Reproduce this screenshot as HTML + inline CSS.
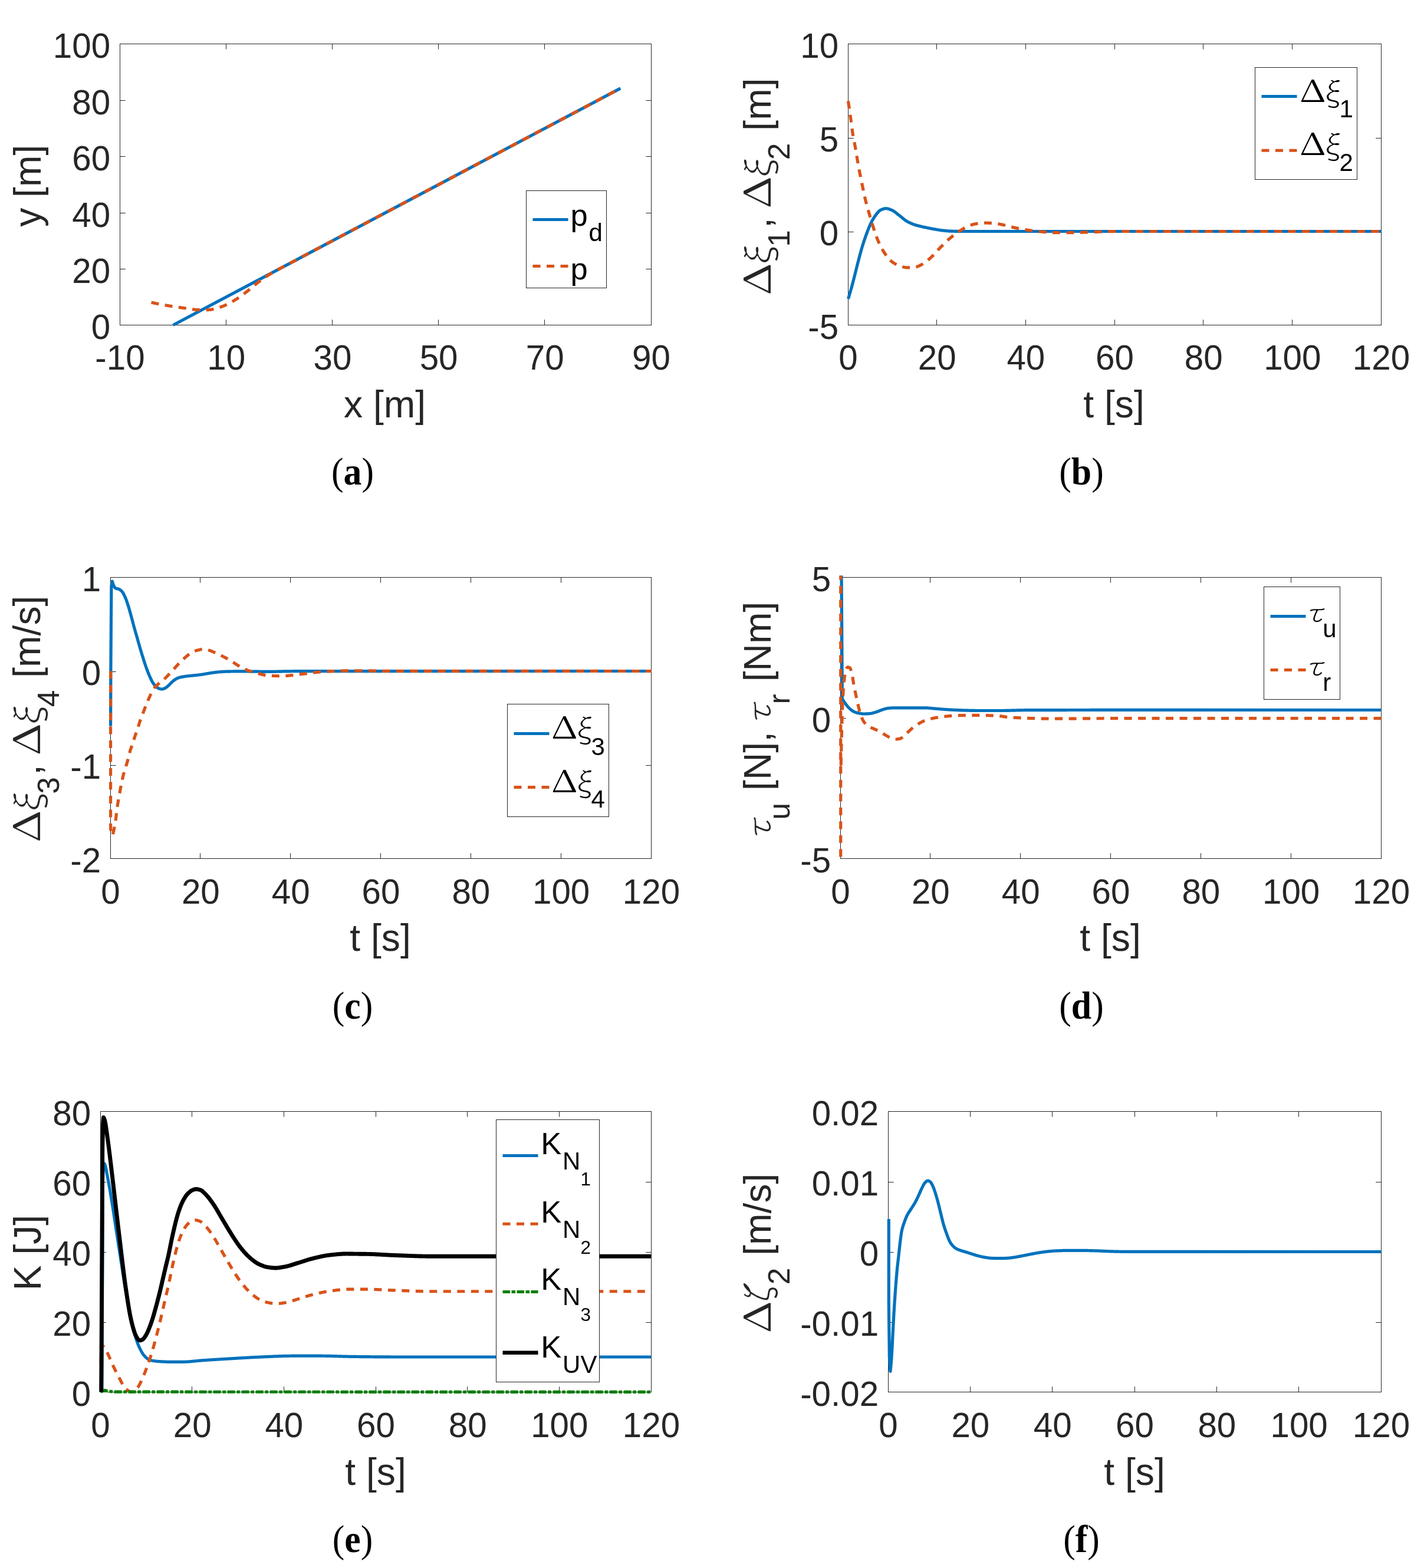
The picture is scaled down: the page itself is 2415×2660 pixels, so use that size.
<!DOCTYPE html>
<html lang="en">
<head>
<meta charset="utf-8">
<title>Figure</title>
<style>html,body{margin:0;padding:0;background:#fff}svg{display:block}text{white-space:pre}</style>
</head>
<body>
<svg xmlns="http://www.w3.org/2000/svg" width="2415" height="2660" viewBox="0 0 2415 2660">
<rect width="2415" height="2660" fill="#fff"/>
<g id="panel-a">
<rect x="203.5" y="74.5" width="901.0" height="477.0" fill="#fff" stroke="#262626" stroke-width="1"/>
<path d="M383.5 551.5v-9.2M383.5 74.5v9.2M563.5 551.5v-9.2M563.5 74.5v9.2M743.5 551.5v-9.2M743.5 74.5v9.2M923.5 551.5v-9.2M923.5 74.5v9.2M203.5 456.5h9.2M1104.5 456.5h-9.2M203.5 361.5h9.2M1104.5 361.5h-9.2M203.5 265.5h9.2M1104.5 265.5h-9.2M203.5 170.5h9.2M1104.5 170.5h-9.2" fill="none" stroke="#262626" stroke-width="1"/>
<clipPath id="c0"><rect x="200.5" y="71.5" width="907.0" height="483.0"/></clipPath>
<g clip-path="url(#c0)">
<path d="M293.6 551.5 L1052.24 149.87" fill="none" stroke="#0072bd" stroke-width="5.2" stroke-linecap="butt" stroke-linejoin="round"/>
<path d="M256.56 513.11 L257.56 513.33 L258.56 513.54 L259.56 513.74 L260.56 513.95 L261.56 514.16 L262.56 514.36 L263.56 514.56 L264.56 514.76 L265.56 514.96 L266.56 515.16 L267.56 515.36 L268.56 515.55 L269.56 515.75 L270.56 515.94 L271.56 516.13 L272.56 516.32 L273.56 516.51 L274.56 516.69 L275.56 516.88 L276.56 517.06 L277.56 517.24 L278.56 517.42 L279.56 517.6 L280.56 517.78 L281.56 517.95 L282.56 518.13 L283.56 518.3 L284.56 518.47 L285.56 518.64 L286.56 518.81 L287.56 518.98 L288.56 519.14 L289.56 519.31 L290.56 519.47 L291.56 519.63 L292.56 519.79 L293.56 519.95 L294.56 520.1 L295.56 520.26 L296.56 520.41 L297.56 520.55 L298.56 520.7 L299.56 520.84 L300.56 520.99 L301.56 521.13 L302.56 521.27 L303.56 521.41 L304.56 521.55 L305.56 521.69 L306.56 521.82 L307.56 521.96 L308.56 522.1 L309.56 522.23 L310.56 522.37 L311.56 522.51 L312.56 522.65 L313.56 522.78 L314.56 522.92 L315.56 523.07 L316.56 523.21 L317.56 523.37 L318.56 523.52 L319.56 523.68 L320.56 523.84 L321.56 524 L322.56 524.16 L323.56 524.32 L324.56 524.47 L325.56 524.62 L326.56 524.76 L327.56 524.89 L328.56 525.02 L329.56 525.13 L330.56 525.23 L331.56 525.32 L332.56 525.4 L333.56 525.46 L334.56 525.52 L335.56 525.58 L336.56 525.64 L337.56 525.7 L338.56 525.75 L339.56 525.79 L340.56 525.83 L341.56 525.86 L342.56 525.89 L343.56 525.9 L344.56 525.9 L345.56 525.89 L346.56 525.88 L347.56 525.85 L348.56 525.82 L349.56 525.78 L350.56 525.73 L351.56 525.68 L352.56 525.62 L353.56 525.56 L354.56 525.49 L355.56 525.42 L356.56 525.34 L357.56 525.21 L358.56 525.06 L359.56 524.87 L360.56 524.66 L361.56 524.43 L362.56 524.18 L363.56 523.92 L364.56 523.66 L365.56 523.39 L366.56 523.12 L367.56 522.86 L368.56 522.59 L369.56 522.31 L370.56 522.01 L371.56 521.71 L372.56 521.39 L373.56 521.06 L374.56 520.71 L375.56 520.36 L376.56 520 L377.56 519.62 L378.56 519.23 L379.56 518.83 L380.56 518.42 L381.56 517.98 L382.56 517.54 L383.56 517.08 L384.56 516.6 L385.56 516.11 L386.56 515.61 L387.56 515.1 L388.56 514.58 L389.56 514.05 L390.56 513.51 L391.56 512.96 L392.56 512.4 L393.56 511.83 L394.56 511.25 L395.56 510.67 L396.56 510.09 L397.56 509.5 L398.56 508.9 L399.56 508.29 L400.56 507.66 L401.56 507.02 L402.56 506.37 L403.56 505.7 L404.56 505.02 L405.56 504.33 L406.56 503.62 L407.56 502.91 L408.56 502.19 L409.56 501.46 L410.56 500.72 L411.56 499.98 L412.56 499.23 L413.56 498.48 L414.56 497.72 L415.56 496.96 L416.56 496.2 L417.56 495.44 L418.56 494.68 L419.56 493.9 L420.56 493.11 L421.56 492.3 L422.56 491.48 L423.56 490.65 L424.56 489.81 L425.56 488.97 L426.56 488.12 L427.56 487.27 L428.56 486.43 L429.56 485.59 L430.56 484.75 L431.56 483.92 L432.56 483.1 L433.56 482.29 L434.56 481.5 L435.56 480.72 L436.56 479.95 L437.56 479.2 L438.56 478.44 L439.56 477.7 L440.56 476.95 L441.56 476.21 L442.56 475.47 L443.56 474.74 L444.56 474.02 L445.56 473.3 L446.56 472.59 L447.56 471.88 L448.56 471.18 L449.56 470.49 L450.56 469.81 L451.56 469.13 L452.56 468.46 L453.56 467.8 L454.56 467.15 L455.56 466.51 L456.56 465.88 L457.56 465.25 L458.56 464.64 L459.56 464.04 L460.56 463.45 L461.56 462.86 L462.56 462.28 L463.56 461.7 L464.56 461.14 L465.56 460.57 L466.56 460.01 L467.56 459.45 L468.56 458.89 L469.56 458.34 L470.56 457.79 L471.56 457.24 L472.56 456.69 L473.56 456.15 L474.56 455.62 L475.56 455.08 L476.56 454.55 L477.56 454.03 L478.56 453.5 L479.56 452.99 L480.56 452.47 L481.56 451.96 L482.56 451.46 L482.81 451.33 L1052.24 149.87" fill="none" stroke="#d95319" stroke-width="5.2" stroke-linecap="butt" stroke-linejoin="round" stroke-dasharray="13 10.5"/>
</g>
<text x="203.5" y="627.1" font-family="'Liberation Sans', 'DejaVu Sans', sans-serif" font-size="58.3" text-anchor="middle" fill="#262626">-10</text>
<text x="383.7" y="627.1" font-family="'Liberation Sans', 'DejaVu Sans', sans-serif" font-size="58.3" text-anchor="middle" fill="#262626">10</text>
<text x="563.9" y="627.1" font-family="'Liberation Sans', 'DejaVu Sans', sans-serif" font-size="58.3" text-anchor="middle" fill="#262626">30</text>
<text x="744.1" y="627.1" font-family="'Liberation Sans', 'DejaVu Sans', sans-serif" font-size="58.3" text-anchor="middle" fill="#262626">50</text>
<text x="924.3" y="627.1" font-family="'Liberation Sans', 'DejaVu Sans', sans-serif" font-size="58.3" text-anchor="middle" fill="#262626">70</text>
<text x="1104.5" y="627.1" font-family="'Liberation Sans', 'DejaVu Sans', sans-serif" font-size="58.3" text-anchor="middle" fill="#262626">90</text>
<text x="187.1" y="575.4" font-family="'Liberation Sans', 'DejaVu Sans', sans-serif" font-size="58.3" text-anchor="end" fill="#262626">0</text>
<text x="187.1" y="480" font-family="'Liberation Sans', 'DejaVu Sans', sans-serif" font-size="58.3" text-anchor="end" fill="#262626">20</text>
<text x="187.1" y="384.6" font-family="'Liberation Sans', 'DejaVu Sans', sans-serif" font-size="58.3" text-anchor="end" fill="#262626">40</text>
<text x="187.1" y="289.2" font-family="'Liberation Sans', 'DejaVu Sans', sans-serif" font-size="58.3" text-anchor="end" fill="#262626">60</text>
<text x="187.1" y="193.8" font-family="'Liberation Sans', 'DejaVu Sans', sans-serif" font-size="58.3" text-anchor="end" fill="#262626">80</text>
<text x="187.1" y="98.4" font-family="'Liberation Sans', 'DejaVu Sans', sans-serif" font-size="58.3" text-anchor="end" fill="#262626">100</text>
<text x="652.5" y="707.5" font-family="'Liberation Sans', 'DejaVu Sans', sans-serif" font-size="64.2" text-anchor="middle" fill="#262626">x [m]</text>
<g transform="translate(69 384.84) rotate(-90)">
<text x="0" y="0" font-family="'Liberation Sans', 'DejaVu Sans', sans-serif" font-size="64.2" fill="#262626">y [m]</text>
</g>
<rect x="892.5" y="323.5" width="136.0" height="165.0" fill="#fff" stroke="#262626" stroke-width="1"/>
<path d="M903.5 372.4H963.5" stroke="#0072bd" stroke-width="5" fill="none"/>
<text x="967.5" y="382.7" font-family="'Liberation Sans', 'DejaVu Sans', sans-serif" font-size="52.5" fill="#000">p</text>
<text x="998.54" y="408.95" font-family="'Liberation Sans', 'DejaVu Sans', sans-serif" font-size="42" fill="#000">d</text>
<path d="M903.5 451.4H963.5" stroke="#d95319" stroke-width="5" stroke-dasharray="13 10.5" fill="none"/>
<text x="967.5" y="473.5" font-family="'Liberation Sans', 'DejaVu Sans', sans-serif" font-size="52.5" fill="#000">p</text>
<text transform="translate(598 822.3) scale(0.935 1)" font-family="'Liberation Serif', 'DejaVu Serif', serif" font-size="66" text-anchor="middle" fill="#000">(<tspan font-weight="bold">a</tspan>)</text>
</g>
<g id="panel-b">
<rect x="1438.5" y="74.5" width="904.0" height="477.0" fill="#fff" stroke="#262626" stroke-width="1"/>
<path d="M1588.5 551.5v-9.2M1588.5 74.5v9.2M1739.5 551.5v-9.2M1739.5 74.5v9.2M1890.5 551.5v-9.2M1890.5 74.5v9.2M2040.5 551.5v-9.2M2040.5 74.5v9.2M2191.5 551.5v-9.2M2191.5 74.5v9.2M1438.5 393.5h9.2M2342.5 393.5h-9.2M1438.5 234.5h9.2M2342.5 234.5h-9.2" fill="none" stroke="#262626" stroke-width="1"/>
<clipPath id="c1"><rect x="1435.5" y="71.5" width="910.0" height="483.0"/></clipPath>
<g clip-path="url(#c1)">
<path d="M1438.5 506.98 L1439.5 503.7 L1440.5 500.36 L1441.5 496.95 L1442.5 493.48 L1443.5 489.95 L1444.5 486.36 L1445.5 482.72 L1446.5 479.01 L1447.5 475.19 L1448.5 471.25 L1449.5 467.22 L1450.5 463.14 L1451.5 459.06 L1452.5 455.01 L1453.5 451.04 L1454.5 447.17 L1455.5 443.32 L1456.5 439.48 L1457.5 435.66 L1458.5 431.89 L1459.5 428.2 L1460.5 424.61 L1461.5 421.15 L1462.5 417.83 L1463.5 414.61 L1464.5 411.47 L1465.5 408.41 L1466.5 405.44 L1467.5 402.54 L1468.5 399.72 L1469.5 396.99 L1470.5 394.33 L1471.5 391.69 L1472.5 389.11 L1473.5 386.58 L1474.5 384.15 L1475.5 381.82 L1476.5 379.62 L1477.5 377.57 L1478.5 375.66 L1479.5 373.82 L1480.5 372.05 L1481.5 370.36 L1482.5 368.76 L1483.5 367.24 L1484.5 365.82 L1485.5 364.49 L1486.5 363.23 L1487.5 361.97 L1488.5 360.74 L1489.5 359.57 L1490.5 358.5 L1491.5 357.57 L1492.5 356.8 L1493.5 356.25 L1494.5 355.8 L1495.5 355.38 L1496.5 354.99 L1497.5 354.64 L1498.5 354.32 L1499.5 354.07 L1500.5 353.87 L1501.5 353.75 L1502.5 353.7 L1503.5 353.75 L1504.5 353.87 L1505.5 354.06 L1506.5 354.31 L1507.5 354.61 L1508.5 354.95 L1509.5 355.31 L1510.5 355.69 L1511.5 356.08 L1512.5 356.47 L1513.5 356.94 L1514.5 357.49 L1515.5 358.1 L1516.5 358.77 L1517.5 359.49 L1518.5 360.25 L1519.5 361.03 L1520.5 361.83 L1521.5 362.63 L1522.5 363.44 L1523.5 364.23 L1524.5 365 L1525.5 365.74 L1526.5 366.51 L1527.5 367.31 L1528.5 368.13 L1529.5 368.96 L1530.5 369.8 L1531.5 370.64 L1532.5 371.46 L1533.5 372.26 L1534.5 373.03 L1535.5 373.76 L1536.5 374.45 L1537.5 375.07 L1538.5 375.64 L1539.5 376.19 L1540.5 376.72 L1541.5 377.23 L1542.5 377.72 L1543.5 378.2 L1544.5 378.66 L1545.5 379.1 L1546.5 379.52 L1547.5 379.93 L1548.5 380.32 L1549.5 380.69 L1550.5 381.04 L1551.5 381.37 L1552.5 381.69 L1553.5 381.99 L1554.5 382.28 L1555.5 382.56 L1556.5 382.83 L1557.5 383.09 L1558.5 383.34 L1559.5 383.58 L1560.5 383.82 L1561.5 384.05 L1562.5 384.28 L1563.5 384.5 L1564.5 384.72 L1565.5 384.95 L1566.5 385.17 L1567.5 385.39 L1568.5 385.61 L1569.5 385.83 L1570.5 386.04 L1571.5 386.26 L1572.5 386.46 L1573.5 386.67 L1574.5 386.87 L1575.5 387.07 L1576.5 387.27 L1577.5 387.46 L1578.5 387.65 L1579.5 387.84 L1580.5 388.02 L1581.5 388.21 L1582.5 388.39 L1583.5 388.57 L1584.5 388.75 L1585.5 388.93 L1586.5 389.11 L1587.5 389.29 L1588.5 389.47 L1589.5 389.64 L1590.5 389.81 L1591.5 389.98 L1592.5 390.14 L1593.5 390.3 L1594.5 390.44 L1595.5 390.58 L1596.5 390.71 L1597.5 390.83 L1598.5 390.94 L1599.5 391.05 L1600.5 391.15 L1601.5 391.26 L1602.5 391.36 L1603.5 391.46 L1604.5 391.56 L1605.5 391.65 L1606.5 391.74 L1607.5 391.82 L1608.5 391.9 L1609.5 391.97 L1610.5 392.03 L1611.5 392.08 L1612.5 392.13 L1613.5 392.17 L1614.5 392.19 L1615.5 392.22 L1616.5 392.25 L1617.5 392.27 L1618.5 392.29 L1619.5 392.32 L1620.5 392.34 L1621.5 392.36 L1622.5 392.38 L1623.5 392.4 L1624.5 392.41 L1625.5 392.43 L1626.5 392.44 L1627.5 392.46 L1628.5 392.47 L1629.5 392.48 L1630.5 392.49 L1631.5 392.49 L1632.5 392.5 L1633.5 392.5 L1634.5 392.5 L1635.5 392.5 L1636.5 392.5 L1637.5 392.5 L1638.5 392.5 L1639.5 392.5 L1640.5 392.5 L1641.5 392.5 L1642.5 392.5 L1643.5 392.5 L1644.5 392.5 L1645.5 392.5 L1646.5 392.5 L1647.5 392.5 L1648.5 392.5 L1649.5 392.5 L1650.5 392.5 L1651.5 392.5 L1652.5 392.5 L1653.5 392.5 L1654.5 392.5 L1655.5 392.5 L1656.5 392.5 L1657.5 392.5 L1658.5 392.5 L1659.5 392.5 L1660.5 392.5 L1661.5 392.5 L1662.5 392.5 L1663.5 392.5 L1664.5 392.5 L1665.5 392.5 L1666.5 392.5 L1667.5 392.5 L1668.5 392.5 L1669.5 392.5 L1670.5 392.5 L1671.5 392.5 L1672.5 392.5 L1673.5 392.5 L1674.5 392.5 L1675.5 392.5 L1676.5 392.5 L1677.5 392.5 L1678.5 392.5 L1679.5 392.5 L1680.5 392.5 L1681.5 392.5 L1682.5 392.5 L1683.5 392.5 L1684.5 392.5 L1685.5 392.5 L1686.5 392.5 L1687.5 392.5 L1688.5 392.5 L1689.5 392.5 L1690.5 392.5 L1691.5 392.5 L1692.5 392.5 L1693.5 392.5 L1694.5 392.5 L1695.5 392.5 L1696.5 392.5 L1697.5 392.5 L1698.5 392.5 L1699.5 392.5 L1700.5 392.5 L1701.5 392.5 L1702.5 392.5 L1703.5 392.5 L1704.5 392.5 L1705.5 392.5 L1706.5 392.5 L1707.5 392.5 L1708.5 392.5 L1709.5 392.5 L1710.5 392.5 L1711.5 392.5 L1712.5 392.5 L1713.5 392.5 L1714.5 392.5 L1715.5 392.5 L1716.5 392.5 L1717.5 392.5 L1718.5 392.5 L1719.5 392.5 L1720.5 392.5 L1721.5 392.5 L1722.5 392.5 L1723.5 392.5 L1724.5 392.5 L1725.5 392.5 L1726.5 392.5 L1727.5 392.5 L1728.5 392.5 L1729.5 392.5 L1730.5 392.5 L1731.5 392.5 L1732.5 392.5 L1733.5 392.5 L1734.5 392.5 L1735.5 392.5 L1736.5 392.5 L1737.5 392.5 L1738.5 392.5 L1739.5 392.5 L1740.5 392.5 L1741.5 392.5 L1742.5 392.5 L1743.5 392.5 L1744.5 392.5 L1745.5 392.5 L1746.5 392.5 L1747.5 392.5 L1748.5 392.5 L1749.5 392.5 L1750.5 392.5 L1751.5 392.5 L1752.5 392.5 L1753.5 392.5 L1754.5 392.5 L1755.5 392.5 L1756.5 392.5 L1757.5 392.5 L1758.5 392.5 L1759.5 392.5 L1760.5 392.5 L1761.5 392.5 L1762.5 392.5 L1763.5 392.5 L1764.5 392.5 L1765.5 392.5 L1766.5 392.5 L1767.5 392.5 L1768.5 392.5 L1769.5 392.5 L1770.5 392.5 L1771.5 392.5 L1772.5 392.5 L1773.5 392.5 L1774.5 392.5 L1775.5 392.5 L1776.5 392.5 L1777.5 392.5 L1778.5 392.5 L1779.5 392.5 L1780.5 392.5 L1781.5 392.5 L1782.5 392.5 L1783.5 392.5 L1784.5 392.5 L1785.5 392.5 L1786.5 392.5 L1787.5 392.5 L1788.5 392.5 L1789.5 392.5 L1790.5 392.5 L1791.5 392.5 L1792.5 392.5 L1793.5 392.5 L1794.5 392.5 L1795.5 392.5 L1796.5 392.5 L1797.5 392.5 L1798.5 392.5 L1799.5 392.5 L1800.5 392.5 L1801.5 392.5 L1802.5 392.5 L1803.5 392.5 L1804.5 392.5 L1805.5 392.5 L1806.5 392.5 L1807.5 392.5 L1808.5 392.5 L1809.5 392.5 L1810.5 392.5 L1811.5 392.5 L1812.5 392.5 L1813.5 392.5 L1814.5 392.5 L1815.5 392.5 L1816.5 392.5 L1817.5 392.5 L1818.5 392.5 L1819.5 392.5 L1820.5 392.5 L1821.5 392.5 L1822.5 392.5 L1823.5 392.5 L1824.5 392.5 L1825.5 392.5 L1826.5 392.5 L1827.5 392.5 L1828.5 392.5 L1829.5 392.5 L1830.5 392.5 L1831.5 392.5 L1832.5 392.5 L1833.5 392.5 L1834.5 392.5 L1835.5 392.5 L1836.5 392.5 L1837.5 392.5 L1838.5 392.5 L1839.5 392.5 L1840.5 392.5 L1841.5 392.5 L1842.5 392.5 L1843.5 392.5 L1844.5 392.5 L1845.5 392.5 L1846.5 392.5 L1847.5 392.5 L1848.5 392.5 L1849.5 392.5 L1850.5 392.5 L1851.5 392.5 L1852.5 392.5 L1853.5 392.5 L1854.5 392.5 L1855.5 392.5 L1856.5 392.5 L1857.5 392.5 L1858.5 392.5 L1859.5 392.5 L1860.5 392.5 L1861.5 392.5 L1862.5 392.5 L1863.5 392.5 L1864.5 392.5 L1865.5 392.5 L1866.5 392.5 L1867.5 392.5 L1868.5 392.5 L1869.5 392.5 L1870.5 392.5 L1871.5 392.5 L1872.5 392.5 L1873.5 392.5 L1874.5 392.5 L1875.5 392.5 L1876.5 392.5 L1877.5 392.5 L1878.5 392.5 L1879.5 392.5 L1880.5 392.5 L1881.5 392.5 L1882.5 392.5 L1883.5 392.5 L1884.5 392.5 L1885.5 392.5 L1886.5 392.5 L1887.5 392.5 L1888.5 392.5 L1889.5 392.5 L1890.5 392.5 L1891.5 392.5 L1892.5 392.5 L1893.5 392.5 L1894.5 392.5 L1895.5 392.5 L1896.5 392.5 L1897.5 392.5 L1898.5 392.5 L1899.5 392.5 L1900.5 392.5 L1901.5 392.5 L1902.5 392.5 L1903.5 392.5 L1904.5 392.5 L1905.5 392.5 L1906.5 392.5 L1907.5 392.5 L1908.5 392.5 L1909.5 392.5 L1910.5 392.5 L1911.5 392.5 L1912.5 392.5 L1913.5 392.5 L1914.5 392.5 L1915.5 392.5 L1916.5 392.5 L1917.5 392.5 L1918.5 392.5 L1919.5 392.5 L1920.5 392.5 L1921.5 392.5 L1922.5 392.5 L1923.5 392.5 L1924.5 392.5 L1925.5 392.5 L1926.5 392.5 L1927.5 392.5 L1928.5 392.5 L1929.5 392.5 L1930.5 392.5 L1931.5 392.5 L1932.5 392.5 L1933.5 392.5 L1934.5 392.5 L1935.5 392.5 L1936.5 392.5 L1937.5 392.5 L1938.5 392.5 L1939.5 392.5 L1940.5 392.5 L1941.5 392.5 L1942.5 392.5 L1943.5 392.5 L1944.5 392.5 L1945.5 392.5 L1946.5 392.5 L1947.5 392.5 L1948.5 392.5 L1949.5 392.5 L1950.5 392.5 L1951.5 392.5 L1952.5 392.5 L1953.5 392.5 L1954.5 392.5 L1955.5 392.5 L1956.5 392.5 L1957.5 392.5 L1958.5 392.5 L1959.5 392.5 L1960.5 392.5 L1961.5 392.5 L1962.5 392.5 L1963.5 392.5 L1964.5 392.5 L1965.5 392.5 L1966.5 392.5 L1967.5 392.5 L1968.5 392.5 L1969.5 392.5 L1970.5 392.5 L1971.5 392.5 L1972.5 392.5 L1973.5 392.5 L1974.5 392.5 L1975.5 392.5 L1976.5 392.5 L1977.5 392.5 L1978.5 392.5 L1979.5 392.5 L1980.5 392.5 L1981.5 392.5 L1982.5 392.5 L1983.5 392.5 L1984.5 392.5 L1985.5 392.5 L1986.5 392.5 L1987.5 392.5 L1988.5 392.5 L1989.5 392.5 L1990.5 392.5 L1991.5 392.5 L1992.5 392.5 L1993.5 392.5 L1994.5 392.5 L1995.5 392.5 L1996.5 392.5 L1997.5 392.5 L1998.5 392.5 L1999.5 392.5 L2000.5 392.5 L2001.5 392.5 L2002.5 392.5 L2003.5 392.5 L2004.5 392.5 L2005.5 392.5 L2006.5 392.5 L2007.5 392.5 L2008.5 392.5 L2009.5 392.5 L2010.5 392.5 L2011.5 392.5 L2012.5 392.5 L2013.5 392.5 L2014.5 392.5 L2015.5 392.5 L2016.5 392.5 L2017.5 392.5 L2018.5 392.5 L2019.5 392.5 L2020.5 392.5 L2021.5 392.5 L2022.5 392.5 L2023.5 392.5 L2024.5 392.5 L2025.5 392.5 L2026.5 392.5 L2027.5 392.5 L2028.5 392.5 L2029.5 392.5 L2030.5 392.5 L2031.5 392.5 L2032.5 392.5 L2033.5 392.5 L2034.5 392.5 L2035.5 392.5 L2036.5 392.5 L2037.5 392.5 L2038.5 392.5 L2039.5 392.5 L2040.5 392.5 L2041.5 392.5 L2042.5 392.5 L2043.5 392.5 L2044.5 392.5 L2045.5 392.5 L2046.5 392.5 L2047.5 392.5 L2048.5 392.5 L2049.5 392.5 L2050.5 392.5 L2051.5 392.5 L2052.5 392.5 L2053.5 392.5 L2054.5 392.5 L2055.5 392.5 L2056.5 392.5 L2057.5 392.5 L2058.5 392.5 L2059.5 392.5 L2060.5 392.5 L2061.5 392.5 L2062.5 392.5 L2063.5 392.5 L2064.5 392.5 L2065.5 392.5 L2066.5 392.5 L2067.5 392.5 L2068.5 392.5 L2069.5 392.5 L2070.5 392.5 L2071.5 392.5 L2072.5 392.5 L2073.5 392.5 L2074.5 392.5 L2075.5 392.5 L2076.5 392.5 L2077.5 392.5 L2078.5 392.5 L2079.5 392.5 L2080.5 392.5 L2081.5 392.5 L2082.5 392.5 L2083.5 392.5 L2084.5 392.5 L2085.5 392.5 L2086.5 392.5 L2087.5 392.5 L2088.5 392.5 L2089.5 392.5 L2090.5 392.5 L2091.5 392.5 L2092.5 392.5 L2093.5 392.5 L2094.5 392.5 L2095.5 392.5 L2096.5 392.5 L2097.5 392.5 L2098.5 392.5 L2099.5 392.5 L2100.5 392.5 L2101.5 392.5 L2102.5 392.5 L2103.5 392.5 L2104.5 392.5 L2105.5 392.5 L2106.5 392.5 L2107.5 392.5 L2108.5 392.5 L2109.5 392.5 L2110.5 392.5 L2111.5 392.5 L2112.5 392.5 L2113.5 392.5 L2114.5 392.5 L2115.5 392.5 L2116.5 392.5 L2117.5 392.5 L2118.5 392.5 L2119.5 392.5 L2120.5 392.5 L2121.5 392.5 L2122.5 392.5 L2123.5 392.5 L2124.5 392.5 L2125.5 392.5 L2126.5 392.5 L2127.5 392.5 L2128.5 392.5 L2129.5 392.5 L2130.5 392.5 L2131.5 392.5 L2132.5 392.5 L2133.5 392.5 L2134.5 392.5 L2135.5 392.5 L2136.5 392.5 L2137.5 392.5 L2138.5 392.5 L2139.5 392.5 L2140.5 392.5 L2141.5 392.5 L2142.5 392.5 L2143.5 392.5 L2144.5 392.5 L2145.5 392.5 L2146.5 392.5 L2147.5 392.5 L2148.5 392.5 L2149.5 392.5 L2150.5 392.5 L2151.5 392.5 L2152.5 392.5 L2153.5 392.5 L2154.5 392.5 L2155.5 392.5 L2156.5 392.5 L2157.5 392.5 L2158.5 392.5 L2159.5 392.5 L2160.5 392.5 L2161.5 392.5 L2162.5 392.5 L2163.5 392.5 L2164.5 392.5 L2165.5 392.5 L2166.5 392.5 L2167.5 392.5 L2168.5 392.5 L2169.5 392.5 L2170.5 392.5 L2171.5 392.5 L2172.5 392.5 L2173.5 392.5 L2174.5 392.5 L2175.5 392.5 L2176.5 392.5 L2177.5 392.5 L2178.5 392.5 L2179.5 392.5 L2180.5 392.5 L2181.5 392.5 L2182.5 392.5 L2183.5 392.5 L2184.5 392.5 L2185.5 392.5 L2186.5 392.5 L2187.5 392.5 L2188.5 392.5 L2189.5 392.5 L2190.5 392.5 L2191.5 392.5 L2192.5 392.5 L2193.5 392.5 L2194.5 392.5 L2195.5 392.5 L2196.5 392.5 L2197.5 392.5 L2198.5 392.5 L2199.5 392.5 L2200.5 392.5 L2201.5 392.5 L2202.5 392.5 L2203.5 392.5 L2204.5 392.5 L2205.5 392.5 L2206.5 392.5 L2207.5 392.5 L2208.5 392.5 L2209.5 392.5 L2210.5 392.5 L2211.5 392.5 L2212.5 392.5 L2213.5 392.5 L2214.5 392.5 L2215.5 392.5 L2216.5 392.5 L2217.5 392.5 L2218.5 392.5 L2219.5 392.5 L2220.5 392.5 L2221.5 392.5 L2222.5 392.5 L2223.5 392.5 L2224.5 392.5 L2225.5 392.5 L2226.5 392.5 L2227.5 392.5 L2228.5 392.5 L2229.5 392.5 L2230.5 392.5 L2231.5 392.5 L2232.5 392.5 L2233.5 392.5 L2234.5 392.5 L2235.5 392.5 L2236.5 392.5 L2237.5 392.5 L2238.5 392.5 L2239.5 392.5 L2240.5 392.5 L2241.5 392.5 L2242.5 392.5 L2243.5 392.5 L2244.5 392.5 L2245.5 392.5 L2246.5 392.5 L2247.5 392.5 L2248.5 392.5 L2249.5 392.5 L2250.5 392.5 L2251.5 392.5 L2252.5 392.5 L2253.5 392.5 L2254.5 392.5 L2255.5 392.5 L2256.5 392.5 L2257.5 392.5 L2258.5 392.5 L2259.5 392.5 L2260.5 392.5 L2261.5 392.5 L2262.5 392.5 L2263.5 392.5 L2264.5 392.5 L2265.5 392.5 L2266.5 392.5 L2267.5 392.5 L2268.5 392.5 L2269.5 392.5 L2270.5 392.5 L2271.5 392.5 L2272.5 392.5 L2273.5 392.5 L2274.5 392.5 L2275.5 392.5 L2276.5 392.5 L2277.5 392.5 L2278.5 392.5 L2279.5 392.5 L2280.5 392.5 L2281.5 392.5 L2282.5 392.5 L2283.5 392.5 L2284.5 392.5 L2285.5 392.5 L2286.5 392.5 L2287.5 392.5 L2288.5 392.5 L2289.5 392.5 L2290.5 392.5 L2291.5 392.5 L2292.5 392.5 L2293.5 392.5 L2294.5 392.5 L2295.5 392.5 L2296.5 392.5 L2297.5 392.5 L2298.5 392.5 L2299.5 392.5 L2300.5 392.5 L2301.5 392.5 L2302.5 392.5 L2303.5 392.5 L2304.5 392.5 L2305.5 392.5 L2306.5 392.5 L2307.5 392.5 L2308.5 392.5 L2309.5 392.5 L2310.5 392.5 L2311.5 392.5 L2312.5 392.5 L2313.5 392.5 L2314.5 392.5 L2315.5 392.5 L2316.5 392.5 L2317.5 392.5 L2318.5 392.5 L2319.5 392.5 L2320.5 392.5 L2321.5 392.5 L2322.5 392.5 L2323.5 392.5 L2324.5 392.5 L2325.5 392.5 L2326.5 392.5 L2327.5 392.5 L2328.5 392.5 L2329.5 392.5 L2330.5 392.5 L2331.5 392.5 L2332.5 392.5 L2333.5 392.5 L2334.5 392.5 L2335.5 392.5 L2336.5 392.5 L2337.5 392.5 L2338.5 392.5 L2339.5 392.5 L2340.5 392.5 L2341.5 392.5 L2342.5 392.5" fill="none" stroke="#0072bd" stroke-width="5.2" stroke-linecap="butt" stroke-linejoin="round"/>
<path d="M1438.5 171.49 L1439.5 178.32 L1440.5 185.26 L1441.5 192.29 L1442.5 199.43 L1443.5 206.99 L1444.5 214.77 L1445.5 222.22 L1446.5 228.78 L1447.5 234.34 L1448.5 239.37 L1449.5 244.35 L1450.5 249.74 L1451.5 255.65 L1452.5 261.8 L1453.5 267.92 L1454.5 273.75 L1455.5 279.38 L1456.5 284.88 L1457.5 290.22 L1458.5 295.4 L1459.5 300.43 L1460.5 305.32 L1461.5 310.13 L1462.5 314.88 L1463.5 319.63 L1464.5 324.41 L1465.5 329.15 L1466.5 333.76 L1467.5 338.15 L1468.5 342.24 L1469.5 346.09 L1470.5 349.75 L1471.5 353.29 L1472.5 356.77 L1473.5 360.23 L1474.5 363.74 L1475.5 367.25 L1476.5 370.74 L1477.5 374.19 L1478.5 377.57 L1479.5 380.86 L1480.5 384.04 L1481.5 387.15 L1482.5 390.24 L1483.5 393.27 L1484.5 396.23 L1485.5 399.1 L1486.5 401.83 L1487.5 404.42 L1488.5 406.84 L1489.5 409.16 L1490.5 411.43 L1491.5 413.63 L1492.5 415.76 L1493.5 417.81 L1494.5 419.78 L1495.5 421.67 L1496.5 423.46 L1497.5 425.16 L1498.5 426.75 L1499.5 428.27 L1500.5 429.75 L1501.5 431.21 L1502.5 432.63 L1503.5 434.01 L1504.5 435.35 L1505.5 436.63 L1506.5 437.87 L1507.5 439.05 L1508.5 440.16 L1509.5 441.21 L1510.5 442.18 L1511.5 443.08 L1512.5 443.9 L1513.5 444.64 L1514.5 445.33 L1515.5 445.99 L1516.5 446.62 L1517.5 447.21 L1518.5 447.77 L1519.5 448.3 L1520.5 448.8 L1521.5 449.26 L1522.5 449.7 L1523.5 450.1 L1524.5 450.47 L1525.5 450.82 L1526.5 451.16 L1527.5 451.51 L1528.5 451.86 L1529.5 452.19 L1530.5 452.52 L1531.5 452.82 L1532.5 453.09 L1533.5 453.33 L1534.5 453.54 L1535.5 453.7 L1536.5 453.81 L1537.5 453.87 L1538.5 453.87 L1539.5 453.86 L1540.5 453.85 L1541.5 453.82 L1542.5 453.79 L1543.5 453.76 L1544.5 453.71 L1545.5 453.66 L1546.5 453.6 L1547.5 453.54 L1548.5 453.47 L1549.5 453.4 L1550.5 453.32 L1551.5 453.24 L1552.5 453.11 L1553.5 452.91 L1554.5 452.65 L1555.5 452.32 L1556.5 451.95 L1557.5 451.54 L1558.5 451.1 L1559.5 450.64 L1560.5 450.16 L1561.5 449.68 L1562.5 449.2 L1563.5 448.68 L1564.5 448.11 L1565.5 447.5 L1566.5 446.84 L1567.5 446.15 L1568.5 445.43 L1569.5 444.68 L1570.5 443.9 L1571.5 443.1 L1572.5 442.27 L1573.5 441.44 L1574.5 440.58 L1575.5 439.72 L1576.5 438.85 L1577.5 437.98 L1578.5 437.09 L1579.5 436.16 L1580.5 435.19 L1581.5 434.17 L1582.5 433.13 L1583.5 432.06 L1584.5 430.96 L1585.5 429.86 L1586.5 428.74 L1587.5 427.62 L1588.5 426.51 L1589.5 425.4 L1590.5 424.31 L1591.5 423.24 L1592.5 422.2 L1593.5 421.18 L1594.5 420.16 L1595.5 419.14 L1596.5 418.12 L1597.5 417.1 L1598.5 416.09 L1599.5 415.07 L1600.5 414.07 L1601.5 413.07 L1602.5 412.08 L1603.5 411.1 L1604.5 410.13 L1605.5 409.18 L1606.5 408.25 L1607.5 407.33 L1608.5 406.43 L1609.5 405.55 L1610.5 404.7 L1611.5 403.86 L1612.5 403.03 L1613.5 402.2 L1614.5 401.39 L1615.5 400.59 L1616.5 399.8 L1617.5 399.02 L1618.5 398.26 L1619.5 397.5 L1620.5 396.76 L1621.5 396.03 L1622.5 395.31 L1623.5 394.61 L1624.5 393.91 L1625.5 393.24 L1626.5 392.57 L1627.5 391.92 L1628.5 391.28 L1629.5 390.63 L1630.5 389.98 L1631.5 389.34 L1632.5 388.7 L1633.5 388.07 L1634.5 387.46 L1635.5 386.86 L1636.5 386.27 L1637.5 385.71 L1638.5 385.17 L1639.5 384.66 L1640.5 384.17 L1641.5 383.72 L1642.5 383.31 L1643.5 382.93 L1644.5 382.57 L1645.5 382.21 L1646.5 381.87 L1647.5 381.54 L1648.5 381.22 L1649.5 380.92 L1650.5 380.64 L1651.5 380.37 L1652.5 380.13 L1653.5 379.92 L1654.5 379.72 L1655.5 379.56 L1656.5 379.43 L1657.5 379.3 L1658.5 379.18 L1659.5 379.06 L1660.5 378.94 L1661.5 378.83 L1662.5 378.73 L1663.5 378.63 L1664.5 378.54 L1665.5 378.46 L1666.5 378.39 L1667.5 378.33 L1668.5 378.27 L1669.5 378.23 L1670.5 378.21 L1671.5 378.19 L1672.5 378.19 L1673.5 378.2 L1674.5 378.22 L1675.5 378.25 L1676.5 378.29 L1677.5 378.34 L1678.5 378.4 L1679.5 378.46 L1680.5 378.53 L1681.5 378.6 L1682.5 378.68 L1683.5 378.76 L1684.5 378.85 L1685.5 378.93 L1686.5 379.02 L1687.5 379.11 L1688.5 379.21 L1689.5 379.32 L1690.5 379.45 L1691.5 379.59 L1692.5 379.75 L1693.5 379.92 L1694.5 380.1 L1695.5 380.29 L1696.5 380.49 L1697.5 380.69 L1698.5 380.9 L1699.5 381.12 L1700.5 381.33 L1701.5 381.55 L1702.5 381.76 L1703.5 381.97 L1704.5 382.18 L1705.5 382.41 L1706.5 382.64 L1707.5 382.88 L1708.5 383.13 L1709.5 383.38 L1710.5 383.64 L1711.5 383.91 L1712.5 384.17 L1713.5 384.44 L1714.5 384.7 L1715.5 384.96 L1716.5 385.22 L1717.5 385.47 L1718.5 385.72 L1719.5 385.96 L1720.5 386.19 L1721.5 386.4 L1722.5 386.61 L1723.5 386.82 L1724.5 387.02 L1725.5 387.23 L1726.5 387.43 L1727.5 387.62 L1728.5 387.82 L1729.5 388.01 L1730.5 388.2 L1731.5 388.38 L1732.5 388.57 L1733.5 388.75 L1734.5 388.93 L1735.5 389.1 L1736.5 389.27 L1737.5 389.44 L1738.5 389.6 L1739.5 389.76 L1740.5 389.92 L1741.5 390.07 L1742.5 390.22 L1743.5 390.37 L1744.5 390.52 L1745.5 390.66 L1746.5 390.8 L1747.5 390.95 L1748.5 391.09 L1749.5 391.23 L1750.5 391.36 L1751.5 391.5 L1752.5 391.63 L1753.5 391.76 L1754.5 391.89 L1755.5 392.02 L1756.5 392.14 L1757.5 392.26 L1758.5 392.38 L1759.5 392.49 L1760.5 392.6 L1761.5 392.7 L1762.5 392.8 L1763.5 392.9 L1764.5 392.99 L1765.5 393.08 L1766.5 393.16 L1767.5 393.24 L1768.5 393.33 L1769.5 393.41 L1770.5 393.49 L1771.5 393.58 L1772.5 393.66 L1773.5 393.74 L1774.5 393.83 L1775.5 393.91 L1776.5 393.99 L1777.5 394.06 L1778.5 394.14 L1779.5 394.21 L1780.5 394.28 L1781.5 394.34 L1782.5 394.4 L1783.5 394.46 L1784.5 394.51 L1785.5 394.56 L1786.5 394.6 L1787.5 394.64 L1788.5 394.67 L1789.5 394.69 L1790.5 394.71 L1791.5 394.72 L1792.5 394.73 L1793.5 394.73 L1794.5 394.73 L1795.5 394.73 L1796.5 394.73 L1797.5 394.73 L1798.5 394.73 L1799.5 394.73 L1800.5 394.73 L1801.5 394.73 L1802.5 394.73 L1803.5 394.73 L1804.5 394.73 L1805.5 394.73 L1806.5 394.73 L1807.5 394.73 L1808.5 394.73 L1809.5 394.73 L1810.5 394.73 L1811.5 394.73 L1812.5 394.73 L1813.5 394.73 L1814.5 394.72 L1815.5 394.72 L1816.5 394.71 L1817.5 394.7 L1818.5 394.69 L1819.5 394.68 L1820.5 394.66 L1821.5 394.64 L1822.5 394.62 L1823.5 394.59 L1824.5 394.57 L1825.5 394.54 L1826.5 394.51 L1827.5 394.48 L1828.5 394.45 L1829.5 394.42 L1830.5 394.39 L1831.5 394.36 L1832.5 394.33 L1833.5 394.29 L1834.5 394.26 L1835.5 394.23 L1836.5 394.2 L1837.5 394.17 L1838.5 394.14 L1839.5 394.11 L1840.5 394.08 L1841.5 394.05 L1842.5 394.01 L1843.5 393.98 L1844.5 393.95 L1845.5 393.91 L1846.5 393.87 L1847.5 393.84 L1848.5 393.8 L1849.5 393.76 L1850.5 393.72 L1851.5 393.68 L1852.5 393.64 L1853.5 393.6 L1854.5 393.56 L1855.5 393.52 L1856.5 393.48 L1857.5 393.44 L1858.5 393.41 L1859.5 393.37 L1860.5 393.33 L1861.5 393.29 L1862.5 393.26 L1863.5 393.23 L1864.5 393.19 L1865.5 393.16 L1866.5 393.13 L1867.5 393.1 L1868.5 393.07 L1869.5 393.04 L1870.5 393.01 L1871.5 392.98 L1872.5 392.95 L1873.5 392.91 L1874.5 392.88 L1875.5 392.85 L1876.5 392.82 L1877.5 392.78 L1878.5 392.75 L1879.5 392.72 L1880.5 392.7 L1881.5 392.67 L1882.5 392.64 L1883.5 392.62 L1884.5 392.6 L1885.5 392.58 L1886.5 392.56 L1887.5 392.54 L1888.5 392.53 L1889.5 392.52 L1890.5 392.51 L1891.5 392.5 L1892.5 392.5 L1893.5 392.5 L1894.5 392.5 L1895.5 392.5 L1896.5 392.5 L1897.5 392.5 L1898.5 392.5 L1899.5 392.5 L1900.5 392.5 L1901.5 392.5 L1902.5 392.5 L1903.5 392.5 L1904.5 392.5 L1905.5 392.5 L1906.5 392.5 L1907.5 392.5 L1908.5 392.5 L1909.5 392.5 L1910.5 392.5 L1911.5 392.5 L1912.5 392.5 L1913.5 392.5 L1914.5 392.5 L1915.5 392.5 L1916.5 392.5 L1917.5 392.5 L1918.5 392.5 L1919.5 392.5 L1920.5 392.5 L1921.5 392.5 L1922.5 392.5 L1923.5 392.5 L1924.5 392.5 L1925.5 392.5 L1926.5 392.5 L1927.5 392.5 L1928.5 392.5 L1929.5 392.5 L1930.5 392.5 L1931.5 392.5 L1932.5 392.5 L1933.5 392.5 L1934.5 392.5 L1935.5 392.5 L1936.5 392.5 L1937.5 392.5 L1938.5 392.5 L1939.5 392.5 L1940.5 392.5 L1941.5 392.5 L1942.5 392.5 L1943.5 392.5 L1944.5 392.5 L1945.5 392.5 L1946.5 392.5 L1947.5 392.5 L1948.5 392.5 L1949.5 392.5 L1950.5 392.5 L1951.5 392.5 L1952.5 392.5 L1953.5 392.5 L1954.5 392.5 L1955.5 392.5 L1956.5 392.5 L1957.5 392.5 L1958.5 392.5 L1959.5 392.5 L1960.5 392.5 L1961.5 392.5 L1962.5 392.5 L1963.5 392.5 L1964.5 392.5 L1965.5 392.5 L1966.5 392.5 L1967.5 392.5 L1968.5 392.5 L1969.5 392.5 L1970.5 392.5 L1971.5 392.5 L1972.5 392.5 L1973.5 392.5 L1974.5 392.5 L1975.5 392.5 L1976.5 392.5 L1977.5 392.5 L1978.5 392.5 L1979.5 392.5 L1980.5 392.5 L1981.5 392.5 L1982.5 392.5 L1983.5 392.5 L1984.5 392.5 L1985.5 392.5 L1986.5 392.5 L1987.5 392.5 L1988.5 392.5 L1989.5 392.5 L1990.5 392.5 L1991.5 392.5 L1992.5 392.5 L1993.5 392.5 L1994.5 392.5 L1995.5 392.5 L1996.5 392.5 L1997.5 392.5 L1998.5 392.5 L1999.5 392.5 L2000.5 392.5 L2001.5 392.5 L2002.5 392.5 L2003.5 392.5 L2004.5 392.5 L2005.5 392.5 L2006.5 392.5 L2007.5 392.5 L2008.5 392.5 L2009.5 392.5 L2010.5 392.5 L2011.5 392.5 L2012.5 392.5 L2013.5 392.5 L2014.5 392.5 L2015.5 392.5 L2016.5 392.5 L2017.5 392.5 L2018.5 392.5 L2019.5 392.5 L2020.5 392.5 L2021.5 392.5 L2022.5 392.5 L2023.5 392.5 L2024.5 392.5 L2025.5 392.5 L2026.5 392.5 L2027.5 392.5 L2028.5 392.5 L2029.5 392.5 L2030.5 392.5 L2031.5 392.5 L2032.5 392.5 L2033.5 392.5 L2034.5 392.5 L2035.5 392.5 L2036.5 392.5 L2037.5 392.5 L2038.5 392.5 L2039.5 392.5 L2040.5 392.5 L2041.5 392.5 L2042.5 392.5 L2043.5 392.5 L2044.5 392.5 L2045.5 392.5 L2046.5 392.5 L2047.5 392.5 L2048.5 392.5 L2049.5 392.5 L2050.5 392.5 L2051.5 392.5 L2052.5 392.5 L2053.5 392.5 L2054.5 392.5 L2055.5 392.5 L2056.5 392.5 L2057.5 392.5 L2058.5 392.5 L2059.5 392.5 L2060.5 392.5 L2061.5 392.5 L2062.5 392.5 L2063.5 392.5 L2064.5 392.5 L2065.5 392.5 L2066.5 392.5 L2067.5 392.5 L2068.5 392.5 L2069.5 392.5 L2070.5 392.5 L2071.5 392.5 L2072.5 392.5 L2073.5 392.5 L2074.5 392.5 L2075.5 392.5 L2076.5 392.5 L2077.5 392.5 L2078.5 392.5 L2079.5 392.5 L2080.5 392.5 L2081.5 392.5 L2082.5 392.5 L2083.5 392.5 L2084.5 392.5 L2085.5 392.5 L2086.5 392.5 L2087.5 392.5 L2088.5 392.5 L2089.5 392.5 L2090.5 392.5 L2091.5 392.5 L2092.5 392.5 L2093.5 392.5 L2094.5 392.5 L2095.5 392.5 L2096.5 392.5 L2097.5 392.5 L2098.5 392.5 L2099.5 392.5 L2100.5 392.5 L2101.5 392.5 L2102.5 392.5 L2103.5 392.5 L2104.5 392.5 L2105.5 392.5 L2106.5 392.5 L2107.5 392.5 L2108.5 392.5 L2109.5 392.5 L2110.5 392.5 L2111.5 392.5 L2112.5 392.5 L2113.5 392.5 L2114.5 392.5 L2115.5 392.5 L2116.5 392.5 L2117.5 392.5 L2118.5 392.5 L2119.5 392.5 L2120.5 392.5 L2121.5 392.5 L2122.5 392.5 L2123.5 392.5 L2124.5 392.5 L2125.5 392.5 L2126.5 392.5 L2127.5 392.5 L2128.5 392.5 L2129.5 392.5 L2130.5 392.5 L2131.5 392.5 L2132.5 392.5 L2133.5 392.5 L2134.5 392.5 L2135.5 392.5 L2136.5 392.5 L2137.5 392.5 L2138.5 392.5 L2139.5 392.5 L2140.5 392.5 L2141.5 392.5 L2142.5 392.5 L2143.5 392.5 L2144.5 392.5 L2145.5 392.5 L2146.5 392.5 L2147.5 392.5 L2148.5 392.5 L2149.5 392.5 L2150.5 392.5 L2151.5 392.5 L2152.5 392.5 L2153.5 392.5 L2154.5 392.5 L2155.5 392.5 L2156.5 392.5 L2157.5 392.5 L2158.5 392.5 L2159.5 392.5 L2160.5 392.5 L2161.5 392.5 L2162.5 392.5 L2163.5 392.5 L2164.5 392.5 L2165.5 392.5 L2166.5 392.5 L2167.5 392.5 L2168.5 392.5 L2169.5 392.5 L2170.5 392.5 L2171.5 392.5 L2172.5 392.5 L2173.5 392.5 L2174.5 392.5 L2175.5 392.5 L2176.5 392.5 L2177.5 392.5 L2178.5 392.5 L2179.5 392.5 L2180.5 392.5 L2181.5 392.5 L2182.5 392.5 L2183.5 392.5 L2184.5 392.5 L2185.5 392.5 L2186.5 392.5 L2187.5 392.5 L2188.5 392.5 L2189.5 392.5 L2190.5 392.5 L2191.5 392.5 L2192.5 392.5 L2193.5 392.5 L2194.5 392.5 L2195.5 392.5 L2196.5 392.5 L2197.5 392.5 L2198.5 392.5 L2199.5 392.5 L2200.5 392.5 L2201.5 392.5 L2202.5 392.5 L2203.5 392.5 L2204.5 392.5 L2205.5 392.5 L2206.5 392.5 L2207.5 392.5 L2208.5 392.5 L2209.5 392.5 L2210.5 392.5 L2211.5 392.5 L2212.5 392.5 L2213.5 392.5 L2214.5 392.5 L2215.5 392.5 L2216.5 392.5 L2217.5 392.5 L2218.5 392.5 L2219.5 392.5 L2220.5 392.5 L2221.5 392.5 L2222.5 392.5 L2223.5 392.5 L2224.5 392.5 L2225.5 392.5 L2226.5 392.5 L2227.5 392.5 L2228.5 392.5 L2229.5 392.5 L2230.5 392.5 L2231.5 392.5 L2232.5 392.5 L2233.5 392.5 L2234.5 392.5 L2235.5 392.5 L2236.5 392.5 L2237.5 392.5 L2238.5 392.5 L2239.5 392.5 L2240.5 392.5 L2241.5 392.5 L2242.5 392.5 L2243.5 392.5 L2244.5 392.5 L2245.5 392.5 L2246.5 392.5 L2247.5 392.5 L2248.5 392.5 L2249.5 392.5 L2250.5 392.5 L2251.5 392.5 L2252.5 392.5 L2253.5 392.5 L2254.5 392.5 L2255.5 392.5 L2256.5 392.5 L2257.5 392.5 L2258.5 392.5 L2259.5 392.5 L2260.5 392.5 L2261.5 392.5 L2262.5 392.5 L2263.5 392.5 L2264.5 392.5 L2265.5 392.5 L2266.5 392.5 L2267.5 392.5 L2268.5 392.5 L2269.5 392.5 L2270.5 392.5 L2271.5 392.5 L2272.5 392.5 L2273.5 392.5 L2274.5 392.5 L2275.5 392.5 L2276.5 392.5 L2277.5 392.5 L2278.5 392.5 L2279.5 392.5 L2280.5 392.5 L2281.5 392.5 L2282.5 392.5 L2283.5 392.5 L2284.5 392.5 L2285.5 392.5 L2286.5 392.5 L2287.5 392.5 L2288.5 392.5 L2289.5 392.5 L2290.5 392.5 L2291.5 392.5 L2292.5 392.5 L2293.5 392.5 L2294.5 392.5 L2295.5 392.5 L2296.5 392.5 L2297.5 392.5 L2298.5 392.5 L2299.5 392.5 L2300.5 392.5 L2301.5 392.5 L2302.5 392.5 L2303.5 392.5 L2304.5 392.5 L2305.5 392.5 L2306.5 392.5 L2307.5 392.5 L2308.5 392.5 L2309.5 392.5 L2310.5 392.5 L2311.5 392.5 L2312.5 392.5 L2313.5 392.5 L2314.5 392.5 L2315.5 392.5 L2316.5 392.5 L2317.5 392.5 L2318.5 392.5 L2319.5 392.5 L2320.5 392.5 L2321.5 392.5 L2322.5 392.5 L2323.5 392.5 L2324.5 392.5 L2325.5 392.5 L2326.5 392.5 L2327.5 392.5 L2328.5 392.5 L2329.5 392.5 L2330.5 392.5 L2331.5 392.5 L2332.5 392.5 L2333.5 392.5 L2334.5 392.5 L2335.5 392.5 L2336.5 392.5 L2337.5 392.5 L2338.5 392.5 L2339.5 392.5 L2340.5 392.5 L2341.5 392.5 L2342.5 392.5" fill="none" stroke="#d95319" stroke-width="5.2" stroke-linecap="butt" stroke-linejoin="round" stroke-dasharray="13 10.5"/>
</g>
<text x="1438.5" y="627.1" font-family="'Liberation Sans', 'DejaVu Sans', sans-serif" font-size="58.3" text-anchor="middle" fill="#262626">0</text>
<text x="1589.17" y="627.1" font-family="'Liberation Sans', 'DejaVu Sans', sans-serif" font-size="58.3" text-anchor="middle" fill="#262626">20</text>
<text x="1739.83" y="627.1" font-family="'Liberation Sans', 'DejaVu Sans', sans-serif" font-size="58.3" text-anchor="middle" fill="#262626">40</text>
<text x="1890.5" y="627.1" font-family="'Liberation Sans', 'DejaVu Sans', sans-serif" font-size="58.3" text-anchor="middle" fill="#262626">60</text>
<text x="2041.17" y="627.1" font-family="'Liberation Sans', 'DejaVu Sans', sans-serif" font-size="58.3" text-anchor="middle" fill="#262626">80</text>
<text x="2191.83" y="627.1" font-family="'Liberation Sans', 'DejaVu Sans', sans-serif" font-size="58.3" text-anchor="middle" fill="#262626">100</text>
<text x="2342.5" y="627.1" font-family="'Liberation Sans', 'DejaVu Sans', sans-serif" font-size="58.3" text-anchor="middle" fill="#262626">120</text>
<text x="1422.1" y="575.4" font-family="'Liberation Sans', 'DejaVu Sans', sans-serif" font-size="58.3" text-anchor="end" fill="#262626">-5</text>
<text x="1422.1" y="416.4" font-family="'Liberation Sans', 'DejaVu Sans', sans-serif" font-size="58.3" text-anchor="end" fill="#262626">0</text>
<text x="1422.1" y="257.4" font-family="'Liberation Sans', 'DejaVu Sans', sans-serif" font-size="58.3" text-anchor="end" fill="#262626">5</text>
<text x="1422.1" y="98.4" font-family="'Liberation Sans', 'DejaVu Sans', sans-serif" font-size="58.3" text-anchor="end" fill="#262626">10</text>
<text x="1889" y="707.5" font-family="'Liberation Sans', 'DejaVu Sans', sans-serif" font-size="64.2" text-anchor="middle" fill="#262626">t [s]</text>
<g transform="translate(1306.7 498.7) rotate(-90)">
<text x="0" y="0" transform="translate(-2.66 0) scale(1.2811 1)" font-family="'Noto Serif CJK SC', 'DejaVu Serif', serif" font-size="63.15" fill="#262626">Δ</text>
<text x="0" y="0" transform="translate(35.94 7.95) scale(0.9325 1)" font-family="IPAGothic, 'Liberation Serif', serif" font-size="69.16" fill="#262626" stroke="#fff" stroke-width="1.67" stroke-linejoin="round">ξ</text>
<text x="79.99" y="32.1" font-family="'Liberation Sans', 'DejaVu Sans', sans-serif" font-size="51.36" fill="#262626">1</text>
<text x="111.77" y="0" font-family="'Liberation Sans', 'DejaVu Sans', sans-serif" font-size="64.2" fill="#262626">, </text>
<text x="0" y="0" transform="translate(144.78 0) scale(1.2811 1)" font-family="'Noto Serif CJK SC', 'DejaVu Serif', serif" font-size="63.15" fill="#262626">Δ</text>
<text x="0" y="0" transform="translate(183.38 7.95) scale(0.9325 1)" font-family="IPAGothic, 'Liberation Serif', serif" font-size="69.16" fill="#262626" stroke="#fff" stroke-width="1.67" stroke-linejoin="round">ξ</text>
<text x="227.43" y="32.1" font-family="'Liberation Sans', 'DejaVu Sans', sans-serif" font-size="51.36" fill="#262626">2</text>
<text x="259.21" y="0" font-family="'Liberation Sans', 'DejaVu Sans', sans-serif" font-size="64.2" fill="#262626"> [m]</text>
</g>
<rect x="2128.5" y="114.5" width="173.0" height="190.0" fill="#fff" stroke="#262626" stroke-width="1"/>
<path d="M2139.5 163.5H2199.5" stroke="#0072bd" stroke-width="5" fill="none"/>
<text x="0" y="0" transform="translate(2203.82 172.9) scale(1.2811 1)" font-family="'Noto Serif CJK SC', 'DejaVu Serif', serif" font-size="51.64" fill="#000">Δ</text>
<text x="0" y="0" transform="translate(2235.39 179.4) scale(0.9325 1)" font-family="IPAGothic, 'Liberation Serif', serif" font-size="56.56" fill="#000" stroke="#fff" stroke-width="1.36" stroke-linejoin="round">ξ</text>
<text x="2271.41" y="199.15" font-family="'Liberation Sans', 'DejaVu Sans', sans-serif" font-size="42" fill="#000">1</text>
<path d="M2139.5 255.3H2199.5" stroke="#d95319" stroke-width="5" stroke-dasharray="13 10.5" fill="none"/>
<text x="0" y="0" transform="translate(2203.82 262.9) scale(1.2811 1)" font-family="'Noto Serif CJK SC', 'DejaVu Serif', serif" font-size="51.64" fill="#000">Δ</text>
<text x="0" y="0" transform="translate(2235.39 269.4) scale(0.9325 1)" font-family="IPAGothic, 'Liberation Serif', serif" font-size="56.56" fill="#000" stroke="#fff" stroke-width="1.36" stroke-linejoin="round">ξ</text>
<text x="2271.41" y="290.15" font-family="'Liberation Sans', 'DejaVu Sans', sans-serif" font-size="42" fill="#000">2</text>
<text transform="translate(1834 822.3) scale(0.935 1)" font-family="'Liberation Serif', 'DejaVu Serif', serif" font-size="66" text-anchor="middle" fill="#000">(<tspan font-weight="bold">b</tspan>)</text>
</g>
<g id="panel-c">
<rect x="187.5" y="979.5" width="917.0" height="477.0" fill="#fff" stroke="#262626" stroke-width="1"/>
<path d="M339.5 1456.5v-9.2M339.5 979.5v9.2M492.5 1456.5v-9.2M492.5 979.5v9.2M645.5 1456.5v-9.2M645.5 979.5v9.2M798.5 1456.5v-9.2M798.5 979.5v9.2M951.5 1456.5v-9.2M951.5 979.5v9.2M187.5 1298.5h9.2M1104.5 1298.5h-9.2M187.5 1139.5h9.2M1104.5 1139.5h-9.2" fill="none" stroke="#262626" stroke-width="1"/>
<clipPath id="c2"><rect x="184.5" y="976.5" width="923.0" height="483.0"/></clipPath>
<g clip-path="url(#c2)">
<path d="M187.57 1231.48 L187.84 1143.61 L188.36 1064.92 L188.89 994.1 L190.46 986.23 L190.46 986.23 L191.46 989.82 L192.46 992.76 L193.46 994.76 L194.46 996.33 L195.46 997.5 L196.46 998.13 L197.46 998.45 L198.46 998.66 L199.46 998.84 L200.46 999.04 L201.46 999.34 L202.46 999.79 L203.46 1000.4 L204.46 1001.15 L205.46 1002.03 L206.46 1003.01 L207.46 1004.15 L208.46 1005.63 L209.46 1007.37 L210.46 1009.31 L211.46 1011.38 L212.46 1013.55 L213.46 1015.99 L214.46 1018.69 L215.46 1021.57 L216.46 1024.57 L217.46 1027.65 L218.46 1030.91 L219.46 1034.37 L220.46 1037.96 L221.46 1041.6 L222.46 1045.25 L223.46 1048.93 L224.46 1052.71 L225.46 1056.52 L226.46 1060.31 L227.46 1064.02 L228.46 1067.62 L229.46 1071.15 L230.46 1074.63 L231.46 1078.09 L232.46 1081.56 L233.46 1085.06 L234.46 1088.6 L235.46 1092.14 L236.46 1095.66 L237.46 1099.13 L238.46 1102.52 L239.46 1105.86 L240.46 1109.15 L241.46 1112.4 L242.46 1115.59 L243.46 1118.74 L244.46 1121.86 L245.46 1124.96 L246.46 1128 L247.46 1130.96 L248.46 1133.8 L249.46 1136.51 L250.46 1139.14 L251.46 1141.68 L252.46 1144.13 L253.46 1146.47 L254.46 1148.71 L255.46 1150.91 L256.46 1153.03 L257.46 1155.03 L258.46 1156.86 L259.46 1158.46 L260.46 1159.94 L261.46 1161.31 L262.46 1162.57 L263.46 1163.68 L264.46 1164.62 L265.46 1165.45 L266.46 1166.23 L267.46 1166.93 L268.46 1167.5 L269.46 1167.93 L270.46 1168.24 L271.46 1168.52 L272.46 1168.76 L273.46 1168.94 L274.46 1169.04 L275.46 1169.02 L276.46 1168.82 L277.46 1168.48 L278.46 1168.04 L279.46 1167.56 L280.46 1167.07 L281.46 1166.47 L282.46 1165.75 L283.46 1164.95 L284.46 1164.1 L285.46 1163.24 L286.46 1162.31 L287.46 1161.3 L288.46 1160.25 L289.46 1159.2 L290.46 1158.22 L291.46 1157.3 L292.46 1156.39 L293.46 1155.51 L294.46 1154.67 L295.46 1153.89 L296.46 1153.18 L297.46 1152.49 L298.46 1151.84 L299.46 1151.25 L300.46 1150.73 L301.46 1150.3 L302.46 1149.94 L303.46 1149.63 L304.46 1149.34 L305.46 1149.08 L306.46 1148.84 L307.46 1148.61 L308.46 1148.39 L309.46 1148.19 L310.46 1148 L311.46 1147.83 L312.46 1147.68 L313.46 1147.53 L314.46 1147.39 L315.46 1147.26 L316.46 1147.14 L317.46 1147.02 L318.46 1146.9 L319.46 1146.79 L320.46 1146.68 L321.46 1146.57 L322.46 1146.46 L323.46 1146.35 L324.46 1146.25 L325.46 1146.15 L326.46 1146.05 L327.46 1145.96 L328.46 1145.86 L329.46 1145.77 L330.46 1145.67 L331.46 1145.57 L332.46 1145.46 L333.46 1145.35 L334.46 1145.24 L335.46 1145.12 L336.46 1145 L337.46 1144.88 L338.46 1144.76 L339.46 1144.63 L340.46 1144.5 L341.46 1144.37 L342.46 1144.23 L343.46 1144.08 L344.46 1143.92 L345.46 1143.76 L346.46 1143.58 L347.46 1143.4 L348.46 1143.22 L349.46 1143.03 L350.46 1142.84 L351.46 1142.66 L352.46 1142.49 L353.46 1142.32 L354.46 1142.16 L355.46 1141.99 L356.46 1141.83 L357.46 1141.67 L358.46 1141.51 L359.46 1141.36 L360.46 1141.21 L361.46 1141.07 L362.46 1140.93 L363.46 1140.8 L364.46 1140.68 L365.46 1140.56 L366.46 1140.44 L367.46 1140.33 L368.46 1140.22 L369.46 1140.11 L370.46 1140.01 L371.46 1139.92 L372.46 1139.83 L373.46 1139.75 L374.46 1139.68 L375.46 1139.61 L376.46 1139.55 L377.46 1139.49 L378.46 1139.43 L379.46 1139.37 L380.46 1139.32 L381.46 1139.27 L382.46 1139.23 L383.46 1139.19 L384.46 1139.16 L385.46 1139.14 L386.46 1139.12 L387.46 1139.1 L388.46 1139.08 L389.46 1139.06 L390.46 1139.04 L391.46 1139.02 L392.46 1139.01 L393.46 1138.99 L394.46 1138.98 L395.46 1138.96 L396.46 1138.95 L397.46 1138.94 L398.46 1138.93 L399.46 1138.92 L400.46 1138.91 L401.46 1138.9 L402.46 1138.89 L403.46 1138.89 L404.46 1138.89 L405.46 1138.89 L406.46 1138.89 L407.46 1138.89 L408.46 1138.89 L409.46 1138.89 L410.46 1138.9 L411.46 1138.91 L412.46 1138.91 L413.46 1138.92 L414.46 1138.93 L415.46 1138.94 L416.46 1138.95 L417.46 1138.96 L418.46 1138.97 L419.46 1138.99 L420.46 1139 L421.46 1139.01 L422.46 1139.03 L423.46 1139.04 L424.46 1139.05 L425.46 1139.07 L426.46 1139.08 L427.46 1139.09 L428.46 1139.1 L429.46 1139.12 L430.46 1139.13 L431.46 1139.14 L432.46 1139.15 L433.46 1139.16 L434.46 1139.17 L435.46 1139.18 L436.46 1139.19 L437.46 1139.21 L438.46 1139.22 L439.46 1139.23 L440.46 1139.25 L441.46 1139.26 L442.46 1139.27 L443.46 1139.29 L444.46 1139.3 L445.46 1139.31 L446.46 1139.32 L447.46 1139.34 L448.46 1139.35 L449.46 1139.36 L450.46 1139.37 L451.46 1139.38 L452.46 1139.39 L453.46 1139.39 L454.46 1139.4 L455.46 1139.4 L456.46 1139.41 L457.46 1139.41 L458.46 1139.41 L459.46 1139.41 L460.46 1139.4 L461.46 1139.4 L462.46 1139.38 L463.46 1139.37 L464.46 1139.36 L465.46 1139.34 L466.46 1139.32 L467.46 1139.3 L468.46 1139.27 L469.46 1139.25 L470.46 1139.22 L471.46 1139.2 L472.46 1139.17 L473.46 1139.14 L474.46 1139.11 L475.46 1139.09 L476.46 1139.06 L477.46 1139.04 L478.46 1139.01 L479.46 1138.99 L480.46 1138.96 L481.46 1138.94 L482.46 1138.92 L483.46 1138.9 L484.46 1138.89 L485.46 1138.88 L486.46 1138.86 L487.46 1138.85 L488.46 1138.83 L489.46 1138.82 L490.46 1138.81 L491.46 1138.79 L492.46 1138.78 L493.46 1138.77 L494.46 1138.75 L495.46 1138.74 L496.46 1138.73 L497.46 1138.72 L498.46 1138.7 L499.46 1138.69 L500.46 1138.68 L501.46 1138.67 L502.46 1138.66 L503.46 1138.65 L504.46 1138.65 L505.46 1138.64 L506.46 1138.64 L507.46 1138.63 L508.46 1138.63 L509.46 1138.62 L510.46 1138.62 L511.46 1138.62 L512.46 1138.62 L513.46 1138.62 L514.46 1138.62 L515.46 1138.62 L516.46 1138.62 L517.46 1138.62 L518.46 1138.62 L519.46 1138.62 L520.46 1138.62 L521.46 1138.62 L522.46 1138.62 L523.46 1138.62 L524.46 1138.62 L525.46 1138.62 L526.46 1138.62 L527.46 1138.62 L528.46 1138.62 L529.46 1138.62 L530.46 1138.62 L531.46 1138.62 L532.46 1138.62 L533.46 1138.62 L534.46 1138.62 L535.46 1138.62 L536.46 1138.62 L537.46 1138.62 L538.46 1138.62 L539.46 1138.62 L540.46 1138.62 L541.46 1138.62 L542.46 1138.62 L543.46 1138.62 L544.46 1138.62 L545.46 1138.62 L546.46 1138.62 L547.46 1138.62 L548.46 1138.62 L549.46 1138.62 L550.46 1138.62 L551.46 1138.62 L552.46 1138.62 L553.46 1138.62 L554.46 1138.62 L555.46 1138.62 L556.46 1138.62 L557.46 1138.62 L558.46 1138.62 L559.46 1138.62 L560.46 1138.62 L561.46 1138.62 L562.46 1138.62 L563.46 1138.62 L564.46 1138.62 L565.46 1138.62 L566.46 1138.62 L567.46 1138.62 L568.46 1138.62 L569.46 1138.62 L570.46 1138.62 L571.46 1138.62 L572.46 1138.62 L573.46 1138.62 L574.46 1138.62 L575.46 1138.62 L576.46 1138.62 L577.46 1138.62 L578.46 1138.62 L579.46 1138.62 L580.46 1138.62 L581.46 1138.62 L582.46 1138.62 L583.46 1138.62 L584.46 1138.62 L585.46 1138.62 L586.46 1138.62 L587.46 1138.62 L588.46 1138.62 L589.46 1138.62 L590.46 1138.62 L591.46 1138.62 L592.46 1138.62 L593.46 1138.62 L594.46 1138.62 L595.46 1138.62 L596.46 1138.62 L597.46 1138.62 L598.46 1138.62 L599.46 1138.62 L600.46 1138.62 L601.46 1138.62 L602.46 1138.62 L603.46 1138.62 L604.46 1138.62 L605.46 1138.62 L606.46 1138.62 L607.46 1138.62 L608.46 1138.62 L609.46 1138.62 L610.46 1138.62 L611.46 1138.62 L612.46 1138.62 L613.46 1138.62 L614.46 1138.62 L615.46 1138.62 L616.46 1138.62 L617.46 1138.62 L618.46 1138.62 L619.46 1138.62 L620.46 1138.62 L621.46 1138.62 L622.46 1138.62 L623.46 1138.62 L624.46 1138.62 L625.46 1138.62 L626.46 1138.62 L627.46 1138.62 L628.46 1138.62 L629.46 1138.62 L630.46 1138.62 L631.46 1138.62 L632.46 1138.62 L633.46 1138.62 L634.46 1138.62 L635.46 1138.62 L636.46 1138.62 L637.46 1138.62 L638.46 1138.62 L639.46 1138.62 L640.46 1138.62 L641.46 1138.62 L642.46 1138.62 L643.46 1138.62 L644.46 1138.62 L645.46 1138.62 L646.46 1138.62 L647.46 1138.62 L648.46 1138.62 L649.46 1138.62 L650 1138.62 L1104.5 1138.5" fill="none" stroke="#0072bd" stroke-width="5.2" stroke-linecap="butt" stroke-linejoin="round"/>
<path d="M187.57 1138.62 L187.57 1405.9 L190.46 1417.7 L190.46 1417.7 L191.46 1414.72 L192.46 1410.95 L193.46 1406.58 L194.46 1401.47 L195.46 1395.33 L196.46 1388.53 L197.46 1380.37 L198.46 1372.06 L199.46 1365.2 L200.46 1359.21 L201.46 1353.54 L202.46 1347.95 L203.46 1342.52 L204.46 1337.28 L205.46 1332.21 L206.46 1327.23 L207.46 1322.35 L208.46 1317.77 L209.46 1313.66 L210.46 1310.06 L211.46 1306.8 L212.46 1303.64 L213.46 1300.38 L214.46 1297.12 L215.46 1293.88 L216.46 1290.53 L217.46 1286.95 L218.46 1282.88 L219.46 1278.6 L220.46 1274.55 L221.46 1271.17 L222.46 1268.41 L223.46 1265.92 L224.46 1263.39 L225.46 1260.48 L226.46 1257.15 L227.46 1253.64 L228.46 1250.26 L229.46 1247.25 L230.46 1244.61 L231.46 1242.08 L232.46 1239.44 L233.46 1236.46 L234.46 1233.09 L235.46 1229.58 L236.46 1226.23 L237.46 1223.26 L238.46 1220.55 L239.46 1217.96 L240.46 1215.38 L241.46 1212.72 L242.46 1210.05 L243.46 1207.39 L244.46 1204.72 L245.46 1202.03 L246.46 1199.3 L247.46 1196.6 L248.46 1194.01 L249.46 1191.59 L250.46 1189.27 L251.46 1187.03 L252.46 1184.84 L253.46 1182.67 L254.46 1180.48 L255.46 1178.21 L256.46 1175.95 L257.46 1173.8 L258.46 1171.85 L259.46 1170.19 L260.46 1168.74 L261.46 1167.43 L262.46 1166.22 L263.46 1165.1 L264.46 1164.03 L265.46 1163.03 L266.46 1162.08 L267.46 1161.2 L268.46 1160.35 L269.46 1159.52 L270.46 1158.72 L271.46 1157.99 L272.46 1157.27 L273.46 1156.55 L274.46 1155.79 L275.46 1154.95 L276.46 1154.07 L277.46 1153.16 L278.46 1152.22 L279.46 1151.25 L280.46 1150.26 L281.46 1149.24 L282.46 1148.21 L283.46 1147.17 L284.46 1146.12 L285.46 1145.07 L286.46 1144.01 L287.46 1142.95 L288.46 1141.91 L289.46 1140.86 L290.46 1139.81 L291.46 1138.74 L292.46 1137.65 L293.46 1136.55 L294.46 1135.44 L295.46 1134.32 L296.46 1133.2 L297.46 1132.07 L298.46 1130.96 L299.46 1129.84 L300.46 1128.74 L301.46 1127.66 L302.46 1126.59 L303.46 1125.54 L304.46 1124.52 L305.46 1123.52 L306.46 1122.56 L307.46 1121.61 L308.46 1120.65 L309.46 1119.7 L310.46 1118.74 L311.46 1117.79 L312.46 1116.85 L313.46 1115.93 L314.46 1115.02 L315.46 1114.13 L316.46 1113.27 L317.46 1112.43 L318.46 1111.62 L319.46 1110.85 L320.46 1110.12 L321.46 1109.43 L322.46 1108.78 L323.46 1108.19 L324.46 1107.62 L325.46 1107.07 L326.46 1106.53 L327.46 1106.01 L328.46 1105.51 L329.46 1105.04 L330.46 1104.59 L331.46 1104.18 L332.46 1103.8 L333.46 1103.46 L334.46 1103.16 L335.46 1102.9 L336.46 1102.65 L337.46 1102.41 L338.46 1102.18 L339.46 1101.96 L340.46 1101.77 L341.46 1101.61 L342.46 1101.48 L343.46 1101.4 L344.46 1101.38 L345.46 1101.41 L346.46 1101.49 L347.46 1101.62 L348.46 1101.79 L349.46 1101.99 L350.46 1102.2 L351.46 1102.44 L352.46 1102.68 L353.46 1102.92 L354.46 1103.17 L355.46 1103.46 L356.46 1103.78 L357.46 1104.14 L358.46 1104.53 L359.46 1104.94 L360.46 1105.36 L361.46 1105.81 L362.46 1106.26 L363.46 1106.72 L364.46 1107.18 L365.46 1107.63 L366.46 1108.08 L367.46 1108.52 L368.46 1108.97 L369.46 1109.43 L370.46 1109.88 L371.46 1110.35 L372.46 1110.82 L373.46 1111.3 L374.46 1111.78 L375.46 1112.27 L376.46 1112.76 L377.46 1113.26 L378.46 1113.77 L379.46 1114.28 L380.46 1114.79 L381.46 1115.31 L382.46 1115.84 L383.46 1116.37 L384.46 1116.91 L385.46 1117.45 L386.46 1118 L387.46 1118.55 L388.46 1119.11 L389.46 1119.7 L390.46 1120.3 L391.46 1120.92 L392.46 1121.56 L393.46 1122.2 L394.46 1122.86 L395.46 1123.52 L396.46 1124.18 L397.46 1124.85 L398.46 1125.52 L399.46 1126.18 L400.46 1126.84 L401.46 1127.49 L402.46 1128.12 L403.46 1128.75 L404.46 1129.36 L405.46 1129.95 L406.46 1130.51 L407.46 1131.06 L408.46 1131.59 L409.46 1132.12 L410.46 1132.64 L411.46 1133.15 L412.46 1133.65 L413.46 1134.15 L414.46 1134.63 L415.46 1135.11 L416.46 1135.57 L417.46 1136.03 L418.46 1136.47 L419.46 1136.89 L420.46 1137.31 L421.46 1137.7 L422.46 1138.08 L423.46 1138.45 L424.46 1138.8 L425.46 1139.14 L426.46 1139.47 L427.46 1139.79 L428.46 1140.1 L429.46 1140.4 L430.46 1140.69 L431.46 1140.98 L432.46 1141.26 L433.46 1141.54 L434.46 1141.81 L435.46 1142.08 L436.46 1142.34 L437.46 1142.6 L438.46 1142.85 L439.46 1143.09 L440.46 1143.33 L441.46 1143.57 L442.46 1143.79 L443.46 1144.02 L444.46 1144.25 L445.46 1144.49 L446.46 1144.72 L447.46 1144.95 L448.46 1145.15 L449.46 1145.35 L450.46 1145.51 L451.46 1145.65 L452.46 1145.75 L453.46 1145.85 L454.46 1145.94 L455.46 1146.02 L456.46 1146.1 L457.46 1146.17 L458.46 1146.23 L459.46 1146.29 L460.46 1146.35 L461.46 1146.4 L462.46 1146.44 L463.46 1146.48 L464.46 1146.52 L465.46 1146.55 L466.46 1146.59 L467.46 1146.62 L468.46 1146.65 L469.46 1146.68 L470.46 1146.71 L471.46 1146.73 L472.46 1146.74 L473.46 1146.75 L474.46 1146.75 L475.46 1146.75 L476.46 1146.74 L477.46 1146.72 L478.46 1146.7 L479.46 1146.68 L480.46 1146.65 L481.46 1146.61 L482.46 1146.58 L483.46 1146.54 L484.46 1146.5 L485.46 1146.46 L486.46 1146.4 L487.46 1146.33 L488.46 1146.24 L489.46 1146.15 L490.46 1146.04 L491.46 1145.93 L492.46 1145.82 L493.46 1145.7 L494.46 1145.58 L495.46 1145.46 L496.46 1145.34 L497.46 1145.23 L498.46 1145.12 L499.46 1145 L500.46 1144.89 L501.46 1144.77 L502.46 1144.65 L503.46 1144.53 L504.46 1144.41 L505.46 1144.28 L506.46 1144.16 L507.46 1144.04 L508.46 1143.91 L509.46 1143.79 L510.46 1143.67 L511.46 1143.55 L512.46 1143.43 L513.46 1143.31 L514.46 1143.19 L515.46 1143.07 L516.46 1142.95 L517.46 1142.83 L518.46 1142.71 L519.46 1142.59 L520.46 1142.47 L521.46 1142.35 L522.46 1142.23 L523.46 1142.11 L524.46 1141.99 L525.46 1141.87 L526.46 1141.74 L527.46 1141.61 L528.46 1141.49 L529.46 1141.36 L530.46 1141.23 L531.46 1141.11 L532.46 1140.98 L533.46 1140.86 L534.46 1140.75 L535.46 1140.64 L536.46 1140.53 L537.46 1140.44 L538.46 1140.34 L539.46 1140.25 L540.46 1140.16 L541.46 1140.08 L542.46 1139.99 L543.46 1139.91 L544.46 1139.84 L545.46 1139.76 L546.46 1139.68 L547.46 1139.61 L548.46 1139.54 L549.46 1139.47 L550.46 1139.4 L551.46 1139.33 L552.46 1139.26 L553.46 1139.2 L554.46 1139.13 L555.46 1139.06 L556.46 1139 L557.46 1138.94 L558.46 1138.88 L559.46 1138.82 L560.46 1138.76 L561.46 1138.71 L562.46 1138.67 L563.46 1138.62 L564.46 1138.58 L565.46 1138.54 L566.46 1138.5 L567.46 1138.45 L568.46 1138.41 L569.46 1138.37 L570.46 1138.33 L571.46 1138.29 L572.46 1138.25 L573.46 1138.21 L574.46 1138.17 L575.46 1138.13 L576.46 1138.1 L577.46 1138.06 L578.46 1138.03 L579.46 1138 L580.46 1137.97 L581.46 1137.95 L582.46 1137.92 L583.46 1137.9 L584.46 1137.88 L585.46 1137.87 L586.46 1137.85 L587.46 1137.84 L588.46 1137.84 L589.46 1137.84 L590.46 1137.84 L591.46 1137.84 L592.46 1137.84 L593.46 1137.84 L594.46 1137.84 L595.46 1137.84 L596.46 1137.84 L597.46 1137.84 L598.46 1137.84 L599.46 1137.84 L600.46 1137.84 L601.46 1137.84 L602.46 1137.84 L603.46 1137.84 L604.46 1137.84 L605.46 1137.84 L606.46 1137.84 L607.46 1137.84 L608.46 1137.84 L609.46 1137.84 L610.46 1137.84 L611.46 1137.84 L612.46 1137.84 L613.46 1137.84 L614.46 1137.84 L615.46 1137.84 L616.46 1137.84 L617.46 1137.84 L618.46 1137.84 L619.46 1137.84 L620.46 1137.85 L621.46 1137.86 L622.46 1137.86 L623.46 1137.87 L624.46 1137.88 L625.46 1137.89 L626.46 1137.9 L627.46 1137.91 L628.46 1137.93 L629.46 1137.94 L630.46 1137.96 L631.46 1137.97 L632.46 1137.99 L633.46 1138 L634.46 1138.02 L635.46 1138.04 L636.46 1138.06 L637.46 1138.08 L638.46 1138.1 L639.46 1138.12 L640.46 1138.14 L641.46 1138.16 L642.46 1138.18 L643.46 1138.21 L644.46 1138.23 L645.46 1138.25 L646.46 1138.28 L647.46 1138.3 L648.46 1138.32 L649.46 1138.35 L650 1138.36 L1104.5 1138.5" fill="none" stroke="#d95319" stroke-width="5.2" stroke-linecap="butt" stroke-linejoin="round" stroke-dasharray="13 10.5"/>
</g>
<text x="187.5" y="1532.8" font-family="'Liberation Sans', 'DejaVu Sans', sans-serif" font-size="58.3" text-anchor="middle" fill="#262626">0</text>
<text x="340.33" y="1532.8" font-family="'Liberation Sans', 'DejaVu Sans', sans-serif" font-size="58.3" text-anchor="middle" fill="#262626">20</text>
<text x="493.17" y="1532.8" font-family="'Liberation Sans', 'DejaVu Sans', sans-serif" font-size="58.3" text-anchor="middle" fill="#262626">40</text>
<text x="646" y="1532.8" font-family="'Liberation Sans', 'DejaVu Sans', sans-serif" font-size="58.3" text-anchor="middle" fill="#262626">60</text>
<text x="798.83" y="1532.8" font-family="'Liberation Sans', 'DejaVu Sans', sans-serif" font-size="58.3" text-anchor="middle" fill="#262626">80</text>
<text x="951.67" y="1532.8" font-family="'Liberation Sans', 'DejaVu Sans', sans-serif" font-size="58.3" text-anchor="middle" fill="#262626">100</text>
<text x="1104.5" y="1532.8" font-family="'Liberation Sans', 'DejaVu Sans', sans-serif" font-size="58.3" text-anchor="middle" fill="#262626">120</text>
<text x="171.1" y="1480.4" font-family="'Liberation Sans', 'DejaVu Sans', sans-serif" font-size="58.3" text-anchor="end" fill="#262626">-2</text>
<text x="171.1" y="1321.4" font-family="'Liberation Sans', 'DejaVu Sans', sans-serif" font-size="58.3" text-anchor="end" fill="#262626">-1</text>
<text x="171.1" y="1162.4" font-family="'Liberation Sans', 'DejaVu Sans', sans-serif" font-size="58.3" text-anchor="end" fill="#262626">0</text>
<text x="171.1" y="1003.4" font-family="'Liberation Sans', 'DejaVu Sans', sans-serif" font-size="58.3" text-anchor="end" fill="#262626">1</text>
<text x="645" y="1613.2" font-family="'Liberation Sans', 'DejaVu Sans', sans-serif" font-size="64.2" text-anchor="middle" fill="#262626">t [s]</text>
<g transform="translate(68.3 1426.77) rotate(-90)">
<text x="0" y="0" transform="translate(-2.66 0) scale(1.2811 1)" font-family="'Noto Serif CJK SC', 'DejaVu Serif', serif" font-size="63.15" fill="#262626">Δ</text>
<text x="0" y="0" transform="translate(35.94 7.95) scale(0.9325 1)" font-family="IPAGothic, 'Liberation Serif', serif" font-size="69.16" fill="#262626" stroke="#fff" stroke-width="1.67" stroke-linejoin="round">ξ</text>
<text x="79.99" y="32.1" font-family="'Liberation Sans', 'DejaVu Sans', sans-serif" font-size="51.36" fill="#262626">3</text>
<text x="111.77" y="0" font-family="'Liberation Sans', 'DejaVu Sans', sans-serif" font-size="64.2" fill="#262626">, </text>
<text x="0" y="0" transform="translate(144.78 0) scale(1.2811 1)" font-family="'Noto Serif CJK SC', 'DejaVu Serif', serif" font-size="63.15" fill="#262626">Δ</text>
<text x="0" y="0" transform="translate(183.38 7.95) scale(0.9325 1)" font-family="IPAGothic, 'Liberation Serif', serif" font-size="69.16" fill="#262626" stroke="#fff" stroke-width="1.67" stroke-linejoin="round">ξ</text>
<text x="227.43" y="32.1" font-family="'Liberation Sans', 'DejaVu Sans', sans-serif" font-size="51.36" fill="#262626">4</text>
<text x="259.21" y="0" font-family="'Liberation Sans', 'DejaVu Sans', sans-serif" font-size="64.2" fill="#262626"> [m/s]</text>
</g>
<rect x="860.5" y="1194.5" width="172.0" height="191.0" fill="#fff" stroke="#262626" stroke-width="1"/>
<path d="M871.5 1244.4H931.5" stroke="#0072bd" stroke-width="5" fill="none"/>
<text x="0" y="0" transform="translate(934.82 1252.9) scale(1.2811 1)" font-family="'Noto Serif CJK SC', 'DejaVu Serif', serif" font-size="51.64" fill="#000">Δ</text>
<text x="0" y="0" transform="translate(966.39 1259.4) scale(0.9325 1)" font-family="IPAGothic, 'Liberation Serif', serif" font-size="56.56" fill="#000" stroke="#fff" stroke-width="1.36" stroke-linejoin="round">ξ</text>
<text x="1002.41" y="1280.95" font-family="'Liberation Sans', 'DejaVu Sans', sans-serif" font-size="42" fill="#000">3</text>
<path d="M871.5 1335.5H931.5" stroke="#d95319" stroke-width="5" stroke-dasharray="13 10.5" fill="none"/>
<text x="0" y="0" transform="translate(934.82 1343.9) scale(1.2811 1)" font-family="'Noto Serif CJK SC', 'DejaVu Serif', serif" font-size="51.64" fill="#000">Δ</text>
<text x="0" y="0" transform="translate(966.39 1350.4) scale(0.9325 1)" font-family="IPAGothic, 'Liberation Serif', serif" font-size="56.56" fill="#000" stroke="#fff" stroke-width="1.36" stroke-linejoin="round">ξ</text>
<text x="1002.41" y="1370.15" font-family="'Liberation Sans', 'DejaVu Sans', sans-serif" font-size="42" fill="#000">4</text>
<text transform="translate(598 1727.8) scale(0.935 1)" font-family="'Liberation Serif', 'DejaVu Serif', serif" font-size="66" text-anchor="middle" fill="#000">(<tspan font-weight="bold">c</tspan>)</text>
</g>
<g id="panel-d">
<rect x="1425.5" y="979.5" width="917.0" height="477.0" fill="#fff" stroke="#262626" stroke-width="1"/>
<path d="M1577.5 1456.5v-9.2M1577.5 979.5v9.2M1730.5 1456.5v-9.2M1730.5 979.5v9.2M1883.5 1456.5v-9.2M1883.5 979.5v9.2M2036.5 1456.5v-9.2M2036.5 979.5v9.2M2189.5 1456.5v-9.2M2189.5 979.5v9.2M1425.5 1218.5h9.2M2342.5 1218.5h-9.2" fill="none" stroke="#262626" stroke-width="1"/>
<clipPath id="c3"><rect x="1422.5" y="976.5" width="923.0" height="483.0"/></clipPath>
<g clip-path="url(#c3)">
<path d="M1427.05 975.74 L1427.84 1091.15 L1428.36 1185.57 L1428.36 1185.57 L1429.36 1187.18 L1430.36 1188.73 L1431.36 1190.24 L1432.36 1191.7 L1433.36 1193.11 L1434.36 1194.47 L1435.36 1195.8 L1436.36 1197.1 L1437.36 1198.33 L1438.36 1199.47 L1439.36 1200.53 L1440.36 1201.53 L1441.36 1202.47 L1442.36 1203.35 L1443.36 1204.17 L1444.36 1204.91 L1445.36 1205.62 L1446.36 1206.29 L1447.36 1206.9 L1448.36 1207.44 L1449.36 1207.88 L1450.36 1208.24 L1451.36 1208.57 L1452.36 1208.87 L1453.36 1209.14 L1454.36 1209.38 L1455.36 1209.61 L1456.36 1209.81 L1457.36 1209.99 L1458.36 1210.18 L1459.36 1210.36 L1460.36 1210.54 L1461.36 1210.7 L1462.36 1210.84 L1463.36 1210.94 L1464.36 1211 L1465.36 1211.02 L1466.36 1211.01 L1467.36 1210.99 L1468.36 1210.95 L1469.36 1210.91 L1470.36 1210.86 L1471.36 1210.8 L1472.36 1210.74 L1473.36 1210.67 L1474.36 1210.59 L1475.36 1210.51 L1476.36 1210.41 L1477.36 1210.26 L1478.36 1210.07 L1479.36 1209.85 L1480.36 1209.59 L1481.36 1209.31 L1482.36 1209.01 L1483.36 1208.71 L1484.36 1208.39 L1485.36 1208.08 L1486.36 1207.78 L1487.36 1207.45 L1488.36 1207.08 L1489.36 1206.7 L1490.36 1206.29 L1491.36 1205.88 L1492.36 1205.47 L1493.36 1205.07 L1494.36 1204.68 L1495.36 1204.32 L1496.36 1203.99 L1497.36 1203.69 L1498.36 1203.38 L1499.36 1203.06 L1500.36 1202.75 L1501.36 1202.45 L1502.36 1202.17 L1503.36 1201.91 L1504.36 1201.69 L1505.36 1201.51 L1506.36 1201.37 L1507.36 1201.29 L1508.36 1201.22 L1509.36 1201.16 L1510.36 1201.1 L1511.36 1201.04 L1512.36 1200.99 L1513.36 1200.94 L1514.36 1200.9 L1515.36 1200.87 L1516.36 1200.84 L1517.36 1200.82 L1518.36 1200.8 L1519.36 1200.79 L1520.36 1200.79 L1521.36 1200.79 L1522.36 1200.79 L1523.36 1200.79 L1524.36 1200.79 L1525.36 1200.79 L1526.36 1200.79 L1527.36 1200.79 L1528.36 1200.79 L1529.36 1200.79 L1530.36 1200.79 L1531.36 1200.79 L1532.36 1200.79 L1533.36 1200.79 L1534.36 1200.79 L1535.36 1200.79 L1536.36 1200.79 L1537.36 1200.79 L1538.36 1200.79 L1539.36 1200.79 L1540.36 1200.79 L1541.36 1200.79 L1542.36 1200.79 L1543.36 1200.79 L1544.36 1200.79 L1545.36 1200.79 L1546.36 1200.79 L1547.36 1200.79 L1548.36 1200.79 L1549.36 1200.79 L1550.36 1200.79 L1551.36 1200.79 L1552.36 1200.79 L1553.36 1200.79 L1554.36 1200.79 L1555.36 1200.79 L1556.36 1200.79 L1557.36 1200.79 L1558.36 1200.79 L1559.36 1200.79 L1560.36 1200.79 L1561.36 1200.79 L1562.36 1200.79 L1563.36 1200.79 L1564.36 1200.79 L1565.36 1200.79 L1566.36 1200.79 L1567.36 1200.79 L1568.36 1200.79 L1569.36 1200.81 L1570.36 1200.85 L1571.36 1200.89 L1572.36 1200.94 L1573.36 1201.01 L1574.36 1201.08 L1575.36 1201.16 L1576.36 1201.24 L1577.36 1201.33 L1578.36 1201.42 L1579.36 1201.52 L1580.36 1201.62 L1581.36 1201.72 L1582.36 1201.82 L1583.36 1201.92 L1584.36 1202.01 L1585.36 1202.11 L1586.36 1202.2 L1587.36 1202.28 L1588.36 1202.36 L1589.36 1202.44 L1590.36 1202.51 L1591.36 1202.59 L1592.36 1202.67 L1593.36 1202.75 L1594.36 1202.83 L1595.36 1202.92 L1596.36 1203 L1597.36 1203.08 L1598.36 1203.16 L1599.36 1203.24 L1600.36 1203.32 L1601.36 1203.39 L1602.36 1203.47 L1603.36 1203.54 L1604.36 1203.62 L1605.36 1203.69 L1606.36 1203.75 L1607.36 1203.82 L1608.36 1203.88 L1609.36 1203.94 L1610.36 1203.99 L1611.36 1204.05 L1612.36 1204.1 L1613.36 1204.15 L1614.36 1204.21 L1615.36 1204.26 L1616.36 1204.31 L1617.36 1204.36 L1618.36 1204.41 L1619.36 1204.46 L1620.36 1204.51 L1621.36 1204.55 L1622.36 1204.6 L1623.36 1204.64 L1624.36 1204.68 L1625.36 1204.72 L1626.36 1204.76 L1627.36 1204.8 L1628.36 1204.84 L1629.36 1204.87 L1630.36 1204.91 L1631.36 1204.94 L1632.36 1204.97 L1633.36 1205 L1634.36 1205.02 L1635.36 1205.05 L1636.36 1205.08 L1637.36 1205.11 L1638.36 1205.14 L1639.36 1205.16 L1640.36 1205.19 L1641.36 1205.22 L1642.36 1205.25 L1643.36 1205.27 L1644.36 1205.3 L1645.36 1205.32 L1646.36 1205.34 L1647.36 1205.37 L1648.36 1205.39 L1649.36 1205.41 L1650.36 1205.42 L1651.36 1205.44 L1652.36 1205.46 L1653.36 1205.47 L1654.36 1205.48 L1655.36 1205.49 L1656.36 1205.5 L1657.36 1205.5 L1658.36 1205.51 L1659.36 1205.51 L1660.36 1205.51 L1661.36 1205.51 L1662.36 1205.51 L1663.36 1205.51 L1664.36 1205.51 L1665.36 1205.51 L1666.36 1205.51 L1667.36 1205.51 L1668.36 1205.51 L1669.36 1205.51 L1670.36 1205.51 L1671.36 1205.51 L1672.36 1205.51 L1673.36 1205.51 L1674.36 1205.51 L1675.36 1205.51 L1676.36 1205.51 L1677.36 1205.51 L1678.36 1205.51 L1679.36 1205.51 L1680.36 1205.51 L1681.36 1205.51 L1682.36 1205.51 L1683.36 1205.51 L1684.36 1205.51 L1685.36 1205.51 L1686.36 1205.51 L1687.36 1205.51 L1688.36 1205.51 L1689.36 1205.51 L1690.36 1205.51 L1691.36 1205.51 L1692.36 1205.51 L1693.36 1205.51 L1694.36 1205.51 L1695.36 1205.51 L1696.36 1205.51 L1697.36 1205.51 L1698.36 1205.51 L1699.36 1205.51 L1700.36 1205.5 L1701.36 1205.5 L1702.36 1205.49 L1703.36 1205.48 L1704.36 1205.46 L1705.36 1205.45 L1706.36 1205.43 L1707.36 1205.41 L1708.36 1205.39 L1709.36 1205.37 L1710.36 1205.35 L1711.36 1205.32 L1712.36 1205.3 L1713.36 1205.27 L1714.36 1205.24 L1715.36 1205.21 L1716.36 1205.19 L1717.36 1205.16 L1718.36 1205.13 L1719.36 1205.1 L1720.36 1205.07 L1721.36 1205.04 L1722.36 1205.01 L1723.36 1204.99 L1724.36 1204.96 L1725.36 1204.93 L1726.36 1204.91 L1727.36 1204.88 L1728.36 1204.86 L1729.36 1204.84 L1730.36 1204.82 L1731.36 1204.8 L1732.36 1204.78 L1733.36 1204.76 L1734.36 1204.75 L1735.36 1204.74 L1736.36 1204.73 L1737.36 1204.72 L1738.36 1204.72 L1739.36 1204.72 L1740.36 1204.71 L1741.36 1204.71 L1742.36 1204.7 L1743.36 1204.7 L1744.36 1204.7 L1745.36 1204.69 L1746.36 1204.69 L1747.36 1204.69 L1748.36 1204.68 L1749.36 1204.68 L1750.36 1204.68 L1751.36 1204.67 L1752.36 1204.67 L1753.36 1204.67 L1754.36 1204.66 L1755.36 1204.66 L1756.36 1204.66 L1757.36 1204.65 L1758.36 1204.65 L1759.36 1204.65 L1760.36 1204.64 L1761.36 1204.64 L1762.36 1204.64 L1763.36 1204.63 L1764.36 1204.63 L1765.36 1204.63 L1766.36 1204.63 L1767.36 1204.62 L1768.36 1204.62 L1769.36 1204.62 L1770.36 1204.61 L1771.36 1204.61 L1772.36 1204.61 L1773.36 1204.61 L1774.36 1204.6 L1775.36 1204.6 L1776.36 1204.6 L1777.36 1204.6 L1778.36 1204.59 L1779.36 1204.59 L1780.36 1204.59 L1781.36 1204.58 L1782.36 1204.58 L1783.36 1204.58 L1784.36 1204.58 L1785.36 1204.58 L1786.36 1204.57 L1787.36 1204.57 L1788.36 1204.57 L1789.36 1204.57 L1790.36 1204.56 L1791.36 1204.56 L1792.36 1204.56 L1793.36 1204.56 L1794.36 1204.55 L1795.36 1204.55 L1796.36 1204.55 L1797.36 1204.55 L1798.36 1204.55 L1799.36 1204.54 L1800.36 1204.54 L1801.36 1204.54 L1802.36 1204.54 L1803.36 1204.54 L1804.36 1204.53 L1805.36 1204.53 L1806.36 1204.53 L1807.36 1204.53 L1808.36 1204.53 L1809.36 1204.53 L1810.36 1204.52 L1811.36 1204.52 L1812.36 1204.52 L1813.36 1204.52 L1814.36 1204.52 L1815.36 1204.52 L1816.36 1204.51 L1817.36 1204.51 L1818.36 1204.51 L1819.36 1204.51 L1820.36 1204.51 L1821.36 1204.51 L1822.36 1204.5 L1823.36 1204.5 L1824.36 1204.5 L1825.36 1204.5 L1826.36 1204.5 L1827.36 1204.5 L1828.36 1204.5 L1829.36 1204.5 L1830.36 1204.49 L1831.36 1204.49 L1832.36 1204.49 L1833.36 1204.49 L1834.36 1204.49 L1835.36 1204.49 L1836.36 1204.49 L1837.36 1204.49 L1838.36 1204.49 L1839.36 1204.48 L1840.36 1204.48 L1841.36 1204.48 L1842.36 1204.48 L1843.36 1204.48 L1844.36 1204.48 L1845.36 1204.48 L1846.36 1204.48 L1847.36 1204.48 L1848.36 1204.48 L1849.36 1204.47 L1850.36 1204.47 L1851.36 1204.47 L1852.36 1204.47 L1853.36 1204.47 L1854.36 1204.47 L1855.36 1204.47 L1856.36 1204.47 L1857.36 1204.47 L1858.36 1204.47 L1859.36 1204.47 L1860.36 1204.47 L1861.36 1204.47 L1862.36 1204.47 L1863.36 1204.47 L1864.36 1204.47 L1865.36 1204.46 L1866.36 1204.46 L1867.36 1204.46 L1868.36 1204.46 L1869.36 1204.46 L1870.36 1204.46 L1871.36 1204.46 L1872.36 1204.46 L1873.36 1204.46 L1874.36 1204.46 L1875.36 1204.46 L1876.36 1204.46 L1877.36 1204.46 L1878.36 1204.46 L1879.36 1204.46 L1880.36 1204.46 L1881.36 1204.46 L1882.36 1204.46 L1883.36 1204.46 L1884.36 1204.46 L1885.36 1204.46 L1886.36 1204.46 L1887.36 1204.46 L1888.36 1204.46 L1889.36 1204.46 L1890 1204.46 L2342.5 1204.5" fill="none" stroke="#0072bd" stroke-width="5.2" stroke-linecap="butt" stroke-linejoin="round"/>
<path d="M1425.74 970.49 L1425.74 1460.98" fill="none" stroke="#d95319" stroke-width="5.2" stroke-linecap="butt" stroke-linejoin="round" stroke-dasharray="13 10.5"/>
<path d="M1426.26 1298.36 L1426.28 1297.36 L1426.3 1296.36 L1426.31 1295.36 L1426.33 1294.36 L1426.35 1293.36 L1426.37 1292.36 L1426.38 1291.36 L1426.4 1290.36 L1426.42 1289.36 L1426.44 1288.36 L1426.46 1287.36 L1426.48 1286.36 L1426.5 1285.36 L1426.52 1284.36 L1426.53 1283.36 L1426.55 1282.36 L1426.57 1281.36 L1426.59 1280.36 L1426.61 1279.36 L1426.63 1278.36 L1426.65 1277.36 L1426.68 1276.36 L1426.7 1275.36 L1426.72 1274.36 L1426.74 1273.36 L1426.76 1272.37 L1426.78 1271.37 L1426.8 1270.37 L1426.82 1269.37 L1426.85 1268.37 L1426.87 1267.37 L1426.89 1266.37 L1426.91 1265.37 L1426.94 1264.37 L1426.96 1263.37 L1426.98 1262.37 L1427 1261.37 L1427.03 1260.37 L1427.05 1259.37 L1427.07 1258.37 L1427.1 1257.37 L1427.12 1256.37 L1427.15 1255.37 L1427.17 1254.37 L1427.19 1253.37 L1427.22 1252.37 L1427.24 1251.37 L1427.27 1250.37 L1427.29 1249.37 L1427.32 1248.37 L1427.34 1247.37 L1427.36 1246.37 L1427.39 1245.37 L1427.41 1244.37 L1427.44 1243.37 L1427.46 1242.37 L1427.49 1241.37 L1427.51 1240.37 L1427.54 1239.37 L1427.57 1238.37 L1427.59 1237.37 L1427.62 1236.38 L1427.64 1235.38 L1427.67 1234.38 L1427.69 1233.38 L1427.72 1232.38 L1427.75 1231.38 L1427.77 1230.38 L1427.8 1229.38 L1427.83 1228.38 L1427.86 1227.38 L1427.88 1226.38 L1427.91 1225.38 L1427.94 1224.38 L1427.97 1223.38 L1428 1222.38 L1428.03 1221.38 L1428.06 1220.38 L1428.08 1219.38 L1428.11 1218.38 L1428.14 1217.38 L1428.18 1216.38 L1428.21 1215.38 L1428.24 1214.38 L1428.27 1213.38 L1428.3 1212.38 L1428.33 1211.38 L1428.37 1210.38 L1428.4 1209.38 L1428.43 1208.39 L1428.47 1207.39 L1428.5 1206.39 L1428.54 1205.39 L1428.57 1204.39 L1428.61 1203.39 L1428.64 1202.39 L1428.68 1201.39 L1428.72 1200.39 L1428.76 1199.39 L1428.79 1198.39 L1428.83 1197.39 L1428.87 1196.39 L1428.91 1195.4 L1428.95 1194.4 L1428.99 1193.4 L1429.04 1192.4 L1429.08 1191.4 L1429.12 1190.4 L1429.17 1189.4 L1429.22 1188.4 L1429.26 1187.4 L1429.31 1186.4 L1429.36 1185.4 L1429.41 1184.41 L1429.46 1183.41 L1429.51 1182.41 L1429.57 1181.41 L1429.62 1180.41 L1429.68 1179.41 L1429.74 1178.41 L1429.79 1177.41 L1429.85 1176.42 L1429.91 1175.42 L1429.97 1174.42 L1430.04 1173.42 L1430.1 1172.42 L1430.17 1171.43 L1430.23 1170.43 L1430.3 1169.43 L1430.37 1168.43 L1430.44 1167.44 L1430.52 1166.44 L1430.59 1165.44 L1430.67 1164.45 L1430.75 1163.45 L1430.83 1162.45 L1430.91 1161.45 L1431 1160.45 L1431.09 1159.46 L1431.18 1158.46 L1431.28 1157.46 L1431.38 1156.47 L1431.49 1155.47 L1431.6 1154.48 L1431.71 1153.48 L1431.83 1152.49 L1431.95 1151.5 L1432.07 1150.51 L1432.2 1149.52 L1432.34 1148.53 L1432.48 1147.54 L1432.63 1146.54 L1432.78 1145.54 L1432.95 1144.54 L1433.12 1143.54 L1433.31 1142.54 L1433.51 1141.55 L1433.72 1140.56 L1433.95 1139.59 L1434.2 1138.63 L1434.47 1137.68 L1434.75 1136.75 L1435.07 1135.81 L1435.46 1134.71 L1435.93 1133.58 L1436.47 1132.6 L1437.07 1131.96 L1437.76 1131.81 L1438.76 1131.94 L1439.88 1132.2 L1440.81 1132.52 L1441.4 1132.96 L1441.91 1133.68 L1442.35 1134.61 L1442.74 1135.66 L1443.09 1136.76 L1443.41 1137.82 L1443.7 1138.79 L1443.98 1139.74 L1444.23 1140.7 L1444.47 1141.67 L1444.69 1142.65 L1444.9 1143.63 L1445.1 1144.62 L1445.3 1145.61 L1445.49 1146.59 L1445.68 1147.57 L1445.86 1148.56 L1446.04 1149.54 L1446.21 1150.52 L1446.37 1151.51 L1446.53 1152.5 L1446.68 1153.49 L1446.83 1154.48 L1446.98 1155.47 L1447.13 1156.45 L1447.29 1157.44 L1447.44 1158.43 L1447.6 1159.42 L1447.76 1160.41 L1447.93 1161.39 L1448.11 1162.38 L1448.29 1163.36 L1448.47 1164.34 L1448.66 1165.32 L1448.85 1166.31 L1449.05 1167.29 L1449.24 1168.27 L1449.44 1169.25 L1449.64 1170.23 L1449.84 1171.21 L1450.05 1172.19 L1450.25 1173.17 L1450.46 1174.14 L1450.66 1175.12 L1450.87 1176.1 L1451.08 1177.08 L1451.3 1178.05 L1451.51 1179.03 L1451.73 1180.01 L1451.95 1180.98 L1452.17 1181.96 L1452.39 1182.93 L1452.61 1183.91 L1452.83 1184.88 L1453.05 1185.86 L1453.27 1186.84 L1453.48 1187.81 L1453.7 1188.79 L1453.91 1189.77 L1454.12 1190.74 L1454.34 1191.72 L1454.55 1192.7 L1454.77 1193.67 L1454.98 1194.65 L1455.2 1195.63 L1455.42 1196.6 L1455.64 1197.58 L1455.87 1198.55 L1456.1 1199.52 L1456.32 1200.5 L1456.55 1201.48 L1456.78 1202.45 L1457.01 1203.43 L1457.24 1204.4 L1457.48 1205.37 L1457.73 1206.34 L1457.99 1207.31 L1458.26 1208.27 L1458.54 1209.22 L1458.83 1210.18 L1459.13 1211.13 L1459.45 1212.08 L1459.77 1213.04 L1460.11 1213.98 L1460.46 1214.93 L1460.82 1215.86 L1461.19 1216.79 L1461.58 1217.72 L1461.98 1218.63 L1462.39 1219.53 L1462.82 1220.42 L1463.28 1221.32 L1463.76 1222.21 L1464.26 1223.09 L1464.79 1223.96 L1465.34 1224.79 L1465.91 1225.6 L1466.51 1226.37 L1467.14 1227.13 L1467.81 1227.88 L1468.51 1228.62 L1469.24 1229.33 L1470 1230.02 L1470.78 1230.68 L1471.57 1231.3 L1472.37 1231.88 L1473.18 1232.41 L1474.02 1232.89 L1474.88 1233.35 L1475.78 1233.78 L1476.69 1234.19 L1477.62 1234.58 L1478.55 1234.96 L1479.5 1235.34 L1480.44 1235.71 L1481.39 1236.09 L1482.32 1236.48 L1483.24 1236.89 L1484.15 1237.31 L1485.06 1237.72 L1485.98 1238.13 L1486.89 1238.54 L1487.81 1238.95 L1488.72 1239.37 L1489.63 1239.79 L1490.54 1240.21 L1491.43 1240.65 L1492.32 1241.1 L1493.2 1241.57 L1494.07 1242.05 L1494.93 1242.56 L1495.76 1243.1 L1496.59 1243.67 L1497.41 1244.25 L1498.22 1244.83 L1499.04 1245.42 L1499.87 1245.99 L1500.7 1246.54 L1501.55 1247.06 L1502.41 1247.56 L1503.28 1248.05 L1504.16 1248.53 L1505.05 1249.01 L1505.94 1249.47 L1506.85 1249.91 L1507.75 1250.34 L1508.67 1250.74 L1509.59 1251.11 L1510.51 1251.49 L1511.45 1251.88 L1512.39 1252.29 L1513.34 1252.68 L1514.29 1253.06 L1515.25 1253.39 L1516.22 1253.67 L1517.18 1253.88 L1518.16 1254 L1519.13 1254.03 L1520.12 1254 L1521.14 1253.93 L1522.16 1253.82 L1523.18 1253.68 L1524.19 1253.52 L1525.18 1253.33 L1526.12 1253.13 L1527.03 1252.9 L1527.89 1252.52 L1528.74 1252 L1529.55 1251.37 L1530.35 1250.69 L1531.14 1250 L1531.92 1249.35 L1532.69 1248.72 L1533.44 1248.07 L1534.19 1247.4 L1534.92 1246.71 L1535.64 1246.02 L1536.37 1245.33 L1537.09 1244.63 L1537.81 1243.94 L1538.55 1243.26 L1539.28 1242.58 L1540.01 1241.89 L1540.74 1241.2 L1541.46 1240.51 L1542.19 1239.82 L1542.92 1239.13 L1543.65 1238.44 L1544.38 1237.76 L1545.12 1237.09 L1545.87 1236.42 L1546.62 1235.77 L1547.39 1235.14 L1548.17 1234.52 L1548.95 1233.9 L1549.74 1233.29 L1550.54 1232.69 L1551.35 1232.09 L1552.16 1231.5 L1552.98 1230.91 L1553.8 1230.34 L1554.63 1229.78 L1555.47 1229.23 L1556.31 1228.69 L1557.16 1228.16 L1558.01 1227.65 L1558.87 1227.15 L1559.74 1226.65 L1560.61 1226.15 L1561.49 1225.67 L1562.37 1225.19 L1563.27 1224.72 L1564.17 1224.27 L1565.07 1223.83 L1565.98 1223.41 L1566.9 1223.01 L1567.82 1222.63 L1568.74 1222.28 L1569.67 1221.94 L1570.61 1221.61 L1571.56 1221.3 L1572.51 1221 L1573.47 1220.7 L1574.43 1220.42 L1575.4 1220.15 L1576.37 1219.89 L1577.35 1219.63 L1578.32 1219.39 L1579.29 1219.16 L1580.27 1218.94 L1581.24 1218.72 L1582.22 1218.51 L1583.19 1218.31 L1584.17 1218.11 L1585.16 1217.92 L1586.14 1217.74 L1587.13 1217.56 L1588.11 1217.39 L1589.1 1217.22 L1590.09 1217.06 L1591.08 1216.9 L1592.07 1216.75 L1593.06 1216.6 L1594.04 1216.46 L1595.03 1216.32 L1596.02 1216.19 L1597.02 1216.05 L1598.01 1215.93 L1599 1215.8 L1599.99 1215.68 L1600.99 1215.56 L1601.98 1215.45 L1602.98 1215.34 L1603.97 1215.23 L1604.96 1215.13 L1605.96 1215.03 L1606.95 1214.93 L1607.95 1214.83 L1608.95 1214.73 L1609.94 1214.64 L1610.94 1214.54 L1611.93 1214.45 L1612.93 1214.36 L1613.93 1214.27 L1614.92 1214.19 L1615.92 1214.11 L1616.92 1214.05 L1617.92 1213.99 L1618.92 1213.94 L1619.91 1213.9 L1620.91 1213.87 L1621.91 1213.83 L1622.91 1213.8 L1623.91 1213.77 L1624.91 1213.74 L1625.91 1213.71 L1626.91 1213.68 L1627.91 1213.65 L1628.91 1213.62 L1629.91 1213.6 L1630.91 1213.57 L1631.91 1213.55 L1632.91 1213.53 L1633.91 1213.51 L1634.91 1213.49 L1635.91 1213.47 L1636.91 1213.45 L1637.91 1213.44 L1638.91 1213.42 L1639.91 1213.41 L1640.91 1213.4 L1641.91 1213.39 L1642.91 1213.39 L1643.91 1213.38 L1644.91 1213.38 L1645.91 1213.38 L1646.91 1213.38 L1647.91 1213.38 L1648.91 1213.38 L1649.91 1213.38 L1650.91 1213.39 L1651.91 1213.39 L1652.91 1213.4 L1653.91 1213.41 L1654.91 1213.41 L1655.91 1213.42 L1656.91 1213.43 L1657.91 1213.44 L1658.91 1213.45 L1659.91 1213.46 L1660.91 1213.48 L1661.91 1213.49 L1662.91 1213.5 L1663.91 1213.51 L1664.91 1213.53 L1665.91 1213.54 L1666.91 1213.56 L1667.91 1213.57 L1668.91 1213.59 L1669.91 1213.6 L1670.91 1213.62 L1671.91 1213.63 L1672.91 1213.65 L1673.91 1213.67 L1674.91 1213.69 L1675.91 1213.71 L1676.91 1213.73 L1677.91 1213.76 L1678.91 1213.79 L1679.91 1213.82 L1680.91 1213.85 L1681.91 1213.88 L1682.91 1213.92 L1683.91 1213.96 L1684.91 1214 L1685.91 1214.04 L1686.91 1214.08 L1687.91 1214.13 L1688.91 1214.18 L1689.91 1214.23 L1690.9 1214.29 L1691.9 1214.34 L1692.89 1214.4 L1693.89 1214.47 L1694.88 1214.56 L1695.87 1214.68 L1696.86 1214.81 L1697.85 1214.96 L1698.84 1215.12 L1699.83 1215.29 L1700.82 1215.46 L1701.81 1215.62 L1702.8 1215.79 L1703.79 1215.94 L1704.78 1216.08 L1705.77 1216.2 L1706.76 1216.3 L1707.76 1216.39 L1708.75 1216.48 L1709.75 1216.57 L1710.74 1216.65 L1711.74 1216.73 L1712.74 1216.81 L1713.73 1216.89 L1714.73 1216.96 L1715.73 1217.03 L1716.73 1217.1 L1717.73 1217.16 L1718.73 1217.23 L1719.72 1217.29 L1720.72 1217.35 L1721.72 1217.41 L1722.72 1217.46 L1723.72 1217.52 L1724.72 1217.57 L1725.72 1217.62 L1726.71 1217.67 L1727.71 1217.72 L1728.71 1217.77 L1729.71 1217.82 L1730.71 1217.87 L1731.71 1217.92 L1732.71 1217.96 L1733.71 1218.01 L1734.71 1218.05 L1735.7 1218.09 L1736.7 1218.13 L1737.7 1218.18 L1738.7 1218.22 L1739.7 1218.25 L1740.7 1218.29 L1741.7 1218.33 L1742.7 1218.37 L1743.7 1218.4 L1744.7 1218.43 L1745.7 1218.47 L1746.7 1218.5 L1747.7 1218.53 L1748.7 1218.56 L1749.7 1218.59 L1750.7 1218.62 L1751.7 1218.64 L1752.7 1218.67 L1753.7 1218.7 L1754.7 1218.72 L1755.69 1218.75 L1756.69 1218.78 L1757.69 1218.81 L1758.69 1218.83 L1759.69 1218.86 L1760.69 1218.89 L1761.69 1218.91 L1762.69 1218.94 L1763.69 1218.96 L1764.69 1218.99 L1765.69 1219.01 L1766.69 1219.03 L1767.69 1219.05 L1768.69 1219.07 L1769.69 1219.08 L1770.69 1219.1 L1771.69 1219.11 L1772.69 1219.12 L1773.69 1219.13 L1774.69 1219.14 L1775.69 1219.14 L1776.69 1219.15 L1777.69 1219.15 L1778.69 1219.15 L1779.69 1219.15 L1780.69 1219.15 L1781.69 1219.15 L1782.69 1219.15 L1783.69 1219.15 L1784.69 1219.15 L1785.69 1219.15 L1786.69 1219.15 L1787.69 1219.15 L1788.69 1219.15 L1789.69 1219.15 L1790.69 1219.15 L1791.69 1219.15 L1792.69 1219.15 L1793.69 1219.15 L1794.69 1219.15 L1795.69 1219.15 L1796.69 1219.15 L1797.69 1219.15 L1798.69 1219.15 L1799.69 1219.15 L1800.69 1219.15 L1801.69 1219.15 L1802.69 1219.15 L1803.69 1219.15 L1804.69 1219.15 L1805.69 1219.15 L1806.69 1219.14 L1807.69 1219.14 L1808.69 1219.14 L1809.69 1219.13 L1810.69 1219.13 L1811.69 1219.13 L1812.69 1219.12 L1813.69 1219.12 L1814.69 1219.11 L1815.69 1219.1 L1816.69 1219.1 L1817.69 1219.09 L1818.69 1219.08 L1819.69 1219.07 L1820.69 1219.07 L1821.69 1219.06 L1822.69 1219.05 L1823.69 1219.04 L1824.69 1219.03 L1825.69 1219.02 L1826.69 1219.02 L1827.69 1219.01 L1828.69 1219 L1829.69 1218.99 L1830.69 1218.98 L1831.69 1218.97 L1832.69 1218.96 L1833.69 1218.95 L1834.69 1218.95 L1835.69 1218.94 L1836.69 1218.93 L1837.69 1218.92 L1838.69 1218.91 L1839.69 1218.91 L1840.69 1218.9 L1841.69 1218.89 L1842.69 1218.89 L1843.69 1218.88 L1844.69 1218.87 L1845.69 1218.87 L1846.69 1218.86 L1847.69 1218.86 L1848.69 1218.85 L1849.69 1218.84 L1850.69 1218.84 L1851.69 1218.83 L1852.69 1218.83 L1853.69 1218.82 L1854.69 1218.81 L1855.69 1218.81 L1856.69 1218.8 L1857.69 1218.8 L1858.69 1218.79 L1859.69 1218.79 L1860.69 1218.78 L1861.69 1218.77 L1862.69 1218.77 L1863.69 1218.76 L1864.69 1218.76 L1865.69 1218.75 L1866.69 1218.75 L1867.69 1218.74 L1868.69 1218.73 L1869.69 1218.73 L1870.69 1218.72 L1871.69 1218.72 L1872.69 1218.71 L1873.69 1218.71 L1874.69 1218.7 L1875.69 1218.7 L1876.69 1218.69 L1877.69 1218.69 L1878.69 1218.68 L1879.69 1218.68 L1880.69 1218.67 L1881.69 1218.67 L1882.69 1218.66 L1883.69 1218.65 L1884.69 1218.65 L1885.69 1218.64 L1886.69 1218.64 L1887.69 1218.63 L1888.69 1218.63 L1889.69 1218.62 L1890 1218.62 L2342.5 1218.6" fill="none" stroke="#d95319" stroke-width="5.2" stroke-linecap="butt" stroke-linejoin="round" stroke-dasharray="13 10.5"/>
</g>
<text x="1425.5" y="1532.8" font-family="'Liberation Sans', 'DejaVu Sans', sans-serif" font-size="58.3" text-anchor="middle" fill="#262626">0</text>
<text x="1578.33" y="1532.8" font-family="'Liberation Sans', 'DejaVu Sans', sans-serif" font-size="58.3" text-anchor="middle" fill="#262626">20</text>
<text x="1731.17" y="1532.8" font-family="'Liberation Sans', 'DejaVu Sans', sans-serif" font-size="58.3" text-anchor="middle" fill="#262626">40</text>
<text x="1884" y="1532.8" font-family="'Liberation Sans', 'DejaVu Sans', sans-serif" font-size="58.3" text-anchor="middle" fill="#262626">60</text>
<text x="2036.83" y="1532.8" font-family="'Liberation Sans', 'DejaVu Sans', sans-serif" font-size="58.3" text-anchor="middle" fill="#262626">80</text>
<text x="2189.67" y="1532.8" font-family="'Liberation Sans', 'DejaVu Sans', sans-serif" font-size="58.3" text-anchor="middle" fill="#262626">100</text>
<text x="2342.5" y="1532.8" font-family="'Liberation Sans', 'DejaVu Sans', sans-serif" font-size="58.3" text-anchor="middle" fill="#262626">120</text>
<text x="1409.1" y="1480.4" font-family="'Liberation Sans', 'DejaVu Sans', sans-serif" font-size="58.3" text-anchor="end" fill="#262626">-5</text>
<text x="1409.1" y="1241.9" font-family="'Liberation Sans', 'DejaVu Sans', sans-serif" font-size="58.3" text-anchor="end" fill="#262626">0</text>
<text x="1409.1" y="1003.4" font-family="'Liberation Sans', 'DejaVu Sans', sans-serif" font-size="58.3" text-anchor="end" fill="#262626">5</text>
<text x="1883" y="1613.2" font-family="'Liberation Sans', 'DejaVu Sans', sans-serif" font-size="64.2" text-anchor="middle" fill="#262626">t [s]</text>
<g transform="translate(1306.7 1419.26) rotate(-90)">
<text x="0" y="0" transform="translate(-15.04 3.31) scale(1.072 1)" font-family="IPAGothic, 'Liberation Serif', serif" font-size="58.99" fill="#262626" stroke="#fff" stroke-width="1.67" stroke-linejoin="round">τ</text>
<text x="28.76" y="32.1" font-family="'Liberation Sans', 'DejaVu Sans', sans-serif" font-size="51.36" fill="#262626">u</text>
<text x="60.54" y="0" font-family="'Liberation Sans', 'DejaVu Sans', sans-serif" font-size="64.2" fill="#262626"> [N], </text>
<text x="0" y="0" transform="translate(181.04 3.31) scale(1.072 1)" font-family="IPAGothic, 'Liberation Serif', serif" font-size="58.99" fill="#262626" stroke="#fff" stroke-width="1.67" stroke-linejoin="round">τ</text>
<text x="224.84" y="32.1" font-family="'Liberation Sans', 'DejaVu Sans', sans-serif" font-size="51.36" fill="#262626">r</text>
<text x="245.16" y="0" font-family="'Liberation Sans', 'DejaVu Sans', sans-serif" font-size="64.2" fill="#262626"> [Nm]</text>
</g>
<rect x="2143.5" y="995.5" width="129.0" height="191.0" fill="#fff" stroke="#262626" stroke-width="1"/>
<path d="M2154.5 1045.4H2214.5" stroke="#0072bd" stroke-width="5" fill="none"/>
<text x="0" y="0" transform="translate(2207.5 1057.2) scale(1.072 1)" font-family="IPAGothic, 'Liberation Serif', serif" font-size="48.24" fill="#000" stroke="#fff" stroke-width="1.36" stroke-linejoin="round">τ</text>
<text x="2243.32" y="1080.75" font-family="'Liberation Sans', 'DejaVu Sans', sans-serif" font-size="42" fill="#000">u</text>
<path d="M2154.5 1136.6H2214.5" stroke="#d95319" stroke-width="5" stroke-dasharray="13 10.5" fill="none"/>
<text x="0" y="0" transform="translate(2207.5 1148.2) scale(1.072 1)" font-family="IPAGothic, 'Liberation Serif', serif" font-size="48.24" fill="#000" stroke="#fff" stroke-width="1.36" stroke-linejoin="round">τ</text>
<text x="2243.32" y="1171.75" font-family="'Liberation Sans', 'DejaVu Sans', sans-serif" font-size="42" fill="#000">r</text>
<text transform="translate(1834 1727.8) scale(0.935 1)" font-family="'Liberation Serif', 'DejaVu Serif', serif" font-size="66" text-anchor="middle" fill="#000">(<tspan font-weight="bold">d</tspan>)</text>
</g>
<g id="panel-e">
<rect x="170.5" y="1885.5" width="934.0" height="476.0" fill="#fff" stroke="#262626" stroke-width="1"/>
<path d="M325.5 2361.5v-9.2M325.5 1885.5v9.2M481.5 2361.5v-9.2M481.5 1885.5v9.2M637.5 2361.5v-9.2M637.5 1885.5v9.2M792.5 2361.5v-9.2M792.5 1885.5v9.2M948.5 2361.5v-9.2M948.5 1885.5v9.2M170.5 2243.5h9.2M1104.5 2243.5h-9.2M170.5 2124.5h9.2M1104.5 2124.5h-9.2M170.5 2005.5h9.2M1104.5 2005.5h-9.2" fill="none" stroke="#262626" stroke-width="1"/>
<clipPath id="c4"><rect x="167.5" y="1882.5" width="940.0" height="482.0"/></clipPath>
<g clip-path="url(#c4)">
<path d="M172.84 2361.5 L174.39 2004.5 L175.56 1972.97 L176.56 1973.55 L177.56 1974.83 L178.56 1977.42 L179.56 1981.68 L180.56 1986.9 L181.56 1992.38 L182.56 1997.5 L183.56 2002.72 L184.56 2008.18 L185.56 2013.85 L186.56 2019.68 L187.56 2025.64 L188.56 2031.68 L189.56 2037.77 L190.56 2043.9 L191.56 2050.19 L192.56 2056.63 L193.56 2063.18 L194.56 2069.78 L195.56 2076.41 L196.56 2083.03 L197.56 2089.59 L198.56 2096.09 L199.56 2102.61 L200.56 2109.13 L201.56 2115.65 L202.56 2122.17 L203.56 2128.66 L204.56 2135.13 L205.56 2141.57 L206.56 2148.02 L207.56 2154.52 L208.56 2161.01 L209.56 2167.47 L210.56 2173.86 L211.56 2180.13 L212.56 2186.26 L213.56 2192.21 L214.56 2198.1 L215.56 2203.96 L216.56 2209.72 L217.56 2215.36 L218.56 2220.82 L219.56 2226.06 L220.56 2231.04 L221.56 2235.74 L222.56 2240.29 L223.56 2244.69 L224.56 2248.94 L225.56 2253.02 L226.56 2256.91 L227.56 2260.6 L228.56 2264.06 L229.56 2267.33 L230.56 2270.48 L231.56 2273.51 L232.56 2276.4 L233.56 2279.14 L234.56 2281.71 L235.56 2284.11 L236.56 2286.32 L237.56 2288.38 L238.56 2290.36 L239.56 2292.25 L240.56 2294.03 L241.56 2295.69 L242.56 2297.2 L243.56 2298.56 L244.56 2299.75 L245.56 2300.84 L246.56 2301.88 L247.56 2302.85 L248.56 2303.74 L249.56 2304.54 L250.56 2305.25 L251.56 2305.84 L252.56 2306.31 L253.56 2306.73 L254.56 2307.11 L255.56 2307.46 L256.56 2307.77 L257.56 2308.04 L258.56 2308.27 L259.56 2308.47 L260.56 2308.63 L261.56 2308.78 L262.56 2308.91 L263.56 2309.04 L264.56 2309.15 L265.56 2309.26 L266.56 2309.36 L267.56 2309.45 L268.56 2309.53 L269.56 2309.6 L270.56 2309.67 L271.56 2309.73 L272.56 2309.78 L273.56 2309.84 L274.56 2309.9 L275.56 2309.95 L276.56 2310 L277.56 2310.05 L278.56 2310.1 L279.56 2310.15 L280.56 2310.19 L281.56 2310.22 L282.56 2310.26 L283.56 2310.28 L284.56 2310.3 L285.56 2310.32 L286.56 2310.33 L287.56 2310.33 L288.56 2310.33 L289.56 2310.33 L290.56 2310.33 L291.56 2310.33 L292.56 2310.33 L293.56 2310.33 L294.56 2310.33 L295.56 2310.33 L296.56 2310.33 L297.56 2310.33 L298.56 2310.33 L299.56 2310.33 L300.56 2310.33 L301.56 2310.33 L302.56 2310.33 L303.56 2310.33 L304.56 2310.33 L305.56 2310.33 L306.56 2310.33 L307.56 2310.33 L308.56 2310.33 L309.56 2310.33 L310.56 2310.33 L311.56 2310.33 L312.56 2310.31 L313.56 2310.29 L314.56 2310.26 L315.56 2310.21 L316.56 2310.17 L317.56 2310.11 L318.56 2310.05 L319.56 2309.98 L320.56 2309.91 L321.56 2309.83 L322.56 2309.74 L323.56 2309.66 L324.56 2309.57 L325.56 2309.47 L326.56 2309.37 L327.56 2309.27 L328.56 2309.17 L329.56 2309.07 L330.56 2308.97 L331.56 2308.87 L332.56 2308.77 L333.56 2308.67 L334.56 2308.57 L335.56 2308.47 L336.56 2308.38 L337.56 2308.29 L338.56 2308.2 L339.56 2308.11 L340.56 2308.04 L341.56 2307.96 L342.56 2307.89 L343.56 2307.82 L344.56 2307.75 L345.56 2307.68 L346.56 2307.62 L347.56 2307.55 L348.56 2307.48 L349.56 2307.41 L350.56 2307.35 L351.56 2307.28 L352.56 2307.21 L353.56 2307.14 L354.56 2307.08 L355.56 2307.01 L356.56 2306.95 L357.56 2306.88 L358.56 2306.82 L359.56 2306.75 L360.56 2306.69 L361.56 2306.62 L362.56 2306.56 L363.56 2306.5 L364.56 2306.43 L365.56 2306.37 L366.56 2306.31 L367.56 2306.24 L368.56 2306.18 L369.56 2306.12 L370.56 2306.05 L371.56 2305.99 L372.56 2305.93 L373.56 2305.87 L374.56 2305.81 L375.56 2305.75 L376.56 2305.69 L377.56 2305.63 L378.56 2305.56 L379.56 2305.5 L380.56 2305.44 L381.56 2305.38 L382.56 2305.32 L383.56 2305.26 L384.56 2305.2 L385.56 2305.14 L386.56 2305.09 L387.56 2305.03 L388.56 2304.97 L389.56 2304.91 L390.56 2304.85 L391.56 2304.79 L392.56 2304.73 L393.56 2304.67 L394.56 2304.61 L395.56 2304.55 L396.56 2304.49 L397.56 2304.43 L398.56 2304.37 L399.56 2304.31 L400.56 2304.25 L401.56 2304.19 L402.56 2304.13 L403.56 2304.07 L404.56 2304.01 L405.56 2303.95 L406.56 2303.9 L407.56 2303.84 L408.56 2303.78 L409.56 2303.72 L410.56 2303.66 L411.56 2303.6 L412.56 2303.54 L413.56 2303.49 L414.56 2303.43 L415.56 2303.37 L416.56 2303.31 L417.56 2303.26 L418.56 2303.2 L419.56 2303.15 L420.56 2303.09 L421.56 2303.04 L422.56 2302.98 L423.56 2302.93 L424.56 2302.87 L425.56 2302.82 L426.56 2302.77 L427.56 2302.72 L428.56 2302.67 L429.56 2302.61 L430.56 2302.56 L431.56 2302.51 L432.56 2302.47 L433.56 2302.42 L434.56 2302.37 L435.56 2302.32 L436.56 2302.28 L437.56 2302.23 L438.56 2302.19 L439.56 2302.14 L440.56 2302.1 L441.56 2302.06 L442.56 2302.01 L443.56 2301.97 L444.56 2301.93 L445.56 2301.89 L446.56 2301.85 L447.56 2301.8 L448.56 2301.76 L449.56 2301.72 L450.56 2301.67 L451.56 2301.63 L452.56 2301.58 L453.56 2301.54 L454.56 2301.5 L455.56 2301.45 L456.56 2301.41 L457.56 2301.36 L458.56 2301.32 L459.56 2301.27 L460.56 2301.23 L461.56 2301.19 L462.56 2301.14 L463.56 2301.1 L464.56 2301.06 L465.56 2301.01 L466.56 2300.97 L467.56 2300.93 L468.56 2300.89 L469.56 2300.85 L470.56 2300.81 L471.56 2300.77 L472.56 2300.74 L473.56 2300.7 L474.56 2300.67 L475.56 2300.63 L476.56 2300.6 L477.56 2300.56 L478.56 2300.53 L479.56 2300.5 L480.56 2300.47 L481.56 2300.45 L482.56 2300.42 L483.56 2300.39 L484.56 2300.37 L485.56 2300.35 L486.56 2300.33 L487.56 2300.31 L488.56 2300.29 L489.56 2300.28 L490.56 2300.26 L491.56 2300.25 L492.56 2300.24 L493.56 2300.23 L494.56 2300.22 L495.56 2300.22 L496.56 2300.22 L497.56 2300.22 L498.56 2300.22 L499.56 2300.22 L500.56 2300.22 L501.56 2300.22 L502.56 2300.22 L503.56 2300.22 L504.56 2300.22 L505.56 2300.22 L506.56 2300.22 L507.56 2300.22 L508.56 2300.22 L509.56 2300.22 L510.56 2300.22 L511.56 2300.22 L512.56 2300.22 L513.56 2300.22 L514.56 2300.22 L515.56 2300.22 L516.56 2300.22 L517.56 2300.22 L518.56 2300.22 L519.56 2300.22 L520.56 2300.22 L521.56 2300.22 L522.56 2300.22 L523.56 2300.22 L524.56 2300.22 L525.56 2300.22 L526.56 2300.22 L527.56 2300.22 L528.56 2300.22 L529.56 2300.22 L530.56 2300.22 L531.56 2300.22 L532.56 2300.22 L533.56 2300.22 L534.56 2300.22 L535.56 2300.22 L536.56 2300.22 L537.56 2300.22 L538.56 2300.22 L539.56 2300.22 L540.56 2300.22 L541.56 2300.22 L542.56 2300.22 L543.56 2300.22 L544.56 2300.22 L545.56 2300.22 L546.56 2300.22 L547.56 2300.23 L548.56 2300.23 L549.56 2300.24 L550.56 2300.25 L551.56 2300.27 L552.56 2300.28 L553.56 2300.29 L554.56 2300.31 L555.56 2300.33 L556.56 2300.35 L557.56 2300.37 L558.56 2300.39 L559.56 2300.41 L560.56 2300.43 L561.56 2300.46 L562.56 2300.48 L563.56 2300.51 L564.56 2300.54 L565.56 2300.56 L566.56 2300.59 L567.56 2300.62 L568.56 2300.65 L569.56 2300.68 L570.56 2300.71 L571.56 2300.74 L572.56 2300.77 L573.56 2300.8 L574.56 2300.83 L575.56 2300.86 L576.56 2300.89 L577.56 2300.92 L578.56 2300.95 L579.56 2300.98 L580.56 2301.01 L581.56 2301.04 L582.56 2301.06 L583.56 2301.09 L584.56 2301.12 L585.56 2301.15 L586.56 2301.17 L587.56 2301.2 L588.56 2301.22 L589.56 2301.24 L590.56 2301.27 L591.56 2301.29 L592.56 2301.31 L593.56 2301.33 L594.56 2301.35 L595.56 2301.36 L596.56 2301.38 L597.56 2301.39 L598.56 2301.4 L599.56 2301.42 L600.56 2301.43 L601.56 2301.44 L602.56 2301.45 L603.56 2301.46 L604.56 2301.47 L605.56 2301.49 L606.56 2301.5 L607.56 2301.51 L608.56 2301.52 L609.56 2301.53 L610.56 2301.54 L611.56 2301.55 L612.56 2301.57 L613.56 2301.58 L614.56 2301.59 L615.56 2301.6 L616.56 2301.61 L617.56 2301.62 L618.56 2301.63 L619.56 2301.64 L620.56 2301.65 L621.56 2301.66 L622.56 2301.67 L623.56 2301.68 L624.56 2301.69 L625.56 2301.7 L626.56 2301.71 L627.56 2301.72 L628.56 2301.73 L629.56 2301.74 L630.56 2301.75 L631.56 2301.76 L632.56 2301.77 L633.56 2301.78 L634.56 2301.79 L635.56 2301.8 L636.56 2301.81 L637.56 2301.82 L638.56 2301.82 L639.56 2301.83 L640.56 2301.84 L641.56 2301.85 L642.56 2301.86 L643.56 2301.86 L644.56 2301.87 L645.56 2301.88 L646.56 2301.89 L647.56 2301.89 L648.56 2301.9 L649.56 2301.91 L650.56 2301.91 L651.56 2301.92 L652.56 2301.93 L653.56 2301.93 L654.56 2301.94 L655.56 2301.94 L656.56 2301.95 L657.56 2301.95 L658.56 2301.96 L659.56 2301.96 L660.56 2301.97 L661.56 2301.97 L662.56 2301.97 L663.56 2301.98 L664.56 2301.98 L665.56 2301.98 L666.56 2301.99 L667.56 2301.99 L668.56 2301.99 L669.56 2301.99 L670.56 2302 L671.56 2302 L672.56 2302 L673.56 2302 L674.56 2302 L675.56 2302 L676.56 2302 L677.56 2302 L678.56 2302 L679.56 2302 L680.56 2302 L681.56 2302 L682.56 2302 L683.56 2302 L684.56 2302 L685.56 2302 L686.56 2302 L687.56 2302 L688.56 2302 L689.56 2302 L690.56 2302 L691.56 2302 L692.56 2302 L693.56 2302 L694.56 2302 L695.56 2302 L696.56 2302 L697.56 2302 L698.56 2302 L699.56 2302 L700.56 2302 L701.56 2302 L702.56 2302 L703.56 2302 L704.56 2302 L705.56 2302 L706.56 2302 L707.56 2302 L708.56 2302 L709.56 2302 L710.56 2302 L711.56 2302 L712.56 2302 L713.56 2302 L714.56 2302 L715.56 2302 L716.56 2302 L717.56 2302 L718.56 2302 L719.56 2302 L720.56 2302 L721.56 2302 L722.56 2302 L723.56 2302 L724.56 2302 L725.56 2302 L726.56 2302 L727.56 2302 L728.56 2302 L729.56 2302 L730.56 2302 L731.56 2302 L732.56 2302 L733.56 2302 L734.56 2302 L735.56 2302 L736.56 2302 L737.56 2302 L738.56 2302 L739.56 2302 L740.56 2302 L741.56 2302 L742.56 2302 L743.56 2302 L744.56 2302 L745.56 2302 L746.56 2302 L747.56 2302 L748.56 2302 L749.56 2302 L750.56 2302 L751.56 2302 L752.56 2302 L753.56 2302 L754.56 2302 L755.56 2302 L756.56 2302 L757.56 2302 L758.56 2302 L759.56 2302 L760.56 2302 L761.56 2302 L762.56 2302 L763.56 2302 L764.56 2302 L765.56 2302 L766.56 2302 L767.56 2302 L768.56 2302 L769.56 2302 L770.56 2302 L771.56 2302 L772.56 2302 L773.56 2302 L774.56 2302 L775.56 2302 L776.56 2302 L777.56 2302 L778.56 2302 L779.56 2302 L780.56 2302 L781.56 2302 L782.56 2302 L783.56 2302 L784.56 2302 L785.56 2302 L786.56 2302 L787.56 2302 L788.56 2302 L789.56 2302 L790.56 2302 L791.56 2302 L792.56 2302 L793.56 2302 L794.56 2302 L795.56 2302 L796.56 2302 L797.56 2302 L798.56 2302 L799.56 2302 L800.56 2302 L801.56 2302 L802.56 2302 L803.56 2302 L804.56 2302 L805.56 2302 L806.56 2302 L807.56 2302 L808.56 2302 L809.56 2302 L810.56 2302 L811.56 2302 L812.56 2302 L813.56 2302 L814.56 2302 L815.56 2302 L816.56 2302 L817.56 2302 L818.56 2302 L819.56 2302 L820.56 2302 L821.56 2302 L822.56 2302 L823.56 2302 L824.56 2302 L825.56 2302 L826.56 2302 L827.56 2302 L828.56 2302 L829.56 2302 L830.56 2302 L831.56 2302 L832.56 2302 L833.56 2302 L834.56 2302 L835.56 2302 L836.56 2302 L837.56 2302 L838.56 2302 L839.56 2302 L840.56 2302 L841.56 2302 L842.56 2302 L843.56 2302 L844.56 2302 L845.56 2302 L846.56 2302 L847.56 2302 L848.56 2302 L849.56 2302 L850.56 2302 L851.56 2302 L852.56 2302 L853.56 2302 L854.56 2302 L855.56 2302 L856.56 2302 L857.56 2302 L858.56 2302 L859.56 2302 L860.56 2302 L861.56 2302 L862.56 2302 L863.56 2302 L864.56 2302 L865.56 2302 L866.56 2302 L867.56 2302 L868.56 2302 L869.56 2302 L870.56 2302 L871.56 2302 L872.56 2302 L873.56 2302 L874.56 2302 L875.56 2302 L876.56 2302 L877.56 2302 L878.56 2302 L879.56 2302 L880.56 2302 L881.56 2302 L882.56 2302 L883.56 2302 L884.56 2302 L885.56 2302 L886.56 2302 L887.56 2302 L888.56 2302 L889.56 2302 L890.56 2302 L891.56 2302 L892.56 2302 L893.56 2302 L894.56 2302 L895.56 2302 L896.56 2302 L897.56 2302 L898.56 2302 L899.56 2302 L900.56 2302 L901.56 2302 L902.56 2302 L903.56 2302 L904.56 2302 L905.56 2302 L906.56 2302 L907.56 2302 L908.56 2302 L909.56 2302 L910.56 2302 L911.56 2302 L912.56 2302 L913.56 2302 L914.56 2302 L915.56 2302 L916.56 2302 L917.56 2302 L918.56 2302 L919.56 2302 L920.56 2302 L921.56 2302 L922.56 2302 L923.56 2302 L924.56 2302 L925.56 2302 L926.56 2302 L927.56 2302 L928.56 2302 L929.56 2302 L930.56 2302 L931.56 2302 L932.56 2302 L933.56 2302 L934.56 2302 L935.56 2302 L936.56 2302 L937.56 2302 L938.56 2302 L939.56 2302 L940.56 2302 L941.56 2302 L942.56 2302 L943.56 2302 L944.56 2302 L945.56 2302 L946.56 2302 L947.56 2302 L948.56 2302 L949.56 2302 L950.56 2302 L951.56 2302 L952.56 2302 L953.56 2302 L954.56 2302 L955.56 2302 L956.56 2302 L957.56 2302 L958.56 2302 L959.56 2302 L960.56 2302 L961.56 2302 L962.56 2302 L963.56 2302 L964.56 2302 L965.56 2302 L966.56 2302 L967.56 2302 L968.56 2302 L969.56 2302 L970.56 2302 L971.56 2302 L972.56 2302 L973.56 2302 L974.56 2302 L975.56 2302 L976.56 2302 L977.56 2302 L978.56 2302 L979.56 2302 L980.56 2302 L981.56 2302 L982.56 2302 L983.56 2302 L984.56 2302 L985.56 2302 L986.56 2302 L987.56 2302 L988.56 2302 L989.56 2302 L990.56 2302 L991.56 2302 L992.56 2302 L993.56 2302 L994.56 2302 L995.56 2302 L996.56 2302 L997.56 2302 L998.56 2302 L999.56 2302 L1000.56 2302 L1001.56 2302 L1002.56 2302 L1003.56 2302 L1004.56 2302 L1005.56 2302 L1006.56 2302 L1007.56 2302 L1008.56 2302 L1009.56 2302 L1010.56 2302 L1011.56 2302 L1012.56 2302 L1013.56 2302 L1014.56 2302 L1015.56 2302 L1016.56 2302 L1017.56 2302 L1018.56 2302 L1019.56 2302 L1020.56 2302 L1021.56 2302 L1022.56 2302 L1023.56 2302 L1024.56 2302 L1025.56 2302 L1026.56 2302 L1027.56 2302 L1028.56 2302 L1029.56 2302 L1030.56 2302 L1031.56 2302 L1032.56 2302 L1033.56 2302 L1034.56 2302 L1035.56 2302 L1036.56 2302 L1037.56 2302 L1038.56 2302 L1039.56 2302 L1040.56 2302 L1041.56 2302 L1042.56 2302 L1043.56 2302 L1044.56 2302 L1045.56 2302 L1046.56 2302 L1047.56 2302 L1048.56 2302 L1049.56 2302 L1050.56 2302 L1051.56 2302 L1052.56 2302 L1053.56 2302 L1054.56 2302 L1055.56 2302 L1056.56 2302 L1057.56 2302 L1058.56 2302 L1059.56 2302 L1060.56 2302 L1061.56 2302 L1062.56 2302 L1063.56 2302 L1064.56 2302 L1065.56 2302 L1066.56 2302 L1067.56 2302 L1068.56 2302 L1069.56 2302 L1070.56 2302 L1071.56 2302 L1072.56 2302 L1073.56 2302 L1074.56 2302 L1075.56 2302 L1076.56 2302 L1077.56 2302 L1078.56 2302 L1079.56 2302 L1080.56 2302 L1081.56 2302 L1082.56 2302 L1083.56 2302 L1084.56 2302 L1085.56 2302 L1086.56 2302 L1087.56 2302 L1088.56 2302 L1089.56 2302 L1090.56 2302 L1091.56 2302 L1092.56 2302 L1093.56 2302 L1094.56 2302 L1095.56 2302 L1096.56 2302 L1097.56 2302 L1098.56 2302 L1099.56 2302 L1100.56 2302 L1101.56 2302 L1102.56 2302 L1103.56 2302 L1104.5 2302" fill="none" stroke="#0072bd" stroke-width="5.2" stroke-linecap="butt" stroke-linejoin="round"/>
<path d="M171.28 2313.9 L171.43 2282.96 L175.56 2284.15 L176.56 2285.6 L177.56 2287.12 L178.56 2288.71 L179.56 2290.39 L180.56 2292.14 L181.56 2293.97 L182.56 2295.94 L183.56 2298.05 L184.56 2300.26 L185.56 2302.56 L186.56 2304.9 L187.56 2307.27 L188.56 2309.63 L189.56 2311.95 L190.56 2314.21 L191.56 2316.37 L192.56 2318.48 L193.56 2320.57 L194.56 2322.65 L195.56 2324.71 L196.56 2326.74 L197.56 2328.74 L198.56 2330.71 L199.56 2332.64 L200.56 2334.53 L201.56 2336.38 L202.56 2338.22 L203.56 2340.12 L204.56 2342.04 L205.56 2343.96 L206.56 2345.85 L207.56 2347.69 L208.56 2349.45 L209.56 2351.1 L210.56 2352.61 L211.56 2353.96 L212.56 2355.12 L213.56 2356.07 L214.56 2356.97 L215.56 2357.85 L216.56 2358.69 L217.56 2359.45 L218.56 2360.12 L219.56 2360.65 L220.56 2361.02 L221.56 2361.19 L222.56 2361.17 L223.56 2360.99 L224.56 2360.71 L225.56 2360.33 L226.56 2359.88 L227.56 2359.39 L228.56 2358.86 L229.56 2358.14 L230.56 2357.23 L231.56 2356.17 L232.56 2355 L233.56 2353.75 L234.56 2352.35 L235.56 2350.75 L236.56 2348.97 L237.56 2347.03 L238.56 2344.97 L239.56 2342.81 L240.56 2340.59 L241.56 2338.33 L242.56 2336.06 L243.56 2333.77 L244.56 2331.37 L245.56 2328.87 L246.56 2326.28 L247.56 2323.61 L248.56 2320.89 L249.56 2318.11 L250.56 2315.31 L251.56 2312.48 L252.56 2309.59 L253.56 2306.66 L254.56 2303.65 L255.56 2300.58 L256.56 2297.44 L257.56 2294.23 L258.56 2290.93 L259.56 2287.52 L260.56 2283.98 L261.56 2280.35 L262.56 2276.65 L263.56 2272.9 L264.56 2269.13 L265.56 2265.35 L266.56 2261.53 L267.56 2257.67 L268.56 2253.76 L269.56 2249.77 L270.56 2245.71 L271.56 2241.54 L272.56 2237.24 L273.56 2232.84 L274.56 2228.4 L275.56 2223.97 L276.56 2219.59 L277.56 2215.23 L278.56 2210.88 L279.56 2206.55 L280.56 2202.24 L281.56 2197.99 L282.56 2193.85 L283.56 2189.74 L284.56 2185.57 L285.56 2181.22 L286.56 2176.61 L287.56 2171.75 L288.56 2166.75 L289.56 2161.71 L290.56 2156.74 L291.56 2151.94 L292.56 2147.36 L293.56 2142.85 L294.56 2138.42 L295.56 2134.09 L296.56 2129.88 L297.56 2125.81 L298.56 2121.9 L299.56 2118.06 L300.56 2114.34 L301.56 2110.83 L302.56 2107.61 L303.56 2104.68 L304.56 2101.86 L305.56 2099.16 L306.56 2096.6 L307.56 2094.17 L308.56 2091.9 L309.56 2089.8 L310.56 2087.87 L311.56 2086.08 L312.56 2084.36 L313.56 2082.72 L314.56 2081.18 L315.56 2079.76 L316.56 2078.47 L317.56 2077.32 L318.56 2076.33 L319.56 2075.42 L320.56 2074.56 L321.56 2073.76 L322.56 2073.02 L323.56 2072.37 L324.56 2071.81 L325.56 2071.36 L326.56 2071.01 L327.56 2070.7 L328.56 2070.41 L329.56 2070.18 L330.56 2070.01 L331.56 2069.95 L332.56 2069.99 L333.56 2070.12 L334.56 2070.32 L335.56 2070.58 L336.56 2070.9 L337.56 2071.26 L338.56 2071.65 L339.56 2072.07 L340.56 2072.51 L341.56 2073.08 L342.56 2073.81 L343.56 2074.66 L344.56 2075.61 L345.56 2076.63 L346.56 2077.7 L347.56 2078.79 L348.56 2079.87 L349.56 2080.96 L350.56 2082.1 L351.56 2083.3 L352.56 2084.55 L353.56 2085.84 L354.56 2087.17 L355.56 2088.54 L356.56 2089.94 L357.56 2091.37 L358.56 2092.82 L359.56 2094.29 L360.56 2095.78 L361.56 2097.28 L362.56 2098.82 L363.56 2100.42 L364.56 2102.06 L365.56 2103.74 L366.56 2105.45 L367.56 2107.18 L368.56 2108.94 L369.56 2110.72 L370.56 2112.51 L371.56 2114.3 L372.56 2116.09 L373.56 2117.88 L374.56 2119.66 L375.56 2121.42 L376.56 2123.16 L377.56 2124.88 L378.56 2126.62 L379.56 2128.36 L380.56 2130.11 L381.56 2131.86 L382.56 2133.61 L383.56 2135.37 L384.56 2137.11 L385.56 2138.86 L386.56 2140.59 L387.56 2142.31 L388.56 2144.02 L389.56 2145.71 L390.56 2147.38 L391.56 2149.03 L392.56 2150.65 L393.56 2152.28 L394.56 2153.9 L395.56 2155.52 L396.56 2157.13 L397.56 2158.74 L398.56 2160.33 L399.56 2161.91 L400.56 2163.48 L401.56 2165.02 L402.56 2166.53 L403.56 2168.02 L404.56 2169.48 L405.56 2170.9 L406.56 2172.29 L407.56 2173.64 L408.56 2174.95 L409.56 2176.24 L410.56 2177.52 L411.56 2178.78 L412.56 2180.03 L413.56 2181.25 L414.56 2182.45 L415.56 2183.63 L416.56 2184.78 L417.56 2185.91 L418.56 2187.01 L419.56 2188.08 L420.56 2189.11 L421.56 2190.12 L422.56 2191.09 L423.56 2192.02 L424.56 2192.93 L425.56 2193.83 L426.56 2194.73 L427.56 2195.6 L428.56 2196.46 L429.56 2197.3 L430.56 2198.12 L431.56 2198.92 L432.56 2199.69 L433.56 2200.42 L434.56 2201.13 L435.56 2201.8 L436.56 2202.44 L437.56 2203.03 L438.56 2203.58 L439.56 2204.1 L440.56 2204.6 L441.56 2205.09 L442.56 2205.56 L443.56 2206.03 L444.56 2206.48 L445.56 2206.91 L446.56 2207.32 L447.56 2207.72 L448.56 2208.09 L449.56 2208.44 L450.56 2208.76 L451.56 2209.06 L452.56 2209.32 L453.56 2209.56 L454.56 2209.77 L455.56 2209.96 L456.56 2210.15 L457.56 2210.33 L458.56 2210.51 L459.56 2210.68 L460.56 2210.84 L461.56 2210.99 L462.56 2211.13 L463.56 2211.25 L464.56 2211.36 L465.56 2211.44 L466.56 2211.51 L467.56 2211.55 L468.56 2211.56 L469.56 2211.55 L470.56 2211.52 L471.56 2211.46 L472.56 2211.39 L473.56 2211.3 L474.56 2211.2 L475.56 2211.08 L476.56 2210.96 L477.56 2210.82 L478.56 2210.67 L479.56 2210.52 L480.56 2210.36 L481.56 2210.2 L482.56 2210.04 L483.56 2209.87 L484.56 2209.71 L485.56 2209.53 L486.56 2209.33 L487.56 2209.11 L488.56 2208.88 L489.56 2208.63 L490.56 2208.36 L491.56 2208.08 L492.56 2207.79 L493.56 2207.5 L494.56 2207.19 L495.56 2206.87 L496.56 2206.56 L497.56 2206.23 L498.56 2205.91 L499.56 2205.59 L500.56 2205.26 L501.56 2204.94 L502.56 2204.62 L503.56 2204.31 L504.56 2204.01 L505.56 2203.71 L506.56 2203.41 L507.56 2203.11 L508.56 2202.8 L509.56 2202.49 L510.56 2202.17 L511.56 2201.85 L512.56 2201.52 L513.56 2201.2 L514.56 2200.88 L515.56 2200.55 L516.56 2200.23 L517.56 2199.91 L518.56 2199.59 L519.56 2199.27 L520.56 2198.96 L521.56 2198.65 L522.56 2198.35 L523.56 2198.05 L524.56 2197.76 L525.56 2197.48 L526.56 2197.2 L527.56 2196.93 L528.56 2196.68 L529.56 2196.43 L530.56 2196.18 L531.56 2195.93 L532.56 2195.68 L533.56 2195.43 L534.56 2195.18 L535.56 2194.94 L536.56 2194.69 L537.56 2194.45 L538.56 2194.22 L539.56 2193.98 L540.56 2193.75 L541.56 2193.52 L542.56 2193.29 L543.56 2193.06 L544.56 2192.85 L545.56 2192.63 L546.56 2192.42 L547.56 2192.21 L548.56 2192.01 L549.56 2191.81 L550.56 2191.62 L551.56 2191.43 L552.56 2191.25 L553.56 2191.07 L554.56 2190.9 L555.56 2190.74 L556.56 2190.58 L557.56 2190.43 L558.56 2190.29 L559.56 2190.15 L560.56 2190.02 L561.56 2189.89 L562.56 2189.76 L563.56 2189.62 L564.56 2189.49 L565.56 2189.35 L566.56 2189.22 L567.56 2189.09 L568.56 2188.95 L569.56 2188.82 L570.56 2188.7 L571.56 2188.57 L572.56 2188.45 L573.56 2188.33 L574.56 2188.22 L575.56 2188.11 L576.56 2188 L577.56 2187.9 L578.56 2187.8 L579.56 2187.71 L580.56 2187.62 L581.56 2187.54 L582.56 2187.47 L583.56 2187.4 L584.56 2187.34 L585.56 2187.29 L586.56 2187.25 L587.56 2187.22 L588.56 2187.19 L589.56 2187.17 L590.56 2187.17 L591.56 2187.16 L592.56 2187.16 L593.56 2187.16 L594.56 2187.16 L595.56 2187.16 L596.56 2187.16 L597.56 2187.16 L598.56 2187.16 L599.56 2187.16 L600.56 2187.16 L601.56 2187.16 L602.56 2187.16 L603.56 2187.16 L604.56 2187.16 L605.56 2187.16 L606.56 2187.16 L607.56 2187.16 L608.56 2187.16 L609.56 2187.16 L610.56 2187.16 L611.56 2187.16 L612.56 2187.16 L613.56 2187.16 L614.56 2187.16 L615.56 2187.16 L616.56 2187.16 L617.56 2187.16 L618.56 2187.16 L619.56 2187.16 L620.56 2187.16 L621.56 2187.16 L622.56 2187.17 L623.56 2187.17 L624.56 2187.18 L625.56 2187.19 L626.56 2187.2 L627.56 2187.22 L628.56 2187.24 L629.56 2187.26 L630.56 2187.28 L631.56 2187.31 L632.56 2187.34 L633.56 2187.37 L634.56 2187.4 L635.56 2187.44 L636.56 2187.48 L637.56 2187.52 L638.56 2187.56 L639.56 2187.6 L640.56 2187.64 L641.56 2187.69 L642.56 2187.73 L643.56 2187.78 L644.56 2187.83 L645.56 2187.88 L646.56 2187.93 L647.56 2187.98 L648.56 2188.03 L649.56 2188.08 L650.56 2188.13 L651.56 2188.18 L652.56 2188.23 L653.56 2188.28 L654.56 2188.33 L655.56 2188.39 L656.56 2188.43 L657.56 2188.48 L658.56 2188.53 L659.56 2188.58 L660.56 2188.63 L661.56 2188.67 L662.56 2188.72 L663.56 2188.76 L664.56 2188.8 L665.56 2188.84 L666.56 2188.88 L667.56 2188.91 L668.56 2188.95 L669.56 2188.98 L670.56 2189.01 L671.56 2189.05 L672.56 2189.08 L673.56 2189.12 L674.56 2189.16 L675.56 2189.19 L676.56 2189.23 L677.56 2189.27 L678.56 2189.3 L679.56 2189.34 L680.56 2189.38 L681.56 2189.42 L682.56 2189.45 L683.56 2189.49 L684.56 2189.53 L685.56 2189.57 L686.56 2189.61 L687.56 2189.65 L688.56 2189.69 L689.56 2189.72 L690.56 2189.76 L691.56 2189.8 L692.56 2189.84 L693.56 2189.87 L694.56 2189.91 L695.56 2189.95 L696.56 2189.99 L697.56 2190.02 L698.56 2190.06 L699.56 2190.09 L700.56 2190.13 L701.56 2190.16 L702.56 2190.19 L703.56 2190.23 L704.56 2190.26 L705.56 2190.29 L706.56 2190.32 L707.56 2190.35 L708.56 2190.38 L709.56 2190.41 L710.56 2190.44 L711.56 2190.46 L712.56 2190.49 L713.56 2190.51 L714.56 2190.54 L715.56 2190.56 L716.56 2190.58 L717.56 2190.6 L718.56 2190.62 L719.56 2190.63 L720.56 2190.65 L721.56 2190.67 L722.56 2190.68 L723.56 2190.69 L724.56 2190.7 L725.56 2190.71 L726.56 2190.72 L727.56 2190.73 L728.56 2190.73 L729.56 2190.73 L730.56 2190.73 L731.56 2190.74 L732.56 2190.74 L733.56 2190.74 L734.56 2190.74 L735.56 2190.74 L736.56 2190.74 L737.56 2190.74 L738.56 2190.74 L739.56 2190.74 L740.56 2190.74 L741.56 2190.74 L742.56 2190.74 L743.56 2190.74 L744.56 2190.74 L745.56 2190.74 L746.56 2190.74 L747.56 2190.74 L748.56 2190.74 L749.56 2190.74 L750.56 2190.74 L751.56 2190.74 L752.56 2190.74 L753.56 2190.74 L754.56 2190.74 L755.56 2190.74 L756.56 2190.74 L757.56 2190.74 L758.56 2190.74 L759.56 2190.74 L760.56 2190.74 L761.56 2190.74 L762.56 2190.74 L763.56 2190.74 L764.56 2190.74 L765.56 2190.74 L766.56 2190.74 L767.56 2190.74 L768.56 2190.74 L769.56 2190.74 L770.56 2190.74 L771.56 2190.74 L772.56 2190.74 L773.56 2190.74 L774.56 2190.74 L775.56 2190.74 L776.56 2190.74 L777.56 2190.74 L778.56 2190.74 L779.56 2190.74 L780.56 2190.74 L781.56 2190.74 L782.56 2190.74 L783.56 2190.74 L784.56 2190.74 L785.56 2190.74 L786.56 2190.74 L787.56 2190.74 L788.56 2190.74 L789.56 2190.74 L790.56 2190.74 L791.56 2190.74 L792.56 2190.74 L793.56 2190.74 L794.56 2190.74 L795.56 2190.74 L796.56 2190.74 L797.56 2190.74 L798.56 2190.74 L799.56 2190.74 L800.56 2190.74 L801.56 2190.74 L802.56 2190.74 L803.56 2190.74 L804.56 2190.74 L805.56 2190.74 L806.56 2190.74 L807.56 2190.74 L808.56 2190.74 L809.56 2190.74 L810.56 2190.74 L811.56 2190.74 L812.56 2190.74 L813.56 2190.74 L814.56 2190.74 L815.56 2190.74 L816.56 2190.74 L817.56 2190.74 L818.56 2190.74 L819.56 2190.74 L820.56 2190.74 L821.56 2190.74 L822.56 2190.74 L823.56 2190.74 L824.56 2190.74 L825.56 2190.74 L826.56 2190.74 L827.56 2190.74 L828.56 2190.74 L829.56 2190.74 L830.56 2190.74 L831.56 2190.74 L832.56 2190.74 L833.56 2190.74 L834.56 2190.74 L835.56 2190.74 L836.56 2190.74 L837.56 2190.74 L838.56 2190.74 L839.56 2190.74 L840.56 2190.74 L841.56 2190.74 L842.56 2190.74 L843.56 2190.74 L844.56 2190.74 L845.56 2190.74 L846.56 2190.74 L847.56 2190.74 L848.56 2190.74 L849.56 2190.74 L850.56 2190.74 L851.56 2190.74 L852.56 2190.74 L853.56 2190.74 L854.56 2190.74 L855.56 2190.74 L856.56 2190.74 L857.56 2190.74 L858.56 2190.74 L859.56 2190.74 L860.56 2190.74 L861.56 2190.74 L862.56 2190.74 L863.56 2190.74 L864.56 2190.74 L865.56 2190.74 L866.56 2190.74 L867.56 2190.74 L868.56 2190.74 L869.56 2190.74 L870.56 2190.74 L871.56 2190.74 L872.56 2190.74 L873.56 2190.74 L874.56 2190.74 L875.56 2190.74 L876.56 2190.74 L877.56 2190.74 L878.56 2190.74 L879.56 2190.74 L880.56 2190.74 L881.56 2190.74 L882.56 2190.74 L883.56 2190.74 L884.56 2190.74 L885.56 2190.74 L886.56 2190.74 L887.56 2190.74 L888.56 2190.74 L889.56 2190.74 L890.56 2190.74 L891.56 2190.74 L892.56 2190.74 L893.56 2190.74 L894.56 2190.74 L895.56 2190.74 L896.56 2190.74 L897.56 2190.74 L898.56 2190.74 L899.56 2190.74 L900.56 2190.74 L901.56 2190.74 L902.56 2190.74 L903.56 2190.74 L904.56 2190.74 L905.56 2190.74 L906.56 2190.74 L907.56 2190.74 L908.56 2190.74 L909.56 2190.74 L910.56 2190.74 L911.56 2190.74 L912.56 2190.74 L913.56 2190.74 L914.56 2190.74 L915.56 2190.74 L916.56 2190.74 L917.56 2190.74 L918.56 2190.74 L919.56 2190.74 L920.56 2190.74 L921.56 2190.74 L922.56 2190.74 L923.56 2190.74 L924.56 2190.74 L925.56 2190.74 L926.56 2190.74 L927.56 2190.74 L928.56 2190.74 L929.56 2190.74 L930.56 2190.74 L931.56 2190.74 L932.56 2190.74 L933.56 2190.74 L934.56 2190.74 L935.56 2190.74 L936.56 2190.74 L937.56 2190.74 L938.56 2190.74 L939.56 2190.74 L940.56 2190.74 L941.56 2190.74 L942.56 2190.74 L943.56 2190.74 L944.56 2190.74 L945.56 2190.74 L946.56 2190.74 L947.56 2190.74 L948.56 2190.74 L949.56 2190.74 L950.56 2190.74 L951.56 2190.74 L952.56 2190.74 L953.56 2190.74 L954.56 2190.74 L955.56 2190.74 L956.56 2190.74 L957.56 2190.74 L958.56 2190.74 L959.56 2190.74 L960.56 2190.74 L961.56 2190.74 L962.56 2190.74 L963.56 2190.74 L964.56 2190.74 L965.56 2190.74 L966.56 2190.74 L967.56 2190.74 L968.56 2190.74 L969.56 2190.74 L970.56 2190.74 L971.56 2190.74 L972.56 2190.74 L973.56 2190.74 L974.56 2190.74 L975.56 2190.74 L976.56 2190.74 L977.56 2190.74 L978.56 2190.74 L979.56 2190.74 L980.56 2190.74 L981.56 2190.74 L982.56 2190.74 L983.56 2190.74 L984.56 2190.74 L985.56 2190.74 L986.56 2190.74 L987.56 2190.74 L988.56 2190.74 L989.56 2190.74 L990.56 2190.74 L991.56 2190.74 L992.56 2190.74 L993.56 2190.74 L994.56 2190.74 L995.56 2190.74 L996.56 2190.74 L997.56 2190.74 L998.56 2190.74 L999.56 2190.74 L1000.56 2190.74 L1001.56 2190.74 L1002.56 2190.74 L1003.56 2190.74 L1004.56 2190.74 L1005.56 2190.74 L1006.56 2190.74 L1007.56 2190.74 L1008.56 2190.74 L1009.56 2190.74 L1010.56 2190.74 L1011.56 2190.74 L1012.56 2190.74 L1013.56 2190.74 L1014.56 2190.74 L1015.56 2190.74 L1016.56 2190.74 L1017.56 2190.74 L1018.56 2190.74 L1019.56 2190.74 L1020.56 2190.74 L1021.56 2190.74 L1022.56 2190.74 L1023.56 2190.74 L1024.56 2190.74 L1025.56 2190.74 L1026.56 2190.74 L1027.56 2190.74 L1028.56 2190.74 L1029.56 2190.74 L1030.56 2190.74 L1031.56 2190.74 L1032.56 2190.74 L1033.56 2190.74 L1034.56 2190.74 L1035.56 2190.74 L1036.56 2190.74 L1037.56 2190.74 L1038.56 2190.74 L1039.56 2190.74 L1040.56 2190.74 L1041.56 2190.74 L1042.56 2190.74 L1043.56 2190.74 L1044.56 2190.74 L1045.56 2190.74 L1046.56 2190.74 L1047.56 2190.74 L1048.56 2190.74 L1049.56 2190.74 L1050.56 2190.74 L1051.56 2190.74 L1052.56 2190.74 L1053.56 2190.74 L1054.56 2190.74 L1055.56 2190.74 L1056.56 2190.74 L1057.56 2190.74 L1058.56 2190.74 L1059.56 2190.74 L1060.56 2190.74 L1061.56 2190.74 L1062.56 2190.74 L1063.56 2190.74 L1064.56 2190.74 L1065.56 2190.74 L1066.56 2190.74 L1067.56 2190.74 L1068.56 2190.74 L1069.56 2190.74 L1070.56 2190.74 L1071.56 2190.74 L1072.56 2190.74 L1073.56 2190.74 L1074.56 2190.74 L1075.56 2190.74 L1076.56 2190.74 L1077.56 2190.74 L1078.56 2190.74 L1079.56 2190.74 L1080.56 2190.74 L1081.56 2190.74 L1082.56 2190.74 L1083.56 2190.74 L1084.56 2190.74 L1085.56 2190.74 L1086.56 2190.74 L1087.56 2190.74 L1088.56 2190.74 L1089.56 2190.74 L1090.56 2190.74 L1091.56 2190.74 L1092.56 2190.74 L1093.56 2190.74 L1094.56 2190.74 L1095.56 2190.74 L1096.56 2190.74 L1097.56 2190.74 L1098.56 2190.74 L1099.56 2190.74 L1100.56 2190.74 L1101.56 2190.74 L1102.56 2190.74 L1103.56 2190.74 L1104.5 2190.74" fill="none" stroke="#d95319" stroke-width="5.2" stroke-linecap="butt" stroke-linejoin="round" stroke-dasharray="13 10.5"/>
<path d="M170.5 2361.5 L174.39 2359.72 L177.5 2358.53 L182.18 2359.72 L193.85 2361.2 L1104.5 2361.38" fill="none" stroke="#007f00" stroke-width="5.2" stroke-linecap="butt" stroke-linejoin="round" stroke-dasharray="13 2.7 5.6 2.7"/>
<path d="M171.67 2361.5 L172.06 2302 L173.77 1945 L174.78 1903.35 L175.56 1895.62 L176.34 1897.1 L177.12 1899.15 L177.89 1901.61 L178.67 1905.23 L179.45 1909.86 L180.23 1915.17 L181.01 1920.82 L181.79 1926.49 L182.56 1931.98 L183.34 1937.65 L184.12 1943.54 L184.9 1949.62 L185.68 1955.86 L186.46 1962.23 L187.23 1968.69 L188.01 1975.21 L188.79 1981.76 L189.57 1988.3 L190.35 1994.83 L191.13 2001.39 L191.9 2008 L192.68 2014.67 L193.46 2021.4 L194.24 2028.15 L195.02 2034.92 L195.8 2041.67 L196.57 2048.4 L197.35 2055.07 L198.13 2061.68 L198.91 2068.26 L199.69 2074.83 L200.47 2081.38 L201.24 2087.9 L202.02 2094.4 L202.8 2100.91 L203.58 2107.45 L204.36 2113.98 L205.14 2120.5 L205.91 2126.99 L206.69 2133.49 L207.47 2139.98 L208.25 2146.42 L209.03 2152.78 L209.81 2159.04 L210.58 2165.16 L211.36 2171.12 L212.14 2176.88 L212.92 2182.41 L213.7 2187.72 L214.48 2193.01 L215.25 2198.26 L216.03 2203.45 L216.81 2208.54 L217.59 2213.5 L218.37 2218.28 L219.15 2222.87 L219.92 2227.21 L220.7 2231.29 L221.48 2235.07 L222.26 2238.63 L223.04 2242.02 L223.82 2245.23 L224.59 2248.28 L225.37 2251.18 L226.15 2253.91 L226.93 2256.5 L227.71 2258.94 L228.49 2261.22 L229.26 2263.25 L230.04 2265.09 L230.82 2266.75 L231.6 2268.25 L232.38 2269.6 L233.16 2270.81 L233.93 2271.87 L234.71 2272.72 L235.49 2273.32 L236.27 2273.7 L237.05 2273.88 L237.83 2273.91 L238.6 2273.83 L239.38 2273.63 L240.16 2273.32 L240.94 2272.91 L241.72 2272.4 L242.5 2271.81 L243.27 2271.12 L244.05 2270.27 L244.83 2269.25 L245.61 2268.14 L246.39 2266.94 L247.17 2265.65 L247.94 2264.27 L248.72 2262.82 L249.5 2261.28 L250.28 2259.66 L251.06 2257.96 L251.84 2256.16 L252.61 2254.27 L253.39 2252.31 L254.17 2250.3 L254.95 2248.22 L255.73 2246.08 L256.51 2243.87 L257.28 2241.59 L258.06 2239.24 L258.84 2236.82 L259.62 2234.29 L260.4 2231.67 L261.18 2228.97 L261.95 2226.23 L262.73 2223.43 L263.51 2220.61 L264.29 2217.77 L265.07 2214.92 L265.85 2212.05 L266.62 2209.15 L267.4 2206.21 L268.18 2203.24 L268.96 2200.23 L269.74 2197.17 L270.52 2194.05 L271.29 2190.87 L272.07 2187.61 L272.85 2184.26 L273.63 2180.88 L274.41 2177.46 L275.19 2174.05 L275.96 2170.66 L276.74 2167.31 L277.52 2163.95 L278.3 2160.6 L279.08 2157.26 L279.86 2153.93 L280.63 2150.61 L281.41 2147.33 L282.19 2144.11 L282.97 2140.94 L283.75 2137.75 L284.53 2134.51 L285.3 2131.17 L286.08 2127.67 L286.86 2123.99 L287.64 2120.18 L288.42 2116.29 L289.2 2112.37 L289.97 2108.46 L290.75 2104.63 L291.53 2100.91 L292.31 2097.33 L293.09 2093.8 L293.87 2090.32 L294.64 2086.88 L295.42 2083.5 L296.2 2080.2 L296.98 2076.98 L297.76 2073.85 L298.54 2070.82 L299.31 2067.82 L300.09 2064.89 L300.87 2062.05 L301.65 2059.36 L302.43 2056.85 L303.21 2054.53 L303.98 2052.3 L304.76 2050.13 L305.54 2048.04 L306.32 2046.03 L307.1 2044.1 L307.88 2042.27 L308.65 2040.52 L309.43 2038.89 L310.21 2037.35 L310.99 2035.92 L311.77 2034.54 L312.55 2033.19 L313.32 2031.89 L314.1 2030.64 L314.88 2029.45 L315.66 2028.34 L316.44 2027.29 L317.22 2026.33 L317.99 2025.46 L318.77 2024.67 L319.55 2023.91 L320.33 2023.18 L321.11 2022.47 L321.89 2021.81 L322.66 2021.18 L323.44 2020.61 L324.22 2020.08 L325 2019.62 L325.78 2019.22 L326.56 2018.89 L327.33 2018.56 L328.11 2018.25 L328.89 2017.97 L329.67 2017.71 L330.45 2017.51 L331.23 2017.36 L332 2017.28 L332.78 2017.26 L333.56 2017.28 L334.34 2017.36 L335.12 2017.47 L335.9 2017.62 L336.67 2017.81 L337.45 2018.02 L338.23 2018.25 L339.01 2018.5 L339.79 2018.76 L340.57 2019.04 L341.34 2019.42 L342.12 2019.9 L342.9 2020.46 L343.68 2021.09 L344.46 2021.77 L345.24 2022.5 L346.01 2023.27 L346.79 2024.06 L347.57 2024.85 L348.35 2025.64 L349.13 2026.43 L349.91 2027.24 L350.68 2028.09 L351.46 2028.97 L352.24 2029.88 L353.02 2030.82 L353.8 2031.78 L354.58 2032.77 L355.35 2033.78 L356.13 2034.81 L356.91 2035.86 L357.69 2036.93 L358.47 2038.01 L359.25 2039.1 L360.02 2040.2 L360.8 2041.31 L361.58 2042.43 L362.36 2043.58 L363.14 2044.76 L363.92 2045.97 L364.69 2047.21 L365.47 2048.46 L366.25 2049.74 L367.03 2051.04 L367.81 2052.35 L368.59 2053.67 L369.36 2055 L370.14 2056.34 L370.92 2057.69 L371.7 2059.04 L372.48 2060.38 L373.26 2061.73 L374.03 2063.07 L374.81 2064.4 L375.59 2065.72 L376.37 2067.03 L377.15 2068.32 L377.93 2069.62 L378.7 2070.92 L379.48 2072.23 L380.26 2073.55 L381.04 2074.86 L381.82 2076.18 L382.6 2077.5 L383.37 2078.82 L384.15 2080.13 L384.93 2081.45 L385.71 2082.75 L386.49 2084.06 L387.27 2085.35 L388.04 2086.64 L388.82 2087.92 L389.6 2089.18 L390.38 2090.44 L391.16 2091.68 L391.94 2092.91 L392.71 2094.13 L393.49 2095.34 L394.27 2096.56 L395.05 2097.77 L395.83 2098.99 L396.61 2100.2 L397.38 2101.4 L398.16 2102.6 L398.94 2103.79 L399.72 2104.97 L400.5 2106.14 L401.28 2107.29 L402.05 2108.43 L402.83 2109.56 L403.61 2110.67 L404.39 2111.76 L405.17 2112.83 L405.95 2113.88 L406.72 2114.9 L407.5 2115.9 L408.28 2116.88 L409.06 2117.84 L409.84 2118.8 L410.62 2119.75 L411.39 2120.69 L412.17 2121.61 L412.95 2122.53 L413.73 2123.43 L414.51 2124.32 L415.29 2125.2 L416.06 2126.06 L416.84 2126.9 L417.62 2127.73 L418.4 2128.55 L419.18 2129.34 L419.96 2130.12 L420.73 2130.87 L421.51 2131.61 L422.29 2132.33 L423.07 2133.02 L423.85 2133.69 L424.63 2134.36 L425.4 2135.02 L426.18 2135.68 L426.96 2136.33 L427.74 2136.97 L428.52 2137.6 L429.3 2138.21 L430.07 2138.82 L430.85 2139.41 L431.63 2139.99 L432.41 2140.55 L433.19 2141.09 L433.97 2141.61 L434.74 2142.12 L435.52 2142.6 L436.3 2143.06 L437.08 2143.5 L437.86 2143.92 L438.64 2144.31 L439.41 2144.67 L440.19 2145.03 L440.97 2145.38 L441.75 2145.73 L442.53 2146.07 L443.31 2146.4 L444.08 2146.72 L444.86 2147.03 L445.64 2147.33 L446.42 2147.62 L447.2 2147.9 L447.98 2148.16 L448.75 2148.41 L449.53 2148.65 L450.31 2148.87 L451.09 2149.07 L451.87 2149.26 L452.65 2149.43 L453.42 2149.58 L454.2 2149.71 L454.98 2149.83 L455.76 2149.94 L456.54 2150.05 L457.32 2150.16 L458.09 2150.27 L458.87 2150.37 L459.65 2150.47 L460.43 2150.56 L461.21 2150.64 L461.99 2150.72 L462.76 2150.79 L463.54 2150.85 L464.32 2150.9 L465.1 2150.94 L465.88 2150.97 L466.66 2150.98 L467.43 2150.98 L468.21 2150.96 L468.99 2150.93 L469.77 2150.89 L470.55 2150.83 L471.33 2150.76 L472.1 2150.68 L472.88 2150.59 L473.66 2150.49 L474.44 2150.38 L475.22 2150.27 L476 2150.15 L476.77 2150.02 L477.55 2149.88 L478.33 2149.74 L479.11 2149.6 L479.89 2149.46 L480.67 2149.31 L481.44 2149.17 L482.22 2149.02 L483 2148.87 L483.78 2148.73 L484.56 2148.58 L485.34 2148.43 L486.11 2148.26 L486.89 2148.08 L487.67 2147.9 L488.45 2147.7 L489.23 2147.49 L490.01 2147.28 L490.78 2147.06 L491.56 2146.83 L492.34 2146.6 L493.12 2146.36 L493.9 2146.12 L494.68 2145.87 L495.45 2145.63 L496.23 2145.38 L497.01 2145.13 L497.79 2144.87 L498.57 2144.62 L499.35 2144.37 L500.12 2144.12 L500.9 2143.87 L501.68 2143.62 L502.46 2143.37 L503.24 2143.13 L504.02 2142.89 L504.79 2142.66 L505.57 2142.43 L506.35 2142.19 L507.13 2141.96 L507.91 2141.72 L508.69 2141.47 L509.46 2141.23 L510.24 2140.98 L511.02 2140.73 L511.8 2140.48 L512.58 2140.23 L513.36 2139.98 L514.13 2139.73 L514.91 2139.48 L515.69 2139.22 L516.47 2138.97 L517.25 2138.72 L518.03 2138.47 L518.8 2138.22 L519.58 2137.98 L520.36 2137.73 L521.14 2137.49 L521.92 2137.25 L522.7 2137.02 L523.47 2136.79 L524.25 2136.56 L525.03 2136.34 L525.81 2136.12 L526.59 2135.91 L527.37 2135.7 L528.14 2135.5 L528.92 2135.3 L529.7 2135.11 L530.48 2134.91 L531.26 2134.72 L532.04 2134.52 L532.81 2134.33 L533.59 2134.14 L534.37 2133.94 L535.15 2133.75 L535.93 2133.56 L536.71 2133.37 L537.48 2133.19 L538.26 2133 L539.04 2132.82 L539.82 2132.63 L540.6 2132.45 L541.38 2132.27 L542.15 2132.09 L542.93 2131.92 L543.71 2131.75 L544.49 2131.58 L545.27 2131.41 L546.05 2131.24 L546.82 2131.08 L547.6 2130.93 L548.38 2130.78 L549.16 2130.63 L549.94 2130.48 L550.72 2130.34 L551.49 2130.21 L552.27 2130.08 L553.05 2129.95 L553.83 2129.83 L554.61 2129.71 L555.39 2129.59 L556.16 2129.48 L556.94 2129.38 L557.72 2129.28 L558.5 2129.19 L559.28 2129.1 L560.06 2129.01 L560.83 2128.93 L561.61 2128.84 L562.39 2128.76 L563.17 2128.67 L563.95 2128.59 L564.73 2128.5 L565.5 2128.42 L566.28 2128.34 L567.06 2128.26 L567.84 2128.18 L568.62 2128.1 L569.4 2128.02 L570.17 2127.94 L570.95 2127.87 L571.73 2127.79 L572.51 2127.72 L573.29 2127.65 L574.07 2127.59 L574.84 2127.52 L575.62 2127.46 L576.4 2127.4 L577.18 2127.34 L577.96 2127.29 L578.74 2127.24 L579.51 2127.19 L580.29 2127.14 L581.07 2127.1 L581.85 2127.06 L582.63 2127.03 L583.41 2127 L584.18 2126.97 L584.96 2126.95 L585.74 2126.94 L586.52 2126.92 L587.3 2126.91 L588.08 2126.91 L588.85 2126.91 L589.63 2126.92 L590.41 2126.93 L591.19 2126.95 L591.97 2126.96 L592.75 2126.98 L593.52 2126.99 L594.3 2127.01 L595.08 2127.02 L595.86 2127.03 L596.64 2127.04 L597.42 2127.06 L598.19 2127.07 L598.97 2127.07 L599.75 2127.08 L600.53 2127.09 L601.31 2127.1 L602.09 2127.11 L602.86 2127.12 L603.64 2127.13 L604.42 2127.14 L605.2 2127.15 L605.98 2127.16 L606.76 2127.16 L607.53 2127.17 L608.31 2127.18 L609.09 2127.19 L609.87 2127.2 L610.65 2127.21 L611.43 2127.22 L612.2 2127.23 L612.98 2127.24 L613.76 2127.24 L614.54 2127.25 L615.32 2127.26 L616.1 2127.27 L616.87 2127.28 L617.65 2127.29 L618.43 2127.29 L619.21 2127.3 L619.99 2127.31 L620.77 2127.32 L621.54 2127.33 L622.32 2127.34 L623.1 2127.35 L623.88 2127.36 L624.66 2127.37 L625.44 2127.39 L626.21 2127.41 L626.99 2127.43 L627.77 2127.45 L628.55 2127.47 L629.33 2127.49 L630.11 2127.52 L630.88 2127.55 L631.66 2127.58 L632.44 2127.61 L633.22 2127.64 L634 2127.67 L634.78 2127.7 L635.55 2127.74 L636.33 2127.77 L637.11 2127.81 L637.89 2127.85 L638.67 2127.89 L639.45 2127.93 L640.22 2127.97 L641 2128.01 L641.78 2128.05 L642.56 2128.09 L643.34 2128.13 L644.12 2128.18 L644.89 2128.22 L645.67 2128.26 L646.45 2128.31 L647.23 2128.35 L648.01 2128.4 L648.79 2128.44 L649.56 2128.49 L650.34 2128.53 L651.12 2128.58 L651.9 2128.62 L652.68 2128.67 L653.46 2128.71 L654.23 2128.75 L655.01 2128.8 L655.79 2128.84 L656.57 2128.88 L657.35 2128.93 L658.13 2128.97 L658.9 2129.01 L659.68 2129.05 L660.46 2129.09 L661.24 2129.13 L662.02 2129.16 L662.8 2129.2 L663.57 2129.24 L664.35 2129.27 L665.13 2129.3 L665.91 2129.34 L666.69 2129.37 L667.47 2129.4 L668.24 2129.43 L669.02 2129.46 L669.8 2129.48 L670.58 2129.51 L671.36 2129.54 L672.14 2129.57 L672.91 2129.59 L673.69 2129.62 L674.47 2129.65 L675.25 2129.68 L676.03 2129.71 L676.81 2129.74 L677.58 2129.77 L678.36 2129.8 L679.14 2129.82 L679.92 2129.85 L680.7 2129.88 L681.48 2129.91 L682.25 2129.94 L683.03 2129.97 L683.81 2130 L684.59 2130.03 L685.37 2130.06 L686.15 2130.09 L686.92 2130.12 L687.7 2130.15 L688.48 2130.18 L689.26 2130.21 L690.04 2130.24 L690.82 2130.27 L691.59 2130.3 L692.37 2130.33 L693.15 2130.36 L693.93 2130.39 L694.71 2130.42 L695.49 2130.45 L696.26 2130.47 L697.04 2130.5 L697.82 2130.53 L698.6 2130.56 L699.38 2130.59 L700.16 2130.61 L700.93 2130.64 L701.71 2130.67 L702.49 2130.69 L703.27 2130.72 L704.05 2130.74 L704.83 2130.77 L705.6 2130.79 L706.38 2130.82 L707.16 2130.84 L707.94 2130.86 L708.72 2130.88 L709.5 2130.91 L710.27 2130.93 L711.05 2130.95 L711.83 2130.97 L712.61 2130.99 L713.39 2131.01 L714.17 2131.03 L714.94 2131.04 L715.72 2131.06 L716.5 2131.08 L717.28 2131.09 L718.06 2131.11 L718.84 2131.12 L719.61 2131.14 L720.39 2131.15 L721.17 2131.16 L721.95 2131.17 L722.73 2131.18 L723.51 2131.19 L724.28 2131.2 L725.06 2131.21 L725.84 2131.21 L726.62 2131.22 L727.4 2131.22 L728.18 2131.23 L728.95 2131.23 L729.73 2131.23 L730.51 2131.23 L731.29 2131.24 L732.07 2131.24 L732.85 2131.24 L733.62 2131.24 L734.4 2131.24 L735.18 2131.24 L735.96 2131.24 L736.74 2131.24 L737.52 2131.24 L738.29 2131.24 L739.07 2131.24 L739.85 2131.24 L740.63 2131.24 L741.41 2131.24 L742.19 2131.24 L742.96 2131.24 L743.74 2131.24 L744.52 2131.24 L745.3 2131.24 L746.08 2131.24 L746.86 2131.24 L747.63 2131.24 L748.41 2131.24 L749.19 2131.24 L749.97 2131.24 L750.75 2131.24 L751.53 2131.24 L752.3 2131.24 L753.08 2131.24 L753.86 2131.24 L754.64 2131.24 L755.42 2131.24 L756.2 2131.24 L756.97 2131.24 L757.75 2131.24 L758.53 2131.24 L759.31 2131.24 L760.09 2131.24 L760.87 2131.24 L761.64 2131.24 L762.42 2131.24 L763.2 2131.24 L763.98 2131.24 L764.76 2131.24 L765.54 2131.24 L766.31 2131.24 L767.09 2131.24 L767.87 2131.24 L768.65 2131.24 L769.43 2131.24 L770.21 2131.24 L770.98 2131.24 L771.76 2131.24 L772.54 2131.24 L773.32 2131.24 L774.1 2131.24 L774.88 2131.24 L775.65 2131.24 L776.43 2131.24 L777.21 2131.24 L777.99 2131.24 L778.77 2131.24 L779.55 2131.24 L780.32 2131.24 L781.1 2131.24 L781.88 2131.24 L782.66 2131.24 L783.44 2131.24 L784.22 2131.24 L784.99 2131.24 L785.77 2131.24 L786.55 2131.24 L787.33 2131.24 L788.11 2131.24 L788.89 2131.24 L789.66 2131.24 L790.44 2131.24 L791.22 2131.24 L792 2131.24 L792.78 2131.24 L793.56 2131.24 L794.33 2131.24 L795.11 2131.24 L795.89 2131.24 L796.67 2131.24 L797.45 2131.24 L798.23 2131.24 L799 2131.24 L799.78 2131.24 L800.56 2131.24 L801.34 2131.24 L802.12 2131.24 L802.9 2131.24 L803.67 2131.24 L804.45 2131.24 L805.23 2131.24 L806.01 2131.24 L806.79 2131.24 L807.57 2131.24 L808.34 2131.24 L809.12 2131.24 L809.9 2131.24 L810.68 2131.24 L811.46 2131.24 L812.24 2131.24 L813.01 2131.24 L813.79 2131.24 L814.57 2131.24 L815.35 2131.24 L816.13 2131.24 L816.91 2131.24 L817.68 2131.24 L818.46 2131.24 L819.24 2131.24 L820.02 2131.24 L820.8 2131.24 L821.58 2131.24 L822.35 2131.24 L823.13 2131.24 L823.91 2131.24 L824.69 2131.24 L825.47 2131.24 L826.25 2131.24 L827.02 2131.24 L827.8 2131.24 L828.58 2131.24 L829.36 2131.24 L830.14 2131.24 L830.92 2131.24 L831.69 2131.24 L832.47 2131.24 L833.25 2131.24 L834.03 2131.24 L834.81 2131.24 L835.59 2131.24 L836.36 2131.24 L837.14 2131.24 L837.92 2131.24 L838.7 2131.24 L839.48 2131.24 L840.26 2131.24 L841.03 2131.24 L841.81 2131.24 L842.59 2131.24 L843.37 2131.24 L844.15 2131.24 L844.93 2131.24 L845.7 2131.24 L846.48 2131.24 L847.26 2131.24 L848.04 2131.24 L848.82 2131.24 L849.6 2131.24 L850.37 2131.24 L851.15 2131.24 L851.93 2131.24 L852.71 2131.24 L853.49 2131.24 L854.27 2131.24 L855.04 2131.24 L855.82 2131.24 L856.6 2131.24 L857.38 2131.24 L858.16 2131.24 L858.94 2131.24 L859.71 2131.24 L860.49 2131.24 L861.27 2131.24 L862.05 2131.24 L862.83 2131.24 L863.61 2131.24 L864.38 2131.24 L865.16 2131.24 L865.94 2131.24 L866.72 2131.24 L867.5 2131.24 L868.28 2131.24 L869.05 2131.24 L869.83 2131.24 L870.61 2131.24 L871.39 2131.24 L872.17 2131.24 L872.95 2131.24 L873.72 2131.24 L874.5 2131.24 L875.28 2131.24 L876.06 2131.24 L876.84 2131.24 L877.62 2131.24 L878.39 2131.24 L879.17 2131.24 L879.95 2131.24 L880.73 2131.24 L881.51 2131.24 L882.29 2131.24 L883.06 2131.24 L883.84 2131.24 L884.62 2131.24 L885.4 2131.24 L886.18 2131.24 L886.96 2131.24 L887.73 2131.24 L888.51 2131.24 L889.29 2131.24 L890.07 2131.24 L890.85 2131.24 L891.63 2131.24 L892.4 2131.24 L893.18 2131.24 L893.96 2131.24 L894.74 2131.24 L895.52 2131.24 L896.3 2131.24 L897.07 2131.24 L897.85 2131.24 L898.63 2131.24 L899.41 2131.24 L900.19 2131.24 L900.97 2131.24 L901.74 2131.24 L902.52 2131.24 L903.3 2131.24 L904.08 2131.24 L904.86 2131.24 L905.64 2131.24 L906.41 2131.24 L907.19 2131.24 L907.97 2131.24 L908.75 2131.24 L909.53 2131.24 L910.31 2131.24 L911.08 2131.24 L911.86 2131.24 L912.64 2131.24 L913.42 2131.24 L914.2 2131.24 L914.98 2131.24 L915.75 2131.24 L916.53 2131.24 L917.31 2131.24 L918.09 2131.24 L918.87 2131.24 L919.65 2131.24 L920.42 2131.24 L921.2 2131.24 L921.98 2131.24 L922.76 2131.24 L923.54 2131.24 L924.32 2131.24 L925.09 2131.24 L925.87 2131.24 L926.65 2131.24 L927.43 2131.24 L928.21 2131.24 L928.99 2131.24 L929.76 2131.24 L930.54 2131.24 L931.32 2131.24 L932.1 2131.24 L932.88 2131.24 L933.66 2131.24 L934.43 2131.24 L935.21 2131.24 L935.99 2131.24 L936.77 2131.24 L937.55 2131.24 L938.33 2131.24 L939.1 2131.24 L939.88 2131.24 L940.66 2131.24 L941.44 2131.24 L942.22 2131.24 L943 2131.24 L943.77 2131.24 L944.55 2131.24 L945.33 2131.24 L946.11 2131.24 L946.89 2131.24 L947.67 2131.24 L948.44 2131.24 L949.22 2131.24 L950 2131.24 L950.78 2131.24 L951.56 2131.24 L952.34 2131.24 L953.11 2131.24 L953.89 2131.24 L954.67 2131.24 L955.45 2131.24 L956.23 2131.24 L957.01 2131.24 L957.78 2131.24 L958.56 2131.24 L959.34 2131.24 L960.12 2131.24 L960.9 2131.24 L961.68 2131.24 L962.45 2131.24 L963.23 2131.24 L964.01 2131.24 L964.79 2131.24 L965.57 2131.24 L966.35 2131.24 L967.12 2131.24 L967.9 2131.24 L968.68 2131.24 L969.46 2131.24 L970.24 2131.24 L971.02 2131.24 L971.79 2131.24 L972.57 2131.24 L973.35 2131.24 L974.13 2131.24 L974.91 2131.24 L975.69 2131.24 L976.46 2131.24 L977.24 2131.24 L978.02 2131.24 L978.8 2131.24 L979.58 2131.24 L980.36 2131.24 L981.13 2131.24 L981.91 2131.24 L982.69 2131.24 L983.47 2131.24 L984.25 2131.24 L985.03 2131.24 L985.8 2131.24 L986.58 2131.24 L987.36 2131.24 L988.14 2131.24 L988.92 2131.24 L989.7 2131.24 L990.47 2131.24 L991.25 2131.24 L992.03 2131.24 L992.81 2131.24 L993.59 2131.24 L994.37 2131.24 L995.14 2131.24 L995.92 2131.24 L996.7 2131.24 L997.48 2131.24 L998.26 2131.24 L999.04 2131.24 L999.81 2131.24 L1000.59 2131.24 L1001.37 2131.24 L1002.15 2131.24 L1002.93 2131.24 L1003.71 2131.24 L1004.48 2131.24 L1005.26 2131.24 L1006.04 2131.24 L1006.82 2131.24 L1007.6 2131.24 L1008.38 2131.24 L1009.15 2131.24 L1009.93 2131.24 L1010.71 2131.24 L1011.49 2131.24 L1012.27 2131.24 L1013.05 2131.24 L1013.82 2131.24 L1014.6 2131.24 L1015.38 2131.24 L1016.16 2131.24 L1016.94 2131.24 L1017.72 2131.24 L1018.49 2131.24 L1019.27 2131.24 L1020.05 2131.24 L1020.83 2131.24 L1021.61 2131.24 L1022.39 2131.24 L1023.16 2131.24 L1023.94 2131.24 L1024.72 2131.24 L1025.5 2131.24 L1026.28 2131.24 L1027.06 2131.24 L1027.83 2131.24 L1028.61 2131.24 L1029.39 2131.24 L1030.17 2131.24 L1030.95 2131.24 L1031.73 2131.24 L1032.5 2131.24 L1033.28 2131.24 L1034.06 2131.24 L1034.84 2131.24 L1035.62 2131.24 L1036.4 2131.24 L1037.17 2131.24 L1037.95 2131.24 L1038.73 2131.24 L1039.51 2131.24 L1040.29 2131.24 L1041.07 2131.24 L1041.84 2131.24 L1042.62 2131.24 L1043.4 2131.24 L1044.18 2131.24 L1044.96 2131.24 L1045.74 2131.24 L1046.51 2131.24 L1047.29 2131.24 L1048.07 2131.24 L1048.85 2131.24 L1049.63 2131.24 L1050.41 2131.24 L1051.18 2131.24 L1051.96 2131.24 L1052.74 2131.24 L1053.52 2131.24 L1054.3 2131.24 L1055.08 2131.24 L1055.85 2131.24 L1056.63 2131.24 L1057.41 2131.24 L1058.19 2131.24 L1058.97 2131.24 L1059.75 2131.24 L1060.52 2131.24 L1061.3 2131.24 L1062.08 2131.24 L1062.86 2131.24 L1063.64 2131.24 L1064.42 2131.24 L1065.19 2131.24 L1065.97 2131.24 L1066.75 2131.24 L1067.53 2131.24 L1068.31 2131.24 L1069.09 2131.24 L1069.86 2131.24 L1070.64 2131.24 L1071.42 2131.24 L1072.2 2131.24 L1072.98 2131.24 L1073.76 2131.24 L1074.53 2131.24 L1075.31 2131.24 L1076.09 2131.24 L1076.87 2131.24 L1077.65 2131.24 L1078.43 2131.24 L1079.2 2131.24 L1079.98 2131.24 L1080.76 2131.24 L1081.54 2131.24 L1082.32 2131.24 L1083.1 2131.24 L1083.87 2131.24 L1084.65 2131.24 L1085.43 2131.24 L1086.21 2131.24 L1086.99 2131.24 L1087.77 2131.24 L1088.54 2131.24 L1089.32 2131.24 L1090.1 2131.24 L1090.88 2131.24 L1091.66 2131.24 L1092.44 2131.24 L1093.21 2131.24 L1093.99 2131.24 L1094.77 2131.24 L1095.55 2131.24 L1096.33 2131.24 L1097.11 2131.24 L1097.88 2131.24 L1098.66 2131.24 L1099.44 2131.24 L1100.22 2131.24 L1101 2131.24 L1101.78 2131.24 L1102.55 2131.24 L1103.33 2131.24 L1104.11 2131.24" fill="none" stroke="#000000" stroke-width="6.9" stroke-linecap="butt" stroke-linejoin="round"/>
</g>
<text x="170.5" y="2438.2" font-family="'Liberation Sans', 'DejaVu Sans', sans-serif" font-size="58.3" text-anchor="middle" fill="#262626">0</text>
<text x="326.17" y="2438.2" font-family="'Liberation Sans', 'DejaVu Sans', sans-serif" font-size="58.3" text-anchor="middle" fill="#262626">20</text>
<text x="481.83" y="2438.2" font-family="'Liberation Sans', 'DejaVu Sans', sans-serif" font-size="58.3" text-anchor="middle" fill="#262626">40</text>
<text x="637.5" y="2438.2" font-family="'Liberation Sans', 'DejaVu Sans', sans-serif" font-size="58.3" text-anchor="middle" fill="#262626">60</text>
<text x="793.17" y="2438.2" font-family="'Liberation Sans', 'DejaVu Sans', sans-serif" font-size="58.3" text-anchor="middle" fill="#262626">80</text>
<text x="948.83" y="2438.2" font-family="'Liberation Sans', 'DejaVu Sans', sans-serif" font-size="58.3" text-anchor="middle" fill="#262626">100</text>
<text x="1104.5" y="2438.2" font-family="'Liberation Sans', 'DejaVu Sans', sans-serif" font-size="58.3" text-anchor="middle" fill="#262626">120</text>
<text x="154.1" y="2385.4" font-family="'Liberation Sans', 'DejaVu Sans', sans-serif" font-size="58.3" text-anchor="end" fill="#262626">0</text>
<text x="154.1" y="2266.4" font-family="'Liberation Sans', 'DejaVu Sans', sans-serif" font-size="58.3" text-anchor="end" fill="#262626">20</text>
<text x="154.1" y="2147.4" font-family="'Liberation Sans', 'DejaVu Sans', sans-serif" font-size="58.3" text-anchor="end" fill="#262626">40</text>
<text x="154.1" y="2028.4" font-family="'Liberation Sans', 'DejaVu Sans', sans-serif" font-size="58.3" text-anchor="end" fill="#262626">60</text>
<text x="154.1" y="1909.4" font-family="'Liberation Sans', 'DejaVu Sans', sans-serif" font-size="58.3" text-anchor="end" fill="#262626">80</text>
<text x="637" y="2518.6" font-family="'Liberation Sans', 'DejaVu Sans', sans-serif" font-size="64.2" text-anchor="middle" fill="#262626">t [s]</text>
<g transform="translate(69 2189.22) rotate(-90)">
<text x="0" y="0" font-family="'Liberation Sans', 'DejaVu Sans', sans-serif" font-size="64.2" fill="#262626">K [J]</text>
</g>
<rect x="841.5" y="1899.5" width="175.0" height="445.0" fill="#fff" stroke="#262626" stroke-width="1"/>
<path d="M852.5 1960.5H912.5" stroke="#0072bd" stroke-width="5" fill="none"/>
<text x="917.2" y="1957.9" font-family="'Liberation Sans', 'DejaVu Sans', sans-serif" font-size="52.5" fill="#000">K</text>
<text x="954.05" y="1984.15" font-family="'Liberation Sans', 'DejaVu Sans', sans-serif" font-size="42" fill="#000">N</text>
<text x="984.39" y="2011.45" font-family="'Liberation Sans', 'DejaVu Sans', sans-serif" font-size="31.5" fill="#000">1</text>
<path d="M852.5 2076.3H912.5" stroke="#d95319" stroke-width="5" stroke-dasharray="13 10.5" fill="none"/>
<text x="917.2" y="2073.9" font-family="'Liberation Sans', 'DejaVu Sans', sans-serif" font-size="52.5" fill="#000">K</text>
<text x="954.05" y="2100.15" font-family="'Liberation Sans', 'DejaVu Sans', sans-serif" font-size="42" fill="#000">N</text>
<text x="984.39" y="2127.45" font-family="'Liberation Sans', 'DejaVu Sans', sans-serif" font-size="31.5" fill="#000">2</text>
<path d="M852.5 2191.4H912.5" stroke="#007f00" stroke-width="5" stroke-dasharray="12.6 2.4 6.6 2.4" fill="none"/>
<text x="917.2" y="2187.9" font-family="'Liberation Sans', 'DejaVu Sans', sans-serif" font-size="52.5" fill="#000">K</text>
<text x="954.05" y="2214.15" font-family="'Liberation Sans', 'DejaVu Sans', sans-serif" font-size="42" fill="#000">N</text>
<text x="984.39" y="2241.45" font-family="'Liberation Sans', 'DejaVu Sans', sans-serif" font-size="31.5" fill="#000">3</text>
<path d="M852.5 2294.8H912.5" stroke="#000000" stroke-width="6.6" fill="none"/>
<text x="917.2" y="2302.7" font-family="'Liberation Sans', 'DejaVu Sans', sans-serif" font-size="52.5" fill="#000">K</text>
<text x="954.05" y="2328.95" font-family="'Liberation Sans', 'DejaVu Sans', sans-serif" font-size="42" fill="#000">UV</text>
<text transform="translate(598 2633) scale(0.935 1)" font-family="'Liberation Serif', 'DejaVu Serif', serif" font-size="66" text-anchor="middle" fill="#000">(<tspan font-weight="bold">e</tspan>)</text>
</g>
<g id="panel-f">
<rect x="1506.5" y="1885.5" width="836.0" height="476.0" fill="#fff" stroke="#262626" stroke-width="1"/>
<path d="M1645.5 2361.5v-9.2M1645.5 1885.5v9.2M1784.5 2361.5v-9.2M1784.5 1885.5v9.2M1924.5 2361.5v-9.2M1924.5 1885.5v9.2M2063.5 2361.5v-9.2M2063.5 1885.5v9.2M2202.5 2361.5v-9.2M2202.5 1885.5v9.2M1506.5 2243.5h9.2M2342.5 2243.5h-9.2M1506.5 2124.5h9.2M2342.5 2124.5h-9.2M1506.5 2005.5h9.2M2342.5 2005.5h-9.2" fill="none" stroke="#262626" stroke-width="1"/>
<clipPath id="c5"><rect x="1503.5" y="1882.5" width="842.0" height="482.0"/></clipPath>
<g clip-path="url(#c5)">
<path d="M1507.31 2068.03 L1507.31 2210.98 L1508.36 2302.79 L1509.93 2326.39 L1509.93 2326.39 L1510.93 2316.87 L1511.93 2304.16 L1512.93 2287.26 L1513.93 2267.21 L1514.93 2248 L1515.93 2229.19 L1516.93 2212.64 L1517.93 2197.52 L1518.93 2183.66 L1519.93 2170.82 L1520.93 2159.07 L1521.93 2148.75 L1522.93 2139.78 L1523.93 2131.14 L1524.93 2121.94 L1525.93 2112.71 L1526.93 2104.38 L1527.93 2096.55 L1528.93 2089.83 L1529.93 2085.15 L1530.93 2081.5 L1531.93 2078.41 L1532.93 2075.57 L1533.93 2072.72 L1534.93 2069.97 L1535.93 2067.35 L1536.93 2064.91 L1537.93 2062.68 L1538.93 2060.69 L1539.93 2058.9 L1540.93 2057.27 L1541.93 2055.73 L1542.93 2054.25 L1543.93 2052.76 L1544.93 2051.22 L1545.93 2049.64 L1546.93 2048.09 L1547.93 2046.54 L1548.93 2044.99 L1549.93 2043.39 L1550.93 2041.72 L1551.93 2039.96 L1552.93 2038.11 L1553.93 2036.18 L1554.93 2034.18 L1555.93 2032.13 L1556.93 2030.05 L1557.93 2027.93 L1558.93 2025.76 L1559.93 2023.46 L1560.93 2021.11 L1561.93 2018.79 L1562.93 2016.61 L1563.93 2014.59 L1564.93 2012.57 L1565.93 2010.61 L1566.93 2008.81 L1567.93 2007.29 L1568.93 2006.14 L1569.93 2005.12 L1570.93 2004.19 L1571.93 2003.45 L1572.93 2003.04 L1573.93 2003.02 L1574.93 2003.3 L1575.93 2003.78 L1576.93 2004.41 L1577.93 2005.13 L1578.93 2006.25 L1579.93 2007.9 L1580.93 2009.85 L1581.93 2011.91 L1582.93 2014.23 L1583.93 2016.89 L1584.93 2019.76 L1585.93 2022.72 L1586.93 2025.83 L1587.93 2029.14 L1588.93 2032.61 L1589.93 2036.21 L1590.93 2040.02 L1591.93 2044.02 L1592.93 2048.12 L1593.93 2052.24 L1594.93 2056.3 L1595.93 2060.39 L1596.93 2064.57 L1597.93 2068.72 L1598.93 2072.71 L1599.93 2076.42 L1600.93 2079.79 L1601.93 2082.97 L1602.93 2085.98 L1603.93 2088.86 L1604.93 2091.65 L1605.93 2094.39 L1606.93 2097.16 L1607.93 2099.86 L1608.93 2102.4 L1609.93 2104.66 L1610.93 2106.56 L1611.93 2108.23 L1612.93 2109.74 L1613.93 2111.1 L1614.93 2112.33 L1615.93 2113.44 L1616.93 2114.47 L1617.93 2115.42 L1618.93 2116.29 L1619.93 2117.07 L1620.93 2117.74 L1621.93 2118.31 L1622.93 2118.83 L1623.93 2119.3 L1624.93 2119.74 L1625.93 2120.14 L1626.93 2120.52 L1627.93 2120.89 L1628.93 2121.25 L1629.93 2121.6 L1630.93 2121.92 L1631.93 2122.23 L1632.93 2122.53 L1633.93 2122.82 L1634.93 2123.1 L1635.93 2123.38 L1636.93 2123.66 L1637.93 2123.95 L1638.93 2124.25 L1639.93 2124.56 L1640.93 2124.88 L1641.93 2125.2 L1642.93 2125.53 L1643.93 2125.86 L1644.93 2126.19 L1645.93 2126.52 L1646.93 2126.85 L1647.93 2127.18 L1648.93 2127.5 L1649.93 2127.82 L1650.93 2128.13 L1651.93 2128.45 L1652.93 2128.77 L1653.93 2129.09 L1654.93 2129.41 L1655.93 2129.72 L1656.93 2130.02 L1657.93 2130.31 L1658.93 2130.59 L1659.93 2130.85 L1660.93 2131.09 L1661.93 2131.32 L1662.93 2131.55 L1663.93 2131.77 L1664.93 2131.98 L1665.93 2132.19 L1666.93 2132.38 L1667.93 2132.57 L1668.93 2132.75 L1669.93 2132.92 L1670.93 2133.07 L1671.93 2133.23 L1672.93 2133.39 L1673.93 2133.55 L1674.93 2133.7 L1675.93 2133.85 L1676.93 2133.99 L1677.93 2134.11 L1678.93 2134.22 L1679.93 2134.31 L1680.93 2134.37 L1681.93 2134.41 L1682.93 2134.44 L1683.93 2134.48 L1684.93 2134.5 L1685.93 2134.53 L1686.93 2134.56 L1687.93 2134.58 L1688.93 2134.6 L1689.93 2134.62 L1690.93 2134.63 L1691.93 2134.64 L1692.93 2134.65 L1693.93 2134.65 L1694.93 2134.66 L1695.93 2134.65 L1696.93 2134.65 L1697.93 2134.64 L1698.93 2134.62 L1699.93 2134.6 L1700.93 2134.59 L1701.93 2134.56 L1702.93 2134.54 L1703.93 2134.51 L1704.93 2134.48 L1705.93 2134.45 L1706.93 2134.42 L1707.93 2134.38 L1708.93 2134.33 L1709.93 2134.27 L1710.93 2134.18 L1711.93 2134.07 L1712.93 2133.96 L1713.93 2133.83 L1714.93 2133.69 L1715.93 2133.55 L1716.93 2133.4 L1717.93 2133.25 L1718.93 2133.1 L1719.93 2132.95 L1720.93 2132.8 L1721.93 2132.65 L1722.93 2132.5 L1723.93 2132.33 L1724.93 2132.16 L1725.93 2131.98 L1726.93 2131.8 L1727.93 2131.61 L1728.93 2131.42 L1729.93 2131.23 L1730.93 2131.03 L1731.93 2130.84 L1732.93 2130.65 L1733.93 2130.46 L1734.93 2130.27 L1735.93 2130.07 L1736.93 2129.87 L1737.93 2129.67 L1738.93 2129.47 L1739.93 2129.27 L1740.93 2129.06 L1741.93 2128.86 L1742.93 2128.65 L1743.93 2128.45 L1744.93 2128.25 L1745.93 2128.05 L1746.93 2127.86 L1747.93 2127.67 L1748.93 2127.47 L1749.93 2127.28 L1750.93 2127.08 L1751.93 2126.89 L1752.93 2126.7 L1753.93 2126.51 L1754.93 2126.32 L1755.93 2126.13 L1756.93 2125.95 L1757.93 2125.76 L1758.93 2125.59 L1759.93 2125.41 L1760.93 2125.25 L1761.93 2125.08 L1762.93 2124.93 L1763.93 2124.77 L1764.93 2124.62 L1765.93 2124.47 L1766.93 2124.31 L1767.93 2124.17 L1768.93 2124.02 L1769.93 2123.87 L1770.93 2123.73 L1771.93 2123.6 L1772.93 2123.47 L1773.93 2123.34 L1774.93 2123.22 L1775.93 2123.11 L1776.93 2123 L1777.93 2122.91 L1778.93 2122.82 L1779.93 2122.73 L1780.93 2122.65 L1781.93 2122.56 L1782.93 2122.48 L1783.93 2122.41 L1784.93 2122.33 L1785.93 2122.26 L1786.93 2122.2 L1787.93 2122.13 L1788.93 2122.07 L1789.93 2122.01 L1790.93 2121.96 L1791.93 2121.91 L1792.93 2121.86 L1793.93 2121.82 L1794.93 2121.78 L1795.93 2121.74 L1796.93 2121.69 L1797.93 2121.65 L1798.93 2121.61 L1799.93 2121.57 L1800.93 2121.54 L1801.93 2121.5 L1802.93 2121.47 L1803.93 2121.43 L1804.93 2121.4 L1805.93 2121.37 L1806.93 2121.35 L1807.93 2121.33 L1808.93 2121.31 L1809.93 2121.3 L1810.93 2121.29 L1811.93 2121.28 L1812.93 2121.28 L1813.93 2121.28 L1814.93 2121.28 L1815.93 2121.28 L1816.93 2121.28 L1817.93 2121.28 L1818.93 2121.28 L1819.93 2121.28 L1820.93 2121.28 L1821.93 2121.28 L1822.93 2121.28 L1823.93 2121.28 L1824.93 2121.28 L1825.93 2121.28 L1826.93 2121.28 L1827.93 2121.28 L1828.93 2121.28 L1829.93 2121.28 L1830.93 2121.28 L1831.93 2121.28 L1832.93 2121.28 L1833.93 2121.29 L1834.93 2121.3 L1835.93 2121.31 L1836.93 2121.32 L1837.93 2121.33 L1838.93 2121.35 L1839.93 2121.37 L1840.93 2121.39 L1841.93 2121.41 L1842.93 2121.43 L1843.93 2121.45 L1844.93 2121.47 L1845.93 2121.5 L1846.93 2121.52 L1847.93 2121.55 L1848.93 2121.58 L1849.93 2121.6 L1850.93 2121.63 L1851.93 2121.66 L1852.93 2121.69 L1853.93 2121.71 L1854.93 2121.74 L1855.93 2121.77 L1856.93 2121.8 L1857.93 2121.82 L1858.93 2121.85 L1859.93 2121.89 L1860.93 2121.92 L1861.93 2121.96 L1862.93 2122 L1863.93 2122.04 L1864.93 2122.08 L1865.93 2122.13 L1866.93 2122.17 L1867.93 2122.22 L1868.93 2122.26 L1869.93 2122.31 L1870.93 2122.36 L1871.93 2122.4 L1872.93 2122.45 L1873.93 2122.49 L1874.93 2122.54 L1875.93 2122.58 L1876.93 2122.62 L1877.93 2122.67 L1878.93 2122.7 L1879.93 2122.74 L1880.93 2122.78 L1881.93 2122.81 L1882.93 2122.84 L1883.93 2122.87 L1884.93 2122.89 L1885.93 2122.92 L1886.93 2122.95 L1887.93 2122.98 L1888.93 2123 L1889.93 2123.03 L1890.93 2123.06 L1891.93 2123.09 L1892.93 2123.11 L1893.93 2123.14 L1894.93 2123.16 L1895.93 2123.19 L1896.93 2123.21 L1897.93 2123.23 L1898.93 2123.25 L1899.93 2123.27 L1900.93 2123.29 L1901.93 2123.31 L1902.93 2123.33 L1903.93 2123.34 L1904.93 2123.35 L1905.93 2123.36 L1906.93 2123.37 L1907.93 2123.37 L1908.93 2123.38 L1909.93 2123.38 L1910.93 2123.38 L1911.93 2123.38 L1912.93 2123.38 L1913.93 2123.38 L1914.93 2123.38 L1915.93 2123.38 L1916.93 2123.38 L1917.93 2123.38 L1918.93 2123.38 L1919.93 2123.38 L1920.93 2123.38 L1921.93 2123.38 L1922.93 2123.38 L1923.93 2123.38 L1924.93 2123.38 L1925.93 2123.38 L1926.93 2123.38 L1927.93 2123.38 L1928.93 2123.38 L1929.93 2123.38 L1930.93 2123.38 L1931.93 2123.38 L1932.93 2123.38 L1933.93 2123.38 L1934.93 2123.38 L1935.93 2123.38 L1936.93 2123.38 L1937.93 2123.38 L1938.93 2123.38 L1939.93 2123.38 L1940.93 2123.38 L1941.93 2123.38 L1942.93 2123.38 L1943.93 2123.38 L1944.93 2123.38 L1945.93 2123.38 L1946.93 2123.38 L1947.93 2123.38 L1948.93 2123.38 L1949.93 2123.38 L1950.93 2123.38 L1951.93 2123.38 L1952.93 2123.38 L1953.93 2123.38 L1954.93 2123.38 L1955.93 2123.38 L1956.93 2123.38 L1957.93 2123.38 L1958.93 2123.38 L1959.93 2123.38 L1960.93 2123.38 L1961.93 2123.38 L1962.93 2123.38 L1963.93 2123.38 L1964.93 2123.38 L1965.93 2123.38 L1966.93 2123.38 L1967.93 2123.38 L1968.93 2123.38 L1969.93 2123.38 L1970 2123.38 L2342.5 2123.5" fill="none" stroke="#0072bd" stroke-width="5.2" stroke-linecap="butt" stroke-linejoin="round"/>
</g>
<text x="1506.5" y="2438.2" font-family="'Liberation Sans', 'DejaVu Sans', sans-serif" font-size="58.3" text-anchor="middle" fill="#262626">0</text>
<text x="1645.83" y="2438.2" font-family="'Liberation Sans', 'DejaVu Sans', sans-serif" font-size="58.3" text-anchor="middle" fill="#262626">20</text>
<text x="1785.17" y="2438.2" font-family="'Liberation Sans', 'DejaVu Sans', sans-serif" font-size="58.3" text-anchor="middle" fill="#262626">40</text>
<text x="1924.5" y="2438.2" font-family="'Liberation Sans', 'DejaVu Sans', sans-serif" font-size="58.3" text-anchor="middle" fill="#262626">60</text>
<text x="2063.83" y="2438.2" font-family="'Liberation Sans', 'DejaVu Sans', sans-serif" font-size="58.3" text-anchor="middle" fill="#262626">80</text>
<text x="2203.17" y="2438.2" font-family="'Liberation Sans', 'DejaVu Sans', sans-serif" font-size="58.3" text-anchor="middle" fill="#262626">100</text>
<text x="2342.5" y="2438.2" font-family="'Liberation Sans', 'DejaVu Sans', sans-serif" font-size="58.3" text-anchor="middle" fill="#262626">120</text>
<text x="1490.1" y="2385.4" font-family="'Liberation Sans', 'DejaVu Sans', sans-serif" font-size="58.3" text-anchor="end" fill="#262626">-0.02</text>
<text x="1490.1" y="2266.4" font-family="'Liberation Sans', 'DejaVu Sans', sans-serif" font-size="58.3" text-anchor="end" fill="#262626">-0.01</text>
<text x="1490.1" y="2147.4" font-family="'Liberation Sans', 'DejaVu Sans', sans-serif" font-size="58.3" text-anchor="end" fill="#262626">0</text>
<text x="1490.1" y="2028.4" font-family="'Liberation Sans', 'DejaVu Sans', sans-serif" font-size="58.3" text-anchor="end" fill="#262626">0.01</text>
<text x="1490.1" y="1909.4" font-family="'Liberation Sans', 'DejaVu Sans', sans-serif" font-size="58.3" text-anchor="end" fill="#262626">0.02</text>
<text x="1924" y="2518.6" font-family="'Liberation Sans', 'DejaVu Sans', sans-serif" font-size="64.2" text-anchor="middle" fill="#262626">t [s]</text>
<g transform="translate(1306.7 2259.35) rotate(-90)">
<text x="0" y="0" transform="translate(-2.66 0) scale(1.2811 1)" font-family="'Noto Serif CJK SC', 'DejaVu Serif', serif" font-size="63.15" fill="#262626">Δ</text>
<text x="0" y="0" transform="translate(36.52 7.27) scale(0.8606 1)" font-family="IPAGothic, 'Liberation Serif', serif" font-size="68.81" fill="#262626" stroke="#fff" stroke-width="1.67" stroke-linejoin="round">ζ</text>
<text x="79.99" y="32.1" font-family="'Liberation Sans', 'DejaVu Sans', sans-serif" font-size="51.36" fill="#262626">2</text>
<text x="111.77" y="0" font-family="'Liberation Sans', 'DejaVu Sans', sans-serif" font-size="64.2" fill="#262626"> [m/s]</text>
</g>
<text transform="translate(1834 2633) scale(0.935 1)" font-family="'Liberation Serif', 'DejaVu Serif', serif" font-size="66" text-anchor="middle" fill="#000">(<tspan font-weight="bold">f</tspan>)</text>
</g>
</svg>
</body>
</html>
